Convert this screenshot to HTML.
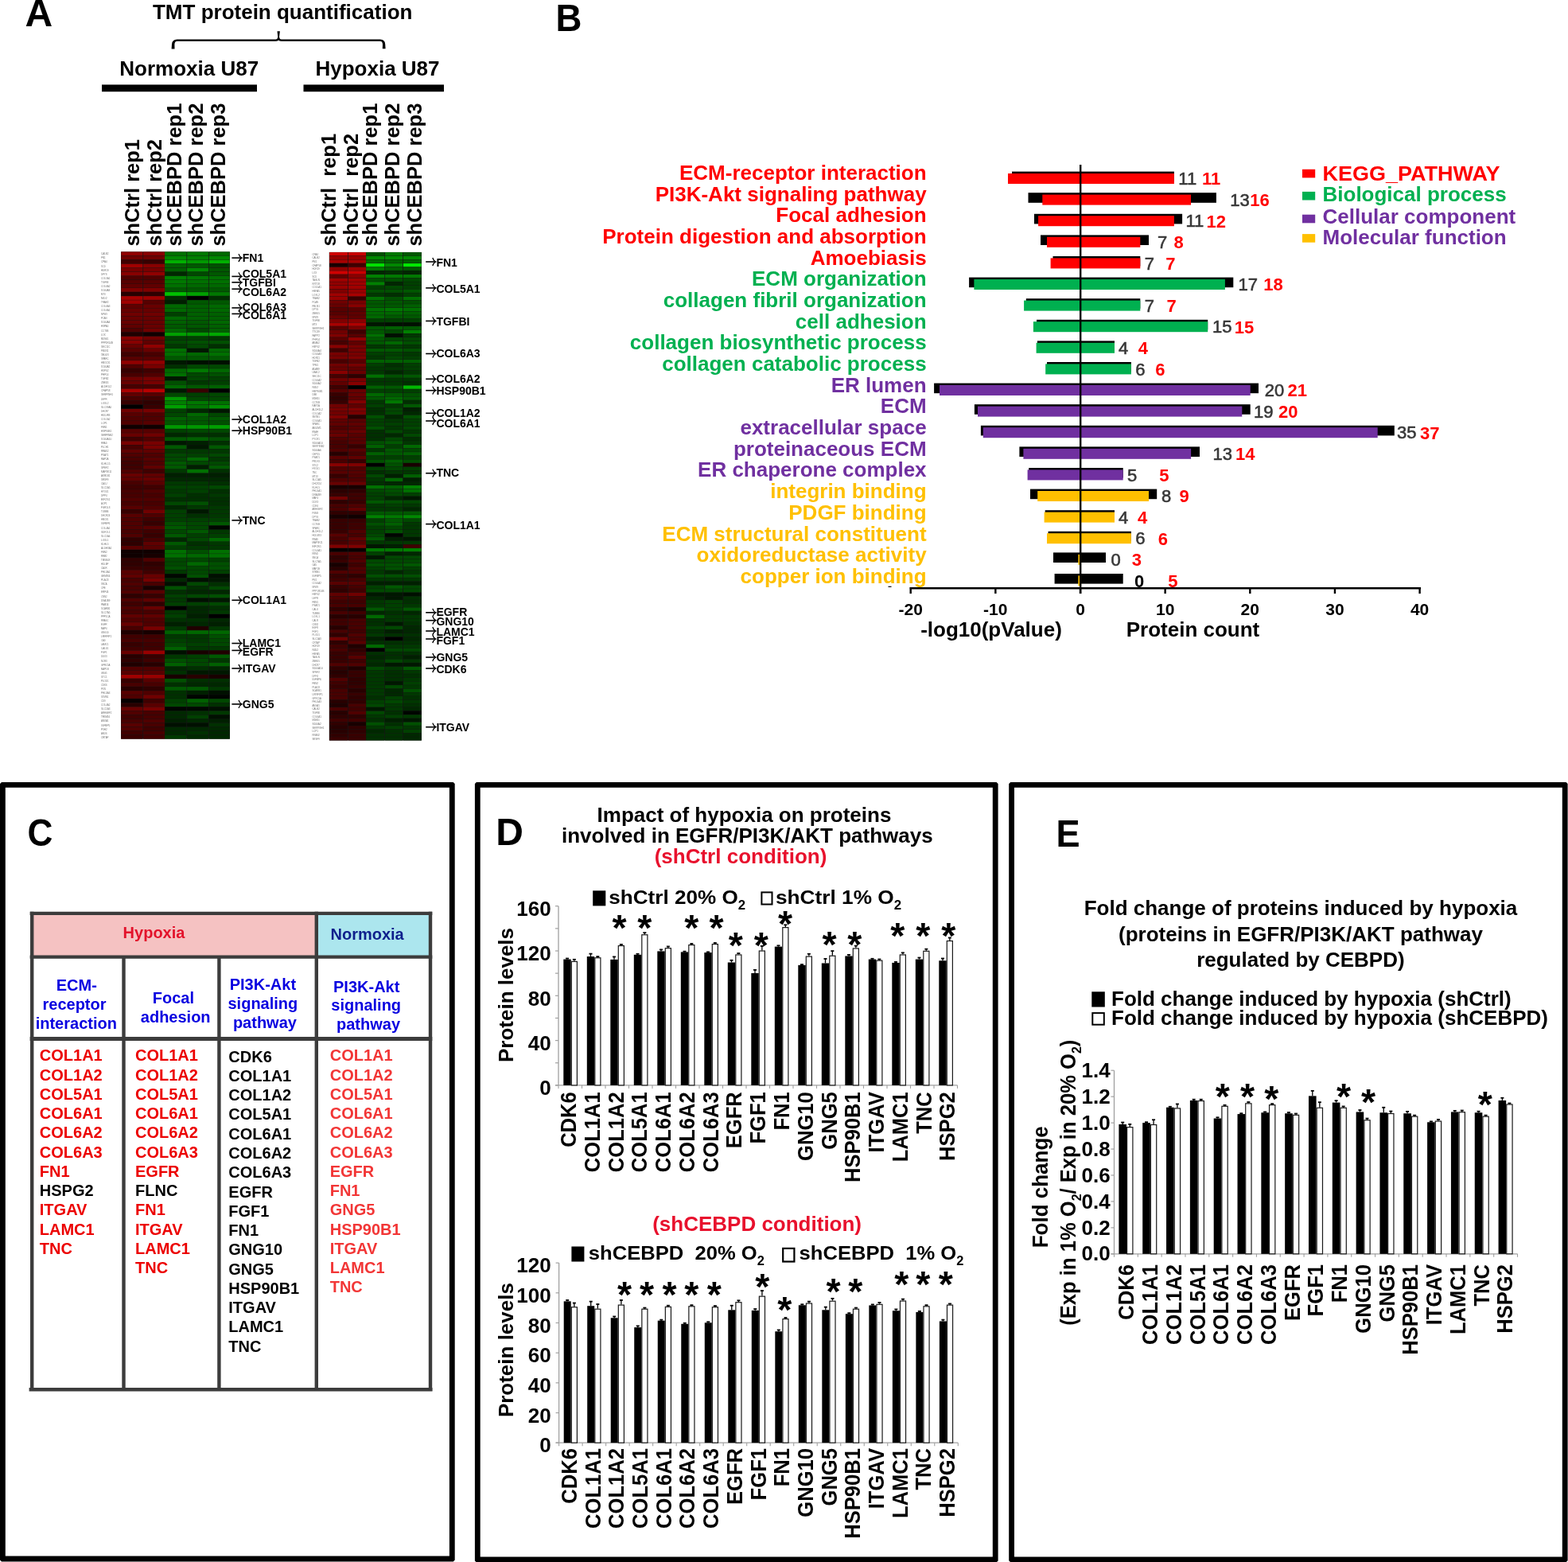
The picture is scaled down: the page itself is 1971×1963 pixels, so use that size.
<!DOCTYPE html>
<html><head><meta charset="utf-8"><title>Figure</title>
<style>
html,body{margin:0;padding:0;background:#fff;}
svg{display:block;}
svg text{font-family:"Liberation Sans",sans-serif;}
</style></head>
<body>
<svg width="1971" height="1963" viewBox="0 0 1971 1963">
<rect x="0" y="0" width="1971" height="1963" fill="#fff"/>
<text x="31.5" y="33.2" font-size="48" font-weight="bold" fill="#000" text-anchor="start">A</text>
<text x="355.2" y="23.6" font-size="26" font-weight="bold" fill="#000" text-anchor="middle">TMT protein quantification</text>
<path d="M222.5,49.4 L346.6,49.4 Q349.0,49.3 349.3,46.5 L348.5,39.3 L351.9,39.3 L351.0,46.5 Q351.3,49.3 353.7,49.4 L478.0,49.4 Q484.0,49.6 484.2,55.5 L484.6,61.3 L480.8,61.3 L481.0,56.0 Q481.0,51.9 477.5,51.8 L354.0,51.8 Q351.0,51.8 350.1,50.6 Q349.2,51.8 346.3,51.8 L223.0,51.8 Q219.4,51.9 219.4,56.0 L219.5,61.4 L215.6,61.4 L216.0,55.5 Q216.3,49.6 222.5,49.4 Z" fill="#000"/>
<text x="237.7" y="94.7" font-size="26" font-weight="bold" fill="#000" text-anchor="middle">Normoxia U87</text>
<text x="474.5" y="94.7" font-size="26" font-weight="bold" fill="#000" text-anchor="middle">Hypoxia U87</text>
<rect x="128.00" y="106.40" width="195.00" height="8.80" fill="#000"/>
<rect x="381.50" y="106.40" width="176.50" height="8.80" fill="#000"/>
<text transform="translate(175.1,309.6) rotate(-90)" font-size="25.5" font-weight="bold" fill="#000" text-anchor="start">shCtrl rep1</text>
<text transform="translate(203.1,309.6) rotate(-90)" font-size="25.5" font-weight="bold" fill="#000" text-anchor="start">shCtrl rep2</text>
<text transform="translate(227.6,309.6) rotate(-90)" font-size="25.5" font-weight="bold" fill="#000" text-anchor="start">shCEBPD rep1</text>
<text transform="translate(255.4,309.6) rotate(-90)" font-size="25.5" font-weight="bold" fill="#000" text-anchor="start">shCEBPD rep2</text>
<text transform="translate(283.0,309.6) rotate(-90)" font-size="25.5" font-weight="bold" fill="#000" text-anchor="start">shCEBPD rep3</text>
<text transform="translate(422.2,309.6) rotate(-90)" font-size="25.5" font-weight="bold" fill="#000" text-anchor="start">shCtrl  rep1</text>
<text transform="translate(450.0,309.6) rotate(-90)" font-size="25.5" font-weight="bold" fill="#000" text-anchor="start">shCtrl  rep2</text>
<text transform="translate(474.4,309.6) rotate(-90)" font-size="25.5" font-weight="bold" fill="#000" text-anchor="start">shCEBPD rep1</text>
<text transform="translate(502.2,309.6) rotate(-90)" font-size="25.5" font-weight="bold" fill="#000" text-anchor="start">shCEBPD rep2</text>
<text transform="translate(530.0,309.6) rotate(-90)" font-size="25.5" font-weight="bold" fill="#000" text-anchor="start">shCEBPD rep3</text>
<rect x="152.00" y="316.30" width="137.00" height="612.40" fill="#161616"/>
<rect x="152.35" y="316.48" width="27.10" height="4.70" fill="#900000"/>
<rect x="180.15" y="316.48" width="26.95" height="4.70" fill="#880000"/>
<rect x="207.10" y="316.48" width="27.35" height="4.70" fill="#007000"/>
<rect x="235.15" y="316.48" width="26.80" height="4.70" fill="#007800"/>
<rect x="262.65" y="316.48" width="26.00" height="4.70" fill="#006800"/>
<rect x="152.35" y="321.54" width="27.10" height="4.70" fill="#700000"/>
<rect x="180.15" y="321.54" width="26.95" height="4.70" fill="#700000"/>
<rect x="207.10" y="321.54" width="27.35" height="4.70" fill="#008800"/>
<rect x="235.15" y="321.54" width="26.80" height="4.70" fill="#008000"/>
<rect x="262.65" y="321.54" width="26.00" height="4.70" fill="#008800"/>
<rect x="152.35" y="326.60" width="27.10" height="4.70" fill="#400000"/>
<rect x="180.15" y="326.60" width="26.95" height="4.70" fill="#380000"/>
<rect x="207.10" y="326.60" width="27.35" height="4.70" fill="#00b000"/>
<rect x="235.15" y="326.60" width="26.80" height="4.70" fill="#009800"/>
<rect x="262.65" y="326.60" width="26.00" height="4.70" fill="#00b000"/>
<rect x="152.35" y="331.66" width="27.10" height="4.70" fill="#a00000"/>
<rect x="180.15" y="331.66" width="26.95" height="4.70" fill="#880000"/>
<rect x="207.10" y="331.66" width="27.35" height="4.70" fill="#006000"/>
<rect x="235.15" y="331.66" width="26.80" height="4.70" fill="#005800"/>
<rect x="262.65" y="331.66" width="26.00" height="4.70" fill="#005000"/>
<rect x="152.35" y="336.72" width="27.10" height="4.70" fill="#780000"/>
<rect x="180.15" y="336.72" width="26.95" height="4.70" fill="#780000"/>
<rect x="207.10" y="336.72" width="27.35" height="4.70" fill="#006000"/>
<rect x="235.15" y="336.72" width="26.80" height="4.70" fill="#008800"/>
<rect x="262.65" y="336.72" width="26.00" height="4.70" fill="#005800"/>
<rect x="152.35" y="341.79" width="27.10" height="4.70" fill="#880000"/>
<rect x="180.15" y="341.79" width="26.95" height="4.70" fill="#900000"/>
<rect x="207.10" y="341.79" width="27.35" height="4.70" fill="#002800"/>
<rect x="235.15" y="341.79" width="26.80" height="4.70" fill="#004800"/>
<rect x="262.65" y="341.79" width="26.00" height="4.70" fill="#005800"/>
<rect x="152.35" y="346.85" width="27.10" height="4.70" fill="#500000"/>
<rect x="180.15" y="346.85" width="26.95" height="4.70" fill="#500000"/>
<rect x="207.10" y="346.85" width="27.35" height="4.70" fill="#008000"/>
<rect x="235.15" y="346.85" width="26.80" height="4.70" fill="#007800"/>
<rect x="262.65" y="346.85" width="26.00" height="4.70" fill="#007000"/>
<rect x="152.35" y="351.91" width="27.10" height="4.70" fill="#580000"/>
<rect x="180.15" y="351.91" width="26.95" height="4.70" fill="#580000"/>
<rect x="207.10" y="351.91" width="27.35" height="4.70" fill="#007800"/>
<rect x="235.15" y="351.91" width="26.80" height="4.70" fill="#007000"/>
<rect x="262.65" y="351.91" width="26.00" height="4.70" fill="#007000"/>
<rect x="152.35" y="356.97" width="27.10" height="4.70" fill="#600000"/>
<rect x="180.15" y="356.97" width="26.95" height="4.70" fill="#600000"/>
<rect x="207.10" y="356.97" width="27.35" height="4.70" fill="#007000"/>
<rect x="235.15" y="356.97" width="26.80" height="4.70" fill="#006800"/>
<rect x="262.65" y="356.97" width="26.00" height="4.70" fill="#006800"/>
<rect x="152.35" y="362.03" width="27.10" height="4.70" fill="#800000"/>
<rect x="180.15" y="362.03" width="26.95" height="4.70" fill="#800000"/>
<rect x="207.10" y="362.03" width="27.35" height="4.70" fill="#005800"/>
<rect x="235.15" y="362.03" width="26.80" height="4.70" fill="#005800"/>
<rect x="262.65" y="362.03" width="26.00" height="4.70" fill="#005800"/>
<rect x="152.35" y="367.09" width="27.10" height="4.70" fill="#280000"/>
<rect x="180.15" y="367.09" width="26.95" height="4.70" fill="#300000"/>
<rect x="207.10" y="367.09" width="27.35" height="4.70" fill="#00c000"/>
<rect x="235.15" y="367.09" width="26.80" height="4.70" fill="#00a000"/>
<rect x="262.65" y="367.09" width="26.00" height="4.70" fill="#007800"/>
<rect x="152.35" y="372.15" width="27.10" height="4.70" fill="#a80000"/>
<rect x="180.15" y="372.15" width="26.95" height="4.70" fill="#a00000"/>
<rect x="207.10" y="372.15" width="27.35" height="4.70" fill="#003000"/>
<rect x="235.15" y="372.15" width="26.80" height="4.70" fill="#000000"/>
<rect x="262.65" y="372.15" width="26.00" height="4.70" fill="#003000"/>
<rect x="152.35" y="377.21" width="27.10" height="4.70" fill="#a00000"/>
<rect x="180.15" y="377.21" width="26.95" height="4.70" fill="#580000"/>
<rect x="207.10" y="377.21" width="27.35" height="4.70" fill="#002000"/>
<rect x="235.15" y="377.21" width="26.80" height="4.70" fill="#005800"/>
<rect x="262.65" y="377.21" width="26.00" height="4.70" fill="#005800"/>
<rect x="152.35" y="382.28" width="27.10" height="4.70" fill="#600000"/>
<rect x="180.15" y="382.28" width="26.95" height="4.70" fill="#680000"/>
<rect x="207.10" y="382.28" width="27.35" height="4.70" fill="#006800"/>
<rect x="235.15" y="382.28" width="26.80" height="4.70" fill="#006000"/>
<rect x="262.65" y="382.28" width="26.00" height="4.70" fill="#006800"/>
<rect x="152.35" y="387.34" width="27.10" height="4.70" fill="#680000"/>
<rect x="180.15" y="387.34" width="26.95" height="4.70" fill="#680000"/>
<rect x="207.10" y="387.34" width="27.35" height="4.70" fill="#006800"/>
<rect x="235.15" y="387.34" width="26.80" height="4.70" fill="#006000"/>
<rect x="262.65" y="387.34" width="26.00" height="4.70" fill="#006800"/>
<rect x="152.35" y="392.40" width="27.10" height="4.70" fill="#700000"/>
<rect x="180.15" y="392.40" width="26.95" height="4.70" fill="#700000"/>
<rect x="207.10" y="392.40" width="27.35" height="4.70" fill="#004000"/>
<rect x="235.15" y="392.40" width="26.80" height="4.70" fill="#006000"/>
<rect x="262.65" y="392.40" width="26.00" height="4.70" fill="#006000"/>
<rect x="152.35" y="397.46" width="27.10" height="4.70" fill="#680000"/>
<rect x="180.15" y="397.46" width="26.95" height="4.70" fill="#680000"/>
<rect x="207.10" y="397.46" width="27.35" height="4.70" fill="#006800"/>
<rect x="235.15" y="397.46" width="26.80" height="4.70" fill="#006000"/>
<rect x="262.65" y="397.46" width="26.00" height="4.70" fill="#006000"/>
<rect x="152.35" y="402.52" width="27.10" height="4.70" fill="#680000"/>
<rect x="180.15" y="402.52" width="26.95" height="4.70" fill="#680000"/>
<rect x="207.10" y="402.52" width="27.35" height="4.70" fill="#006000"/>
<rect x="235.15" y="402.52" width="26.80" height="4.70" fill="#005800"/>
<rect x="262.65" y="402.52" width="26.00" height="4.70" fill="#006800"/>
<rect x="152.35" y="407.58" width="27.10" height="4.70" fill="#600000"/>
<rect x="180.15" y="407.58" width="26.95" height="4.70" fill="#680000"/>
<rect x="207.10" y="407.58" width="27.35" height="4.70" fill="#005800"/>
<rect x="235.15" y="407.58" width="26.80" height="4.70" fill="#005800"/>
<rect x="262.65" y="407.58" width="26.00" height="4.70" fill="#006000"/>
<rect x="152.35" y="412.64" width="27.10" height="4.70" fill="#500000"/>
<rect x="180.15" y="412.64" width="26.95" height="4.70" fill="#700000"/>
<rect x="207.10" y="412.64" width="27.35" height="4.70" fill="#006800"/>
<rect x="235.15" y="412.64" width="26.80" height="4.70" fill="#004800"/>
<rect x="262.65" y="412.64" width="26.00" height="4.70" fill="#006000"/>
<rect x="152.35" y="417.70" width="27.10" height="4.70" fill="#200000"/>
<rect x="180.15" y="417.70" width="26.95" height="4.70" fill="#100000"/>
<rect x="207.10" y="417.70" width="27.35" height="4.70" fill="#00a000"/>
<rect x="235.15" y="417.70" width="26.80" height="4.70" fill="#009800"/>
<rect x="262.65" y="417.70" width="26.00" height="4.70" fill="#00a800"/>
<rect x="152.35" y="422.76" width="27.10" height="4.70" fill="#880000"/>
<rect x="180.15" y="422.76" width="26.95" height="4.70" fill="#700000"/>
<rect x="207.10" y="422.76" width="27.35" height="4.70" fill="#004000"/>
<rect x="235.15" y="422.76" width="26.80" height="4.70" fill="#004000"/>
<rect x="262.65" y="422.76" width="26.00" height="4.70" fill="#003800"/>
<rect x="152.35" y="427.83" width="27.10" height="4.70" fill="#880000"/>
<rect x="180.15" y="427.83" width="26.95" height="4.70" fill="#600000"/>
<rect x="207.10" y="427.83" width="27.35" height="4.70" fill="#004800"/>
<rect x="235.15" y="427.83" width="26.80" height="4.70" fill="#005000"/>
<rect x="262.65" y="427.83" width="26.00" height="4.70" fill="#005000"/>
<rect x="152.35" y="432.89" width="27.10" height="4.70" fill="#680000"/>
<rect x="180.15" y="432.89" width="26.95" height="4.70" fill="#900000"/>
<rect x="207.10" y="432.89" width="27.35" height="4.70" fill="#003800"/>
<rect x="235.15" y="432.89" width="26.80" height="4.70" fill="#004800"/>
<rect x="262.65" y="432.89" width="26.00" height="4.70" fill="#003000"/>
<rect x="152.35" y="437.95" width="27.10" height="4.70" fill="#580000"/>
<rect x="180.15" y="437.95" width="26.95" height="4.70" fill="#680000"/>
<rect x="207.10" y="437.95" width="27.35" height="4.70" fill="#007000"/>
<rect x="235.15" y="437.95" width="26.80" height="4.70" fill="#001800"/>
<rect x="262.65" y="437.95" width="26.00" height="4.70" fill="#006800"/>
<rect x="152.35" y="443.01" width="27.10" height="4.70" fill="#400000"/>
<rect x="180.15" y="443.01" width="26.95" height="4.70" fill="#480000"/>
<rect x="207.10" y="443.01" width="27.35" height="4.70" fill="#007000"/>
<rect x="235.15" y="443.01" width="26.80" height="4.70" fill="#006800"/>
<rect x="262.65" y="443.01" width="26.00" height="4.70" fill="#007000"/>
<rect x="152.35" y="448.07" width="27.10" height="4.70" fill="#580000"/>
<rect x="180.15" y="448.07" width="26.95" height="4.70" fill="#580000"/>
<rect x="207.10" y="448.07" width="27.35" height="4.70" fill="#005800"/>
<rect x="235.15" y="448.07" width="26.80" height="4.70" fill="#005800"/>
<rect x="262.65" y="448.07" width="26.00" height="4.70" fill="#005800"/>
<rect x="152.35" y="453.13" width="27.10" height="4.70" fill="#900000"/>
<rect x="180.15" y="453.13" width="26.95" height="4.70" fill="#900000"/>
<rect x="207.10" y="453.13" width="27.35" height="4.70" fill="#001800"/>
<rect x="235.15" y="453.13" width="26.80" height="4.70" fill="#001000"/>
<rect x="262.65" y="453.13" width="26.00" height="4.70" fill="#001000"/>
<rect x="152.35" y="458.19" width="27.10" height="4.70" fill="#500000"/>
<rect x="180.15" y="458.19" width="26.95" height="4.70" fill="#780000"/>
<rect x="207.10" y="458.19" width="27.35" height="4.70" fill="#003000"/>
<rect x="235.15" y="458.19" width="26.80" height="4.70" fill="#004800"/>
<rect x="262.65" y="458.19" width="26.00" height="4.70" fill="#004800"/>
<rect x="152.35" y="463.25" width="27.10" height="4.70" fill="#380000"/>
<rect x="180.15" y="463.25" width="26.95" height="4.70" fill="#400000"/>
<rect x="207.10" y="463.25" width="27.35" height="4.70" fill="#006800"/>
<rect x="235.15" y="463.25" width="26.80" height="4.70" fill="#007800"/>
<rect x="262.65" y="463.25" width="26.00" height="4.70" fill="#006800"/>
<rect x="152.35" y="468.31" width="27.10" height="4.70" fill="#480000"/>
<rect x="180.15" y="468.31" width="26.95" height="4.70" fill="#500000"/>
<rect x="207.10" y="468.31" width="27.35" height="4.70" fill="#007000"/>
<rect x="235.15" y="468.31" width="26.80" height="4.70" fill="#004800"/>
<rect x="262.65" y="468.31" width="26.00" height="4.70" fill="#005000"/>
<rect x="152.35" y="473.38" width="27.10" height="4.70" fill="#700000"/>
<rect x="180.15" y="473.38" width="26.95" height="4.70" fill="#780000"/>
<rect x="207.10" y="473.38" width="27.35" height="4.70" fill="#001800"/>
<rect x="235.15" y="473.38" width="26.80" height="4.70" fill="#004800"/>
<rect x="262.65" y="473.38" width="26.00" height="4.70" fill="#004000"/>
<rect x="152.35" y="478.44" width="27.10" height="4.70" fill="#680000"/>
<rect x="180.15" y="478.44" width="26.95" height="4.70" fill="#780000"/>
<rect x="207.10" y="478.44" width="27.35" height="4.70" fill="#005000"/>
<rect x="235.15" y="478.44" width="26.80" height="4.70" fill="#003800"/>
<rect x="262.65" y="478.44" width="26.00" height="4.70" fill="#004000"/>
<rect x="152.35" y="483.50" width="27.10" height="4.70" fill="#480000"/>
<rect x="180.15" y="483.50" width="26.95" height="4.70" fill="#480000"/>
<rect x="207.10" y="483.50" width="27.35" height="4.70" fill="#006800"/>
<rect x="235.15" y="483.50" width="26.80" height="4.70" fill="#005800"/>
<rect x="262.65" y="483.50" width="26.00" height="4.70" fill="#006000"/>
<rect x="152.35" y="488.56" width="27.10" height="4.70" fill="#a80000"/>
<rect x="180.15" y="488.56" width="26.95" height="4.70" fill="#b80000"/>
<rect x="207.10" y="488.56" width="27.35" height="4.70" fill="#001800"/>
<rect x="235.15" y="488.56" width="26.80" height="4.70" fill="#380000"/>
<rect x="262.65" y="488.56" width="26.00" height="4.70" fill="#000000"/>
<rect x="152.35" y="493.62" width="27.10" height="4.70" fill="#600000"/>
<rect x="180.15" y="493.62" width="26.95" height="4.70" fill="#580000"/>
<rect x="207.10" y="493.62" width="27.35" height="4.70" fill="#004800"/>
<rect x="235.15" y="493.62" width="26.80" height="4.70" fill="#004000"/>
<rect x="262.65" y="493.62" width="26.00" height="4.70" fill="#004800"/>
<rect x="152.35" y="498.68" width="27.10" height="4.70" fill="#480000"/>
<rect x="180.15" y="498.68" width="26.95" height="4.70" fill="#400000"/>
<rect x="207.10" y="498.68" width="27.35" height="4.70" fill="#009800"/>
<rect x="235.15" y="498.68" width="26.80" height="4.70" fill="#004800"/>
<rect x="262.65" y="498.68" width="26.00" height="4.70" fill="#004800"/>
<rect x="152.35" y="503.74" width="27.10" height="4.70" fill="#380000"/>
<rect x="180.15" y="503.74" width="26.95" height="4.70" fill="#300000"/>
<rect x="207.10" y="503.74" width="27.35" height="4.70" fill="#008000"/>
<rect x="235.15" y="503.74" width="26.80" height="4.70" fill="#007800"/>
<rect x="262.65" y="503.74" width="26.00" height="4.70" fill="#007000"/>
<rect x="152.35" y="508.80" width="27.10" height="4.70" fill="#000000"/>
<rect x="180.15" y="508.80" width="26.95" height="4.70" fill="#380000"/>
<rect x="207.10" y="508.80" width="27.35" height="4.70" fill="#00a000"/>
<rect x="235.15" y="508.80" width="26.80" height="4.70" fill="#007000"/>
<rect x="262.65" y="508.80" width="26.00" height="4.70" fill="#009000"/>
<rect x="152.35" y="513.87" width="27.10" height="4.70" fill="#700000"/>
<rect x="180.15" y="513.87" width="26.95" height="4.70" fill="#780000"/>
<rect x="207.10" y="513.87" width="27.35" height="4.70" fill="#004000"/>
<rect x="235.15" y="513.87" width="26.80" height="4.70" fill="#002800"/>
<rect x="262.65" y="513.87" width="26.00" height="4.70" fill="#001800"/>
<rect x="152.35" y="518.93" width="27.10" height="4.70" fill="#580000"/>
<rect x="180.15" y="518.93" width="26.95" height="4.70" fill="#500000"/>
<rect x="207.10" y="518.93" width="27.35" height="4.70" fill="#004800"/>
<rect x="235.15" y="518.93" width="26.80" height="4.70" fill="#006800"/>
<rect x="262.65" y="518.93" width="26.00" height="4.70" fill="#004800"/>
<rect x="152.35" y="523.99" width="27.10" height="4.70" fill="#500000"/>
<rect x="180.15" y="523.99" width="26.95" height="4.70" fill="#500000"/>
<rect x="207.10" y="523.99" width="27.35" height="4.70" fill="#006000"/>
<rect x="235.15" y="523.99" width="26.80" height="4.70" fill="#005800"/>
<rect x="262.65" y="523.99" width="26.00" height="4.70" fill="#005800"/>
<rect x="152.35" y="529.05" width="27.10" height="4.70" fill="#500000"/>
<rect x="180.15" y="529.05" width="26.95" height="4.70" fill="#580000"/>
<rect x="207.10" y="529.05" width="27.35" height="4.70" fill="#005800"/>
<rect x="235.15" y="529.05" width="26.80" height="4.70" fill="#005800"/>
<rect x="262.65" y="529.05" width="26.00" height="4.70" fill="#005000"/>
<rect x="152.35" y="534.11" width="27.10" height="4.70" fill="#100000"/>
<rect x="180.15" y="534.11" width="26.95" height="4.70" fill="#100000"/>
<rect x="207.10" y="534.11" width="27.35" height="4.70" fill="#009800"/>
<rect x="235.15" y="534.11" width="26.80" height="4.70" fill="#009800"/>
<rect x="262.65" y="534.11" width="26.00" height="4.70" fill="#00a000"/>
<rect x="152.35" y="539.17" width="27.10" height="4.70" fill="#580000"/>
<rect x="180.15" y="539.17" width="26.95" height="4.70" fill="#580000"/>
<rect x="207.10" y="539.17" width="27.35" height="4.70" fill="#004000"/>
<rect x="235.15" y="539.17" width="26.80" height="4.70" fill="#004800"/>
<rect x="262.65" y="539.17" width="26.00" height="4.70" fill="#004800"/>
<rect x="152.35" y="544.23" width="27.10" height="4.70" fill="#680000"/>
<rect x="180.15" y="544.23" width="26.95" height="4.70" fill="#700000"/>
<rect x="207.10" y="544.23" width="27.35" height="4.70" fill="#002800"/>
<rect x="235.15" y="544.23" width="26.80" height="4.70" fill="#003000"/>
<rect x="262.65" y="544.23" width="26.00" height="4.70" fill="#003000"/>
<rect x="152.35" y="549.29" width="27.10" height="4.70" fill="#400000"/>
<rect x="180.15" y="549.29" width="26.95" height="4.70" fill="#500000"/>
<rect x="207.10" y="549.29" width="27.35" height="4.70" fill="#005800"/>
<rect x="235.15" y="549.29" width="26.80" height="4.70" fill="#006000"/>
<rect x="262.65" y="549.29" width="26.00" height="4.70" fill="#005000"/>
<rect x="152.35" y="554.35" width="27.10" height="4.70" fill="#780000"/>
<rect x="180.15" y="554.35" width="26.95" height="4.70" fill="#780000"/>
<rect x="207.10" y="554.35" width="27.35" height="4.70" fill="#001800"/>
<rect x="235.15" y="554.35" width="26.80" height="4.70" fill="#002000"/>
<rect x="262.65" y="554.35" width="26.00" height="4.70" fill="#003000"/>
<rect x="152.35" y="559.42" width="27.10" height="4.70" fill="#480000"/>
<rect x="180.15" y="559.42" width="26.95" height="4.70" fill="#780000"/>
<rect x="207.10" y="559.42" width="27.35" height="4.70" fill="#005800"/>
<rect x="235.15" y="559.42" width="26.80" height="4.70" fill="#001800"/>
<rect x="262.65" y="559.42" width="26.00" height="4.70" fill="#005800"/>
<rect x="152.35" y="564.48" width="27.10" height="4.70" fill="#600000"/>
<rect x="180.15" y="564.48" width="26.95" height="4.70" fill="#600000"/>
<rect x="207.10" y="564.48" width="27.35" height="4.70" fill="#003800"/>
<rect x="235.15" y="564.48" width="26.80" height="4.70" fill="#003800"/>
<rect x="262.65" y="564.48" width="26.00" height="4.70" fill="#003800"/>
<rect x="152.35" y="569.54" width="27.10" height="4.70" fill="#500000"/>
<rect x="180.15" y="569.54" width="26.95" height="4.70" fill="#500000"/>
<rect x="207.10" y="569.54" width="27.35" height="4.70" fill="#004800"/>
<rect x="235.15" y="569.54" width="26.80" height="4.70" fill="#004000"/>
<rect x="262.65" y="569.54" width="26.00" height="4.70" fill="#004800"/>
<rect x="152.35" y="574.60" width="27.10" height="4.70" fill="#480000"/>
<rect x="180.15" y="574.60" width="26.95" height="4.70" fill="#580000"/>
<rect x="207.10" y="574.60" width="27.35" height="4.70" fill="#004800"/>
<rect x="235.15" y="574.60" width="26.80" height="4.70" fill="#006800"/>
<rect x="262.65" y="574.60" width="26.00" height="4.70" fill="#003800"/>
<rect x="152.35" y="579.66" width="27.10" height="4.70" fill="#400000"/>
<rect x="180.15" y="579.66" width="26.95" height="4.70" fill="#500000"/>
<rect x="207.10" y="579.66" width="27.35" height="4.70" fill="#005800"/>
<rect x="235.15" y="579.66" width="26.80" height="4.70" fill="#004800"/>
<rect x="262.65" y="579.66" width="26.00" height="4.70" fill="#004800"/>
<rect x="152.35" y="584.72" width="27.10" height="4.70" fill="#400000"/>
<rect x="180.15" y="584.72" width="26.95" height="4.70" fill="#600000"/>
<rect x="207.10" y="584.72" width="27.35" height="4.70" fill="#005800"/>
<rect x="235.15" y="584.72" width="26.80" height="4.70" fill="#002000"/>
<rect x="262.65" y="584.72" width="26.00" height="4.70" fill="#005800"/>
<rect x="152.35" y="589.78" width="27.10" height="4.70" fill="#500000"/>
<rect x="180.15" y="589.78" width="26.95" height="4.70" fill="#400000"/>
<rect x="207.10" y="589.78" width="27.35" height="4.70" fill="#003800"/>
<rect x="235.15" y="589.78" width="26.80" height="4.70" fill="#007000"/>
<rect x="262.65" y="589.78" width="26.00" height="4.70" fill="#003000"/>
<rect x="152.35" y="594.84" width="27.10" height="4.70" fill="#680000"/>
<rect x="180.15" y="594.84" width="26.95" height="4.70" fill="#600000"/>
<rect x="207.10" y="594.84" width="27.35" height="4.70" fill="#002000"/>
<rect x="235.15" y="594.84" width="26.80" height="4.70" fill="#002000"/>
<rect x="262.65" y="594.84" width="26.00" height="4.70" fill="#002000"/>
<rect x="152.35" y="599.90" width="27.10" height="4.70" fill="#600000"/>
<rect x="180.15" y="599.90" width="26.95" height="4.70" fill="#680000"/>
<rect x="207.10" y="599.90" width="27.35" height="4.70" fill="#002800"/>
<rect x="235.15" y="599.90" width="26.80" height="4.70" fill="#002800"/>
<rect x="262.65" y="599.90" width="26.00" height="4.70" fill="#002800"/>
<rect x="152.35" y="604.97" width="27.10" height="4.70" fill="#480000"/>
<rect x="180.15" y="604.97" width="26.95" height="4.70" fill="#580000"/>
<rect x="207.10" y="604.97" width="27.35" height="4.70" fill="#003800"/>
<rect x="235.15" y="604.97" width="26.80" height="4.70" fill="#003800"/>
<rect x="262.65" y="604.97" width="26.00" height="4.70" fill="#003000"/>
<rect x="152.35" y="610.03" width="27.10" height="4.70" fill="#400000"/>
<rect x="180.15" y="610.03" width="26.95" height="4.70" fill="#400000"/>
<rect x="207.10" y="610.03" width="27.35" height="4.70" fill="#004000"/>
<rect x="235.15" y="610.03" width="26.80" height="4.70" fill="#004000"/>
<rect x="262.65" y="610.03" width="26.00" height="4.70" fill="#004800"/>
<rect x="152.35" y="615.09" width="27.10" height="4.70" fill="#480000"/>
<rect x="180.15" y="615.09" width="26.95" height="4.70" fill="#500000"/>
<rect x="207.10" y="615.09" width="27.35" height="4.70" fill="#003800"/>
<rect x="235.15" y="615.09" width="26.80" height="4.70" fill="#004000"/>
<rect x="262.65" y="615.09" width="26.00" height="4.70" fill="#003000"/>
<rect x="152.35" y="620.15" width="27.10" height="4.70" fill="#480000"/>
<rect x="180.15" y="620.15" width="26.95" height="4.70" fill="#480000"/>
<rect x="207.10" y="620.15" width="27.35" height="4.70" fill="#004000"/>
<rect x="235.15" y="620.15" width="26.80" height="4.70" fill="#003000"/>
<rect x="262.65" y="620.15" width="26.00" height="4.70" fill="#003800"/>
<rect x="152.35" y="625.21" width="27.10" height="4.70" fill="#500000"/>
<rect x="180.15" y="625.21" width="26.95" height="4.70" fill="#500000"/>
<rect x="207.10" y="625.21" width="27.35" height="4.70" fill="#003000"/>
<rect x="235.15" y="625.21" width="26.80" height="4.70" fill="#003000"/>
<rect x="262.65" y="625.21" width="26.00" height="4.70" fill="#003000"/>
<rect x="152.35" y="630.27" width="27.10" height="4.70" fill="#480000"/>
<rect x="180.15" y="630.27" width="26.95" height="4.70" fill="#480000"/>
<rect x="207.10" y="630.27" width="27.35" height="4.70" fill="#004800"/>
<rect x="235.15" y="630.27" width="26.80" height="4.70" fill="#005000"/>
<rect x="262.65" y="630.27" width="26.00" height="4.70" fill="#003000"/>
<rect x="152.35" y="635.33" width="27.10" height="4.70" fill="#580000"/>
<rect x="180.15" y="635.33" width="26.95" height="4.70" fill="#500000"/>
<rect x="207.10" y="635.33" width="27.35" height="4.70" fill="#002800"/>
<rect x="235.15" y="635.33" width="26.80" height="4.70" fill="#003800"/>
<rect x="262.65" y="635.33" width="26.00" height="4.70" fill="#003800"/>
<rect x="152.35" y="640.39" width="27.10" height="4.70" fill="#380000"/>
<rect x="180.15" y="640.39" width="26.95" height="4.70" fill="#700000"/>
<rect x="207.10" y="640.39" width="27.35" height="4.70" fill="#004000"/>
<rect x="235.15" y="640.39" width="26.80" height="4.70" fill="#001800"/>
<rect x="262.65" y="640.39" width="26.00" height="4.70" fill="#003800"/>
<rect x="152.35" y="645.46" width="27.10" height="4.70" fill="#580000"/>
<rect x="180.15" y="645.46" width="26.95" height="4.70" fill="#500000"/>
<rect x="207.10" y="645.46" width="27.35" height="4.70" fill="#004000"/>
<rect x="235.15" y="645.46" width="26.80" height="4.70" fill="#003000"/>
<rect x="262.65" y="645.46" width="26.00" height="4.70" fill="#003800"/>
<rect x="152.35" y="650.52" width="27.10" height="4.70" fill="#500000"/>
<rect x="180.15" y="650.52" width="26.95" height="4.70" fill="#400000"/>
<rect x="207.10" y="650.52" width="27.35" height="4.70" fill="#004000"/>
<rect x="235.15" y="650.52" width="26.80" height="4.70" fill="#004000"/>
<rect x="262.65" y="650.52" width="26.00" height="4.70" fill="#004000"/>
<rect x="152.35" y="655.58" width="27.10" height="4.70" fill="#500000"/>
<rect x="180.15" y="655.58" width="26.95" height="4.70" fill="#380000"/>
<rect x="207.10" y="655.58" width="27.35" height="4.70" fill="#005000"/>
<rect x="235.15" y="655.58" width="26.80" height="4.70" fill="#004800"/>
<rect x="262.65" y="655.58" width="26.00" height="4.70" fill="#005800"/>
<rect x="152.35" y="660.64" width="27.10" height="4.70" fill="#500000"/>
<rect x="180.15" y="660.64" width="26.95" height="4.70" fill="#580000"/>
<rect x="207.10" y="660.64" width="27.35" height="4.70" fill="#005800"/>
<rect x="235.15" y="660.64" width="26.80" height="4.70" fill="#004800"/>
<rect x="262.65" y="660.64" width="26.00" height="4.70" fill="#000800"/>
<rect x="152.35" y="665.70" width="27.10" height="4.70" fill="#480000"/>
<rect x="180.15" y="665.70" width="26.95" height="4.70" fill="#400000"/>
<rect x="207.10" y="665.70" width="27.35" height="4.70" fill="#004800"/>
<rect x="235.15" y="665.70" width="26.80" height="4.70" fill="#005800"/>
<rect x="262.65" y="665.70" width="26.00" height="4.70" fill="#003800"/>
<rect x="152.35" y="670.76" width="27.10" height="4.70" fill="#500000"/>
<rect x="180.15" y="670.76" width="26.95" height="4.70" fill="#380000"/>
<rect x="207.10" y="670.76" width="27.35" height="4.70" fill="#005800"/>
<rect x="235.15" y="670.76" width="26.80" height="4.70" fill="#004000"/>
<rect x="262.65" y="670.76" width="26.00" height="4.70" fill="#004000"/>
<rect x="152.35" y="675.82" width="27.10" height="4.70" fill="#300000"/>
<rect x="180.15" y="675.82" width="26.95" height="4.70" fill="#480000"/>
<rect x="207.10" y="675.82" width="27.35" height="4.70" fill="#002800"/>
<rect x="235.15" y="675.82" width="26.80" height="4.70" fill="#004800"/>
<rect x="262.65" y="675.82" width="26.00" height="4.70" fill="#006800"/>
<rect x="152.35" y="680.88" width="27.10" height="4.70" fill="#300000"/>
<rect x="180.15" y="680.88" width="26.95" height="4.70" fill="#600000"/>
<rect x="207.10" y="680.88" width="27.35" height="4.70" fill="#005800"/>
<rect x="235.15" y="680.88" width="26.80" height="4.70" fill="#003000"/>
<rect x="262.65" y="680.88" width="26.00" height="4.70" fill="#003800"/>
<rect x="152.35" y="685.94" width="27.10" height="4.70" fill="#580000"/>
<rect x="180.15" y="685.94" width="26.95" height="4.70" fill="#580000"/>
<rect x="207.10" y="685.94" width="27.35" height="4.70" fill="#004000"/>
<rect x="235.15" y="685.94" width="26.80" height="4.70" fill="#003800"/>
<rect x="262.65" y="685.94" width="26.00" height="4.70" fill="#003800"/>
<rect x="152.35" y="691.01" width="27.10" height="4.70" fill="#100000"/>
<rect x="180.15" y="691.01" width="26.95" height="4.70" fill="#100000"/>
<rect x="207.10" y="691.01" width="27.35" height="4.70" fill="#007000"/>
<rect x="235.15" y="691.01" width="26.80" height="4.70" fill="#005000"/>
<rect x="262.65" y="691.01" width="26.00" height="4.70" fill="#007000"/>
<rect x="152.35" y="696.07" width="27.10" height="4.70" fill="#100000"/>
<rect x="180.15" y="696.07" width="26.95" height="4.70" fill="#180000"/>
<rect x="207.10" y="696.07" width="27.35" height="4.70" fill="#007000"/>
<rect x="235.15" y="696.07" width="26.80" height="4.70" fill="#006800"/>
<rect x="262.65" y="696.07" width="26.00" height="4.70" fill="#007000"/>
<rect x="152.35" y="701.13" width="27.10" height="4.70" fill="#300000"/>
<rect x="180.15" y="701.13" width="26.95" height="4.70" fill="#500000"/>
<rect x="207.10" y="701.13" width="27.35" height="4.70" fill="#004800"/>
<rect x="235.15" y="701.13" width="26.80" height="4.70" fill="#004800"/>
<rect x="262.65" y="701.13" width="26.00" height="4.70" fill="#004000"/>
<rect x="152.35" y="706.19" width="27.10" height="4.70" fill="#300000"/>
<rect x="180.15" y="706.19" width="26.95" height="4.70" fill="#300000"/>
<rect x="207.10" y="706.19" width="27.35" height="4.70" fill="#004800"/>
<rect x="235.15" y="706.19" width="26.80" height="4.70" fill="#006800"/>
<rect x="262.65" y="706.19" width="26.00" height="4.70" fill="#005000"/>
<rect x="152.35" y="711.25" width="27.10" height="4.70" fill="#380000"/>
<rect x="180.15" y="711.25" width="26.95" height="4.70" fill="#380000"/>
<rect x="207.10" y="711.25" width="27.35" height="4.70" fill="#005000"/>
<rect x="235.15" y="711.25" width="26.80" height="4.70" fill="#004800"/>
<rect x="262.65" y="711.25" width="26.00" height="4.70" fill="#005000"/>
<rect x="152.35" y="716.31" width="27.10" height="4.70" fill="#580000"/>
<rect x="180.15" y="716.31" width="26.95" height="4.70" fill="#400000"/>
<rect x="207.10" y="716.31" width="27.35" height="4.70" fill="#003800"/>
<rect x="235.15" y="716.31" width="26.80" height="4.70" fill="#004800"/>
<rect x="262.65" y="716.31" width="26.00" height="4.70" fill="#004000"/>
<rect x="152.35" y="721.37" width="27.10" height="4.70" fill="#600000"/>
<rect x="180.15" y="721.37" width="26.95" height="4.70" fill="#680000"/>
<rect x="207.10" y="721.37" width="27.35" height="4.70" fill="#000800"/>
<rect x="235.15" y="721.37" width="26.80" height="4.70" fill="#005000"/>
<rect x="262.65" y="721.37" width="26.00" height="4.70" fill="#001000"/>
<rect x="152.35" y="726.43" width="27.10" height="4.70" fill="#480000"/>
<rect x="180.15" y="726.43" width="26.95" height="4.70" fill="#780000"/>
<rect x="207.10" y="726.43" width="27.35" height="4.70" fill="#002800"/>
<rect x="235.15" y="726.43" width="26.80" height="4.70" fill="#001000"/>
<rect x="262.65" y="726.43" width="26.00" height="4.70" fill="#001800"/>
<rect x="152.35" y="731.49" width="27.10" height="4.70" fill="#500000"/>
<rect x="180.15" y="731.49" width="26.95" height="4.70" fill="#480000"/>
<rect x="207.10" y="731.49" width="27.35" height="4.70" fill="#001000"/>
<rect x="235.15" y="731.49" width="26.80" height="4.70" fill="#004800"/>
<rect x="262.65" y="731.49" width="26.00" height="4.70" fill="#003000"/>
<rect x="152.35" y="736.56" width="27.10" height="4.70" fill="#480000"/>
<rect x="180.15" y="736.56" width="26.95" height="4.70" fill="#180000"/>
<rect x="207.10" y="736.56" width="27.35" height="4.70" fill="#005000"/>
<rect x="235.15" y="736.56" width="26.80" height="4.70" fill="#003000"/>
<rect x="262.65" y="736.56" width="26.00" height="4.70" fill="#004800"/>
<rect x="152.35" y="741.62" width="27.10" height="4.70" fill="#500000"/>
<rect x="180.15" y="741.62" width="26.95" height="4.70" fill="#580000"/>
<rect x="207.10" y="741.62" width="27.35" height="4.70" fill="#003000"/>
<rect x="235.15" y="741.62" width="26.80" height="4.70" fill="#002800"/>
<rect x="262.65" y="741.62" width="26.00" height="4.70" fill="#002800"/>
<rect x="152.35" y="746.68" width="27.10" height="4.70" fill="#300000"/>
<rect x="180.15" y="746.68" width="26.95" height="4.70" fill="#380000"/>
<rect x="207.10" y="746.68" width="27.35" height="4.70" fill="#004000"/>
<rect x="235.15" y="746.68" width="26.80" height="4.70" fill="#004800"/>
<rect x="262.65" y="746.68" width="26.00" height="4.70" fill="#005000"/>
<rect x="152.35" y="751.74" width="27.10" height="4.70" fill="#500000"/>
<rect x="180.15" y="751.74" width="26.95" height="4.70" fill="#600000"/>
<rect x="207.10" y="751.74" width="27.35" height="4.70" fill="#003800"/>
<rect x="235.15" y="751.74" width="26.80" height="4.70" fill="#001000"/>
<rect x="262.65" y="751.74" width="26.00" height="4.70" fill="#001800"/>
<rect x="152.35" y="756.80" width="27.10" height="4.70" fill="#400000"/>
<rect x="180.15" y="756.80" width="26.95" height="4.70" fill="#300000"/>
<rect x="207.10" y="756.80" width="27.35" height="4.70" fill="#004000"/>
<rect x="235.15" y="756.80" width="26.80" height="4.70" fill="#004000"/>
<rect x="262.65" y="756.80" width="26.00" height="4.70" fill="#004800"/>
<rect x="152.35" y="761.86" width="27.10" height="4.70" fill="#500000"/>
<rect x="180.15" y="761.86" width="26.95" height="4.70" fill="#680000"/>
<rect x="207.10" y="761.86" width="27.35" height="4.70" fill="#000000"/>
<rect x="235.15" y="761.86" width="26.80" height="4.70" fill="#002800"/>
<rect x="262.65" y="761.86" width="26.00" height="4.70" fill="#003000"/>
<rect x="152.35" y="766.92" width="27.10" height="4.70" fill="#480000"/>
<rect x="180.15" y="766.92" width="26.95" height="4.70" fill="#480000"/>
<rect x="207.10" y="766.92" width="27.35" height="4.70" fill="#003800"/>
<rect x="235.15" y="766.92" width="26.80" height="4.70" fill="#002800"/>
<rect x="262.65" y="766.92" width="26.00" height="4.70" fill="#003800"/>
<rect x="152.35" y="771.98" width="27.10" height="4.70" fill="#600000"/>
<rect x="180.15" y="771.98" width="26.95" height="4.70" fill="#600000"/>
<rect x="207.10" y="771.98" width="27.35" height="4.70" fill="#004000"/>
<rect x="235.15" y="771.98" width="26.80" height="4.70" fill="#002000"/>
<rect x="262.65" y="771.98" width="26.00" height="4.70" fill="#000000"/>
<rect x="152.35" y="777.05" width="27.10" height="4.70" fill="#500000"/>
<rect x="180.15" y="777.05" width="26.95" height="4.70" fill="#500000"/>
<rect x="207.10" y="777.05" width="27.35" height="4.70" fill="#003000"/>
<rect x="235.15" y="777.05" width="26.80" height="4.70" fill="#003000"/>
<rect x="262.65" y="777.05" width="26.00" height="4.70" fill="#002800"/>
<rect x="152.35" y="782.11" width="27.10" height="4.70" fill="#680000"/>
<rect x="180.15" y="782.11" width="26.95" height="4.70" fill="#500000"/>
<rect x="207.10" y="782.11" width="27.35" height="4.70" fill="#002000"/>
<rect x="235.15" y="782.11" width="26.80" height="4.70" fill="#002800"/>
<rect x="262.65" y="782.11" width="26.00" height="4.70" fill="#002000"/>
<rect x="152.35" y="787.17" width="27.10" height="4.70" fill="#480000"/>
<rect x="180.15" y="787.17" width="26.95" height="4.70" fill="#780000"/>
<rect x="207.10" y="787.17" width="27.35" height="4.70" fill="#003800"/>
<rect x="235.15" y="787.17" width="26.80" height="4.70" fill="#200000"/>
<rect x="262.65" y="787.17" width="26.00" height="4.70" fill="#003800"/>
<rect x="152.35" y="792.23" width="27.10" height="4.70" fill="#200000"/>
<rect x="180.15" y="792.23" width="26.95" height="4.70" fill="#180000"/>
<rect x="207.10" y="792.23" width="27.35" height="4.70" fill="#006000"/>
<rect x="235.15" y="792.23" width="26.80" height="4.70" fill="#006800"/>
<rect x="262.65" y="792.23" width="26.00" height="4.70" fill="#006800"/>
<rect x="152.35" y="797.29" width="27.10" height="4.70" fill="#400000"/>
<rect x="180.15" y="797.29" width="26.95" height="4.70" fill="#400000"/>
<rect x="207.10" y="797.29" width="27.35" height="4.70" fill="#003800"/>
<rect x="235.15" y="797.29" width="26.80" height="4.70" fill="#003800"/>
<rect x="262.65" y="797.29" width="26.00" height="4.70" fill="#005000"/>
<rect x="152.35" y="802.35" width="27.10" height="4.70" fill="#480000"/>
<rect x="180.15" y="802.35" width="26.95" height="4.70" fill="#480000"/>
<rect x="207.10" y="802.35" width="27.35" height="4.70" fill="#004000"/>
<rect x="235.15" y="802.35" width="26.80" height="4.70" fill="#003800"/>
<rect x="262.65" y="802.35" width="26.00" height="4.70" fill="#004800"/>
<rect x="152.35" y="807.41" width="27.10" height="4.70" fill="#380000"/>
<rect x="180.15" y="807.41" width="26.95" height="4.70" fill="#400000"/>
<rect x="207.10" y="807.41" width="27.35" height="4.70" fill="#004800"/>
<rect x="235.15" y="807.41" width="26.80" height="4.70" fill="#004000"/>
<rect x="262.65" y="807.41" width="26.00" height="4.70" fill="#004800"/>
<rect x="152.35" y="812.47" width="27.10" height="4.70" fill="#400000"/>
<rect x="180.15" y="812.47" width="26.95" height="4.70" fill="#400000"/>
<rect x="207.10" y="812.47" width="27.35" height="4.70" fill="#006000"/>
<rect x="235.15" y="812.47" width="26.80" height="4.70" fill="#003800"/>
<rect x="262.65" y="812.47" width="26.00" height="4.70" fill="#003800"/>
<rect x="152.35" y="817.53" width="27.10" height="4.70" fill="#680000"/>
<rect x="180.15" y="817.53" width="26.95" height="4.70" fill="#980000"/>
<rect x="207.10" y="817.53" width="27.35" height="4.70" fill="#001000"/>
<rect x="235.15" y="817.53" width="26.80" height="4.70" fill="#180000"/>
<rect x="262.65" y="817.53" width="26.00" height="4.70" fill="#200000"/>
<rect x="152.35" y="822.60" width="27.10" height="4.70" fill="#280000"/>
<rect x="180.15" y="822.60" width="26.95" height="4.70" fill="#380000"/>
<rect x="207.10" y="822.60" width="27.35" height="4.70" fill="#003800"/>
<rect x="235.15" y="822.60" width="26.80" height="4.70" fill="#004000"/>
<rect x="262.65" y="822.60" width="26.00" height="4.70" fill="#005800"/>
<rect x="152.35" y="827.66" width="27.10" height="4.70" fill="#300000"/>
<rect x="180.15" y="827.66" width="26.95" height="4.70" fill="#400000"/>
<rect x="207.10" y="827.66" width="27.35" height="4.70" fill="#005000"/>
<rect x="235.15" y="827.66" width="26.80" height="4.70" fill="#004800"/>
<rect x="262.65" y="827.66" width="26.00" height="4.70" fill="#003800"/>
<rect x="152.35" y="832.72" width="27.10" height="4.70" fill="#200000"/>
<rect x="180.15" y="832.72" width="26.95" height="4.70" fill="#280000"/>
<rect x="207.10" y="832.72" width="27.35" height="4.70" fill="#006000"/>
<rect x="235.15" y="832.72" width="26.80" height="4.70" fill="#004800"/>
<rect x="262.65" y="832.72" width="26.00" height="4.70" fill="#006000"/>
<rect x="152.35" y="837.78" width="27.10" height="4.70" fill="#500000"/>
<rect x="180.15" y="837.78" width="26.95" height="4.70" fill="#500000"/>
<rect x="207.10" y="837.78" width="27.35" height="4.70" fill="#002800"/>
<rect x="235.15" y="837.78" width="26.80" height="4.70" fill="#003000"/>
<rect x="262.65" y="837.78" width="26.00" height="4.70" fill="#002800"/>
<rect x="152.35" y="842.84" width="27.10" height="4.70" fill="#580000"/>
<rect x="180.15" y="842.84" width="26.95" height="4.70" fill="#580000"/>
<rect x="207.10" y="842.84" width="27.35" height="4.70" fill="#003000"/>
<rect x="235.15" y="842.84" width="26.80" height="4.70" fill="#001800"/>
<rect x="262.65" y="842.84" width="26.00" height="4.70" fill="#001800"/>
<rect x="152.35" y="847.90" width="27.10" height="4.70" fill="#a00000"/>
<rect x="180.15" y="847.90" width="26.95" height="4.70" fill="#980000"/>
<rect x="207.10" y="847.90" width="27.35" height="4.70" fill="#180000"/>
<rect x="235.15" y="847.90" width="26.80" height="4.70" fill="#280000"/>
<rect x="262.65" y="847.90" width="26.00" height="4.70" fill="#180000"/>
<rect x="152.35" y="852.96" width="27.10" height="4.70" fill="#380000"/>
<rect x="180.15" y="852.96" width="26.95" height="4.70" fill="#580000"/>
<rect x="207.10" y="852.96" width="27.35" height="4.70" fill="#005000"/>
<rect x="235.15" y="852.96" width="26.80" height="4.70" fill="#003000"/>
<rect x="262.65" y="852.96" width="26.00" height="4.70" fill="#003000"/>
<rect x="152.35" y="858.02" width="27.10" height="4.70" fill="#480000"/>
<rect x="180.15" y="858.02" width="26.95" height="4.70" fill="#480000"/>
<rect x="207.10" y="858.02" width="27.35" height="4.70" fill="#003000"/>
<rect x="235.15" y="858.02" width="26.80" height="4.70" fill="#002800"/>
<rect x="262.65" y="858.02" width="26.00" height="4.70" fill="#002800"/>
<rect x="152.35" y="863.08" width="27.10" height="4.70" fill="#280000"/>
<rect x="180.15" y="863.08" width="26.95" height="4.70" fill="#300000"/>
<rect x="207.10" y="863.08" width="27.35" height="4.70" fill="#005800"/>
<rect x="235.15" y="863.08" width="26.80" height="4.70" fill="#005800"/>
<rect x="262.65" y="863.08" width="26.00" height="4.70" fill="#003800"/>
<rect x="152.35" y="868.15" width="27.10" height="4.70" fill="#580000"/>
<rect x="180.15" y="868.15" width="26.95" height="4.70" fill="#500000"/>
<rect x="207.10" y="868.15" width="27.35" height="4.70" fill="#003000"/>
<rect x="235.15" y="868.15" width="26.80" height="4.70" fill="#002000"/>
<rect x="262.65" y="868.15" width="26.00" height="4.70" fill="#001000"/>
<rect x="152.35" y="873.21" width="27.10" height="4.70" fill="#500000"/>
<rect x="180.15" y="873.21" width="26.95" height="4.70" fill="#700000"/>
<rect x="207.10" y="873.21" width="27.35" height="4.70" fill="#003000"/>
<rect x="235.15" y="873.21" width="26.80" height="4.70" fill="#000500"/>
<rect x="262.65" y="873.21" width="26.00" height="4.70" fill="#000500"/>
<rect x="152.35" y="878.27" width="27.10" height="4.70" fill="#080000"/>
<rect x="180.15" y="878.27" width="26.95" height="4.70" fill="#400000"/>
<rect x="207.10" y="878.27" width="27.35" height="4.70" fill="#004000"/>
<rect x="235.15" y="878.27" width="26.80" height="4.70" fill="#006000"/>
<rect x="262.65" y="878.27" width="26.00" height="4.70" fill="#004800"/>
<rect x="152.35" y="883.33" width="27.10" height="4.70" fill="#280000"/>
<rect x="180.15" y="883.33" width="26.95" height="4.70" fill="#580000"/>
<rect x="207.10" y="883.33" width="27.35" height="4.70" fill="#004800"/>
<rect x="235.15" y="883.33" width="26.80" height="4.70" fill="#004800"/>
<rect x="262.65" y="883.33" width="26.00" height="4.70" fill="#003000"/>
<rect x="152.35" y="888.39" width="27.10" height="4.70" fill="#680000"/>
<rect x="180.15" y="888.39" width="26.95" height="4.70" fill="#780000"/>
<rect x="207.10" y="888.39" width="27.35" height="4.70" fill="#000500"/>
<rect x="235.15" y="888.39" width="26.80" height="4.70" fill="#000800"/>
<rect x="262.65" y="888.39" width="26.00" height="4.70" fill="#001000"/>
<rect x="152.35" y="893.45" width="27.10" height="4.70" fill="#500000"/>
<rect x="180.15" y="893.45" width="26.95" height="4.70" fill="#480000"/>
<rect x="207.10" y="893.45" width="27.35" height="4.70" fill="#002800"/>
<rect x="235.15" y="893.45" width="26.80" height="4.70" fill="#003000"/>
<rect x="262.65" y="893.45" width="26.00" height="4.70" fill="#003800"/>
<rect x="152.35" y="898.51" width="27.10" height="4.70" fill="#400000"/>
<rect x="180.15" y="898.51" width="26.95" height="4.70" fill="#480000"/>
<rect x="207.10" y="898.51" width="27.35" height="4.70" fill="#002800"/>
<rect x="235.15" y="898.51" width="26.80" height="4.70" fill="#004000"/>
<rect x="262.65" y="898.51" width="26.00" height="4.70" fill="#001000"/>
<rect x="152.35" y="903.57" width="27.10" height="4.70" fill="#480000"/>
<rect x="180.15" y="903.57" width="26.95" height="4.70" fill="#500000"/>
<rect x="207.10" y="903.57" width="27.35" height="4.70" fill="#002000"/>
<rect x="235.15" y="903.57" width="26.80" height="4.70" fill="#002800"/>
<rect x="262.65" y="903.57" width="26.00" height="4.70" fill="#002000"/>
<rect x="152.35" y="908.64" width="27.10" height="4.70" fill="#580000"/>
<rect x="180.15" y="908.64" width="26.95" height="4.70" fill="#480000"/>
<rect x="207.10" y="908.64" width="27.35" height="4.70" fill="#001000"/>
<rect x="235.15" y="908.64" width="26.80" height="4.70" fill="#001000"/>
<rect x="262.65" y="908.64" width="26.00" height="4.70" fill="#003000"/>
<rect x="152.35" y="913.70" width="27.10" height="4.70" fill="#500000"/>
<rect x="180.15" y="913.70" width="26.95" height="4.70" fill="#400000"/>
<rect x="207.10" y="913.70" width="27.35" height="4.70" fill="#002800"/>
<rect x="235.15" y="913.70" width="26.80" height="4.70" fill="#002800"/>
<rect x="262.65" y="913.70" width="26.00" height="4.70" fill="#002800"/>
<rect x="152.35" y="918.76" width="27.10" height="4.70" fill="#400000"/>
<rect x="180.15" y="918.76" width="26.95" height="4.70" fill="#480000"/>
<rect x="207.10" y="918.76" width="27.35" height="4.70" fill="#002800"/>
<rect x="235.15" y="918.76" width="26.80" height="4.70" fill="#003000"/>
<rect x="262.65" y="918.76" width="26.00" height="4.70" fill="#002800"/>
<rect x="152.35" y="923.82" width="27.10" height="4.70" fill="#380000"/>
<rect x="180.15" y="923.82" width="26.95" height="4.70" fill="#400000"/>
<rect x="207.10" y="923.82" width="27.35" height="4.70" fill="#003800"/>
<rect x="235.15" y="923.82" width="26.80" height="4.70" fill="#002800"/>
<rect x="262.65" y="923.82" width="26.00" height="4.70" fill="#002800"/>
<text x="127.0" y="320.35" font-size="3.04" font-weight="normal" fill="#707070" textLength="9.5" lengthAdjust="spacingAndGlyphs">CALB2</text>
<text x="127.0" y="325.41" font-size="3.04" font-weight="normal" fill="#707070" textLength="5.7" lengthAdjust="spacingAndGlyphs">FN1</text>
<text x="127.0" y="330.47" font-size="3.04" font-weight="normal" fill="#707070" textLength="7.6" lengthAdjust="spacingAndGlyphs">CPA4</text>
<text x="127.0" y="335.53" font-size="3.04" font-weight="normal" fill="#707070" textLength="5.7" lengthAdjust="spacingAndGlyphs">SCD</text>
<text x="127.0" y="340.59" font-size="3.04" font-weight="normal" fill="#707070" textLength="9.5" lengthAdjust="spacingAndGlyphs">HDR19</text>
<text x="127.0" y="345.65" font-size="3.04" font-weight="normal" fill="#707070" textLength="7.6" lengthAdjust="spacingAndGlyphs">DPYS</text>
<text x="127.0" y="350.72" font-size="3.04" font-weight="normal" fill="#707070" textLength="11.4" lengthAdjust="spacingAndGlyphs">COL5A1</text>
<text x="127.0" y="355.78" font-size="3.04" font-weight="normal" fill="#707070" textLength="9.5" lengthAdjust="spacingAndGlyphs">TGFBI</text>
<text x="127.0" y="360.84" font-size="3.04" font-weight="normal" fill="#707070" textLength="11.4" lengthAdjust="spacingAndGlyphs">COL6A2</text>
<text x="127.0" y="365.90" font-size="3.04" font-weight="normal" fill="#707070" textLength="11.4" lengthAdjust="spacingAndGlyphs">S100A3</text>
<text x="127.0" y="370.96" font-size="3.04" font-weight="normal" fill="#707070" textLength="5.7" lengthAdjust="spacingAndGlyphs">MT3</text>
<text x="127.0" y="376.02" font-size="3.04" font-weight="normal" fill="#707070" textLength="7.6" lengthAdjust="spacingAndGlyphs">NID2</text>
<text x="127.0" y="381.08" font-size="3.04" font-weight="normal" fill="#707070" textLength="9.5" lengthAdjust="spacingAndGlyphs">TRAM2</text>
<text x="127.0" y="386.14" font-size="3.04" font-weight="normal" fill="#707070" textLength="11.4" lengthAdjust="spacingAndGlyphs">COL6A3</text>
<text x="127.0" y="391.21" font-size="3.04" font-weight="normal" fill="#707070" textLength="11.4" lengthAdjust="spacingAndGlyphs">COL6A1</text>
<text x="127.0" y="396.27" font-size="3.04" font-weight="normal" fill="#707070" textLength="7.6" lengthAdjust="spacingAndGlyphs">NPW3</text>
<text x="127.0" y="401.33" font-size="3.04" font-weight="normal" fill="#707070" textLength="7.6" lengthAdjust="spacingAndGlyphs">PCAN</text>
<text x="127.0" y="406.39" font-size="3.04" font-weight="normal" fill="#707070" textLength="11.4" lengthAdjust="spacingAndGlyphs">S100A4</text>
<text x="127.0" y="411.45" font-size="3.04" font-weight="normal" fill="#707070" textLength="9.5" lengthAdjust="spacingAndGlyphs">HSPA5</text>
<text x="127.0" y="416.51" font-size="3.04" font-weight="normal" fill="#707070" textLength="9.5" lengthAdjust="spacingAndGlyphs">CCT6B</text>
<text x="127.0" y="421.57" font-size="3.04" font-weight="normal" fill="#707070" textLength="5.7" lengthAdjust="spacingAndGlyphs">LOX</text>
<text x="127.0" y="426.63" font-size="3.04" font-weight="normal" fill="#707070" textLength="9.5" lengthAdjust="spacingAndGlyphs">MDM01</text>
<text x="127.0" y="431.69" font-size="3.04" font-weight="normal" fill="#707070" textLength="15.0" lengthAdjust="spacingAndGlyphs">PPP1R14B</text>
<text x="127.0" y="436.76" font-size="3.04" font-weight="normal" fill="#707070" textLength="11.4" lengthAdjust="spacingAndGlyphs">SEC11C</text>
<text x="127.0" y="441.82" font-size="3.04" font-weight="normal" fill="#707070" textLength="9.5" lengthAdjust="spacingAndGlyphs">FBLN1</text>
<text x="127.0" y="446.88" font-size="3.04" font-weight="normal" fill="#707070" textLength="9.5" lengthAdjust="spacingAndGlyphs">TAGLN</text>
<text x="127.0" y="451.94" font-size="3.04" font-weight="normal" fill="#707070" textLength="9.5" lengthAdjust="spacingAndGlyphs">SPARC</text>
<text x="127.0" y="457.00" font-size="3.04" font-weight="normal" fill="#707070" textLength="11.4" lengthAdjust="spacingAndGlyphs">HMOCS1</text>
<text x="127.0" y="462.06" font-size="3.04" font-weight="normal" fill="#707070" textLength="11.4" lengthAdjust="spacingAndGlyphs">S100A2</text>
<text x="127.0" y="467.12" font-size="3.04" font-weight="normal" fill="#707070" textLength="9.5" lengthAdjust="spacingAndGlyphs">HSPG2</text>
<text x="127.0" y="472.18" font-size="3.04" font-weight="normal" fill="#707070" textLength="9.5" lengthAdjust="spacingAndGlyphs">PHF14</text>
<text x="127.0" y="477.24" font-size="3.04" font-weight="normal" fill="#707070" textLength="9.5" lengthAdjust="spacingAndGlyphs">TGFB2</text>
<text x="127.0" y="482.31" font-size="3.04" font-weight="normal" fill="#707070" textLength="9.5" lengthAdjust="spacingAndGlyphs">ZBED5</text>
<text x="127.0" y="487.37" font-size="3.04" font-weight="normal" fill="#707070" textLength="13.3" lengthAdjust="spacingAndGlyphs">ALDH1L2</text>
<text x="127.0" y="492.43" font-size="3.04" font-weight="normal" fill="#707070" textLength="11.4" lengthAdjust="spacingAndGlyphs">CFAP58</text>
<text x="127.0" y="497.49" font-size="3.04" font-weight="normal" fill="#707070" textLength="15.0" lengthAdjust="spacingAndGlyphs">SERPINH1</text>
<text x="127.0" y="502.55" font-size="3.04" font-weight="normal" fill="#707070" textLength="7.6" lengthAdjust="spacingAndGlyphs">LEPR</text>
<text x="127.0" y="507.61" font-size="3.04" font-weight="normal" fill="#707070" textLength="9.5" lengthAdjust="spacingAndGlyphs">LOXL2</text>
<text x="127.0" y="512.67" font-size="3.04" font-weight="normal" fill="#707070" textLength="13.3" lengthAdjust="spacingAndGlyphs">SLC39A0</text>
<text x="127.0" y="517.73" font-size="3.04" font-weight="normal" fill="#707070" textLength="9.5" lengthAdjust="spacingAndGlyphs">DHCR7</text>
<text x="127.0" y="522.80" font-size="3.04" font-weight="normal" fill="#707070" textLength="11.4" lengthAdjust="spacingAndGlyphs">HDDJR3</text>
<text x="127.0" y="527.86" font-size="3.04" font-weight="normal" fill="#707070" textLength="11.4" lengthAdjust="spacingAndGlyphs">COL1A2</text>
<text x="127.0" y="532.92" font-size="3.04" font-weight="normal" fill="#707070" textLength="7.6" lengthAdjust="spacingAndGlyphs">LCP1</text>
<text x="127.0" y="537.98" font-size="3.04" font-weight="normal" fill="#707070" textLength="7.6" lengthAdjust="spacingAndGlyphs">FBN1</text>
<text x="127.0" y="543.04" font-size="3.04" font-weight="normal" fill="#707070" textLength="13.3" lengthAdjust="spacingAndGlyphs">HSP90B1</text>
<text x="127.0" y="548.10" font-size="3.04" font-weight="normal" fill="#707070" textLength="15.0" lengthAdjust="spacingAndGlyphs">SERPINB2</text>
<text x="127.0" y="553.16" font-size="3.04" font-weight="normal" fill="#707070" textLength="13.3" lengthAdjust="spacingAndGlyphs">S100A10</text>
<text x="127.0" y="558.22" font-size="3.04" font-weight="normal" fill="#707070" textLength="7.6" lengthAdjust="spacingAndGlyphs">RRAD</text>
<text x="127.0" y="563.28" font-size="3.04" font-weight="normal" fill="#707070" textLength="9.5" lengthAdjust="spacingAndGlyphs">PLCH1</text>
<text x="127.0" y="568.35" font-size="3.04" font-weight="normal" fill="#707070" textLength="9.5" lengthAdjust="spacingAndGlyphs">RRAS2</text>
<text x="127.0" y="573.41" font-size="3.04" font-weight="normal" fill="#707070" textLength="9.5" lengthAdjust="spacingAndGlyphs">PSAT1</text>
<text x="127.0" y="578.47" font-size="3.04" font-weight="normal" fill="#707070" textLength="9.5" lengthAdjust="spacingAndGlyphs">RAP2A</text>
<text x="127.0" y="583.53" font-size="3.04" font-weight="normal" fill="#707070" textLength="11.4" lengthAdjust="spacingAndGlyphs">KLHL15</text>
<text x="127.0" y="588.59" font-size="3.04" font-weight="normal" fill="#707070" textLength="9.5" lengthAdjust="spacingAndGlyphs">SPEF2</text>
<text x="127.0" y="593.65" font-size="3.04" font-weight="normal" fill="#707070" textLength="13.3" lengthAdjust="spacingAndGlyphs">MAP3K11</text>
<text x="127.0" y="598.71" font-size="3.04" font-weight="normal" fill="#707070" textLength="11.4" lengthAdjust="spacingAndGlyphs">AKR1B1</text>
<text x="127.0" y="603.77" font-size="3.04" font-weight="normal" fill="#707070" textLength="9.5" lengthAdjust="spacingAndGlyphs">SRSF9</text>
<text x="127.0" y="608.83" font-size="3.04" font-weight="normal" fill="#707070" textLength="7.6" lengthAdjust="spacingAndGlyphs">CALU</text>
<text x="127.0" y="613.90" font-size="3.04" font-weight="normal" fill="#707070" textLength="11.4" lengthAdjust="spacingAndGlyphs">SLC1A5</text>
<text x="127.0" y="618.96" font-size="3.04" font-weight="normal" fill="#707070" textLength="9.5" lengthAdjust="spacingAndGlyphs">HYOU1</text>
<text x="127.0" y="624.02" font-size="3.04" font-weight="normal" fill="#707070" textLength="7.6" lengthAdjust="spacingAndGlyphs">DPP4</text>
<text x="127.0" y="629.08" font-size="3.04" font-weight="normal" fill="#707070" textLength="11.4" lengthAdjust="spacingAndGlyphs">EIF2S1</text>
<text x="127.0" y="634.14" font-size="3.04" font-weight="normal" fill="#707070" textLength="7.6" lengthAdjust="spacingAndGlyphs">ACP1</text>
<text x="127.0" y="639.20" font-size="3.04" font-weight="normal" fill="#707070" textLength="11.4" lengthAdjust="spacingAndGlyphs">FGR1L8</text>
<text x="127.0" y="644.26" font-size="3.04" font-weight="normal" fill="#707070" textLength="9.5" lengthAdjust="spacingAndGlyphs">TUBB6</text>
<text x="127.0" y="649.32" font-size="3.04" font-weight="normal" fill="#707070" textLength="11.4" lengthAdjust="spacingAndGlyphs">DHCR24</text>
<text x="127.0" y="654.39" font-size="3.04" font-weight="normal" fill="#707070" textLength="9.5" lengthAdjust="spacingAndGlyphs">HMOX1</text>
<text x="127.0" y="659.45" font-size="3.04" font-weight="normal" fill="#707070" textLength="11.4" lengthAdjust="spacingAndGlyphs">IGFBP6</text>
<text x="127.0" y="664.51" font-size="3.04" font-weight="normal" fill="#707070" textLength="11.4" lengthAdjust="spacingAndGlyphs">COL4A1</text>
<text x="127.0" y="669.57" font-size="3.04" font-weight="normal" fill="#707070" textLength="11.4" lengthAdjust="spacingAndGlyphs">SDF2L1</text>
<text x="127.0" y="674.63" font-size="3.04" font-weight="normal" fill="#707070" textLength="11.4" lengthAdjust="spacingAndGlyphs">SLC1A4</text>
<text x="127.0" y="679.69" font-size="3.04" font-weight="normal" fill="#707070" textLength="9.5" lengthAdjust="spacingAndGlyphs">LOXL1</text>
<text x="127.0" y="684.75" font-size="3.04" font-weight="normal" fill="#707070" textLength="9.5" lengthAdjust="spacingAndGlyphs">KLHL5</text>
<text x="127.0" y="689.81" font-size="3.04" font-weight="normal" fill="#707070" textLength="13.3" lengthAdjust="spacingAndGlyphs">ALDH3A1</text>
<text x="127.0" y="694.87" font-size="3.04" font-weight="normal" fill="#707070" textLength="7.6" lengthAdjust="spacingAndGlyphs">FBN2</text>
<text x="127.0" y="699.94" font-size="3.04" font-weight="normal" fill="#707070" textLength="7.6" lengthAdjust="spacingAndGlyphs">RRM2</text>
<text x="127.0" y="705.00" font-size="3.04" font-weight="normal" fill="#707070" textLength="11.4" lengthAdjust="spacingAndGlyphs">TMSB4X</text>
<text x="127.0" y="710.06" font-size="3.04" font-weight="normal" fill="#707070" textLength="9.5" lengthAdjust="spacingAndGlyphs">HDLBP</text>
<text x="127.0" y="715.12" font-size="3.04" font-weight="normal" fill="#707070" textLength="7.6" lengthAdjust="spacingAndGlyphs">CALR</text>
<text x="127.0" y="720.18" font-size="3.04" font-weight="normal" fill="#707070" textLength="11.4" lengthAdjust="spacingAndGlyphs">PHLDA1</text>
<text x="127.0" y="725.24" font-size="3.04" font-weight="normal" fill="#707070" textLength="11.4" lengthAdjust="spacingAndGlyphs">GEMIN4</text>
<text x="127.0" y="730.30" font-size="3.04" font-weight="normal" fill="#707070" textLength="9.5" lengthAdjust="spacingAndGlyphs">PLAC8</text>
<text x="127.0" y="735.36" font-size="3.04" font-weight="normal" fill="#707070" textLength="7.6" lengthAdjust="spacingAndGlyphs">SNCA</text>
<text x="127.0" y="740.42" font-size="3.04" font-weight="normal" fill="#707070" textLength="5.7" lengthAdjust="spacingAndGlyphs">CPE</text>
<text x="127.0" y="745.49" font-size="3.04" font-weight="normal" fill="#707070" textLength="9.5" lengthAdjust="spacingAndGlyphs">ERP44</text>
<text x="127.0" y="750.55" font-size="3.04" font-weight="normal" fill="#707070" textLength="7.6" lengthAdjust="spacingAndGlyphs">CNN2</text>
<text x="127.0" y="755.61" font-size="3.04" font-weight="normal" fill="#707070" textLength="11.4" lengthAdjust="spacingAndGlyphs">DNAJB9</text>
<text x="127.0" y="760.67" font-size="3.04" font-weight="normal" fill="#707070" textLength="9.5" lengthAdjust="spacingAndGlyphs">PAM16</text>
<text x="127.0" y="765.73" font-size="3.04" font-weight="normal" fill="#707070" textLength="11.4" lengthAdjust="spacingAndGlyphs">SCARB1</text>
<text x="127.0" y="770.79" font-size="3.04" font-weight="normal" fill="#707070" textLength="11.4" lengthAdjust="spacingAndGlyphs">SLC7A5</text>
<text x="127.0" y="775.85" font-size="3.04" font-weight="normal" fill="#707070" textLength="11.4" lengthAdjust="spacingAndGlyphs">PPP1CA</text>
<text x="127.0" y="780.91" font-size="3.04" font-weight="normal" fill="#707070" textLength="9.5" lengthAdjust="spacingAndGlyphs">RRAGC</text>
<text x="127.0" y="785.98" font-size="3.04" font-weight="normal" fill="#707070" textLength="7.6" lengthAdjust="spacingAndGlyphs">EGFR</text>
<text x="127.0" y="791.04" font-size="3.04" font-weight="normal" fill="#707070" textLength="7.6" lengthAdjust="spacingAndGlyphs">MAP4</text>
<text x="127.0" y="796.10" font-size="3.04" font-weight="normal" fill="#707070" textLength="9.5" lengthAdjust="spacingAndGlyphs">GNG10</text>
<text x="127.0" y="801.16" font-size="3.04" font-weight="normal" fill="#707070" textLength="13.3" lengthAdjust="spacingAndGlyphs">LRRFIP1</text>
<text x="127.0" y="806.22" font-size="3.04" font-weight="normal" fill="#707070" textLength="5.7" lengthAdjust="spacingAndGlyphs">CAD</text>
<text x="127.0" y="811.28" font-size="3.04" font-weight="normal" fill="#707070" textLength="9.5" lengthAdjust="spacingAndGlyphs">LAMC1</text>
<text x="127.0" y="816.34" font-size="3.04" font-weight="normal" fill="#707070" textLength="9.5" lengthAdjust="spacingAndGlyphs">CALD1</text>
<text x="127.0" y="821.40" font-size="3.04" font-weight="normal" fill="#707070" textLength="7.6" lengthAdjust="spacingAndGlyphs">FGF1</text>
<text x="127.0" y="826.46" font-size="3.04" font-weight="normal" fill="#707070" textLength="7.6" lengthAdjust="spacingAndGlyphs">DDX3</text>
<text x="127.0" y="831.53" font-size="3.04" font-weight="normal" fill="#707070" textLength="7.6" lengthAdjust="spacingAndGlyphs">NCR3</text>
<text x="127.0" y="836.59" font-size="3.04" font-weight="normal" fill="#707070" textLength="11.4" lengthAdjust="spacingAndGlyphs">GPRC5A</text>
<text x="127.0" y="841.65" font-size="3.04" font-weight="normal" fill="#707070" textLength="9.5" lengthAdjust="spacingAndGlyphs">MAP1B</text>
<text x="127.0" y="846.71" font-size="3.04" font-weight="normal" fill="#707070" textLength="7.6" lengthAdjust="spacingAndGlyphs">GNG5</text>
<text x="127.0" y="851.77" font-size="3.04" font-weight="normal" fill="#707070" textLength="7.6" lengthAdjust="spacingAndGlyphs">STC1</text>
<text x="127.0" y="856.83" font-size="3.04" font-weight="normal" fill="#707070" textLength="9.5" lengthAdjust="spacingAndGlyphs">PLOD1</text>
<text x="127.0" y="861.89" font-size="3.04" font-weight="normal" fill="#707070" textLength="7.6" lengthAdjust="spacingAndGlyphs">CDK6</text>
<text x="127.0" y="866.95" font-size="3.04" font-weight="normal" fill="#707070" textLength="5.7" lengthAdjust="spacingAndGlyphs">PXN</text>
<text x="127.0" y="872.02" font-size="3.04" font-weight="normal" fill="#707070" textLength="11.4" lengthAdjust="spacingAndGlyphs">PHLDA3</text>
<text x="127.0" y="877.08" font-size="3.04" font-weight="normal" fill="#707070" textLength="9.5" lengthAdjust="spacingAndGlyphs">STMN1</text>
<text x="127.0" y="882.14" font-size="3.04" font-weight="normal" fill="#707070" textLength="5.7" lengthAdjust="spacingAndGlyphs">CD9</text>
<text x="127.0" y="887.20" font-size="3.04" font-weight="normal" fill="#707070" textLength="11.4" lengthAdjust="spacingAndGlyphs">COL4A2</text>
<text x="127.0" y="892.26" font-size="3.04" font-weight="normal" fill="#707070" textLength="11.4" lengthAdjust="spacingAndGlyphs">SLC1A3</text>
<text x="127.0" y="897.32" font-size="3.04" font-weight="normal" fill="#707070" textLength="13.3" lengthAdjust="spacingAndGlyphs">ARHGEF2</text>
<text x="127.0" y="902.38" font-size="3.04" font-weight="normal" fill="#707070" textLength="11.4" lengthAdjust="spacingAndGlyphs">TRIM16</text>
<text x="127.0" y="907.44" font-size="3.04" font-weight="normal" fill="#707070" textLength="9.5" lengthAdjust="spacingAndGlyphs">ANXA1</text>
<text x="127.0" y="912.50" font-size="3.04" font-weight="normal" fill="#707070" textLength="11.4" lengthAdjust="spacingAndGlyphs">IGFBP5</text>
<text x="127.0" y="917.57" font-size="3.04" font-weight="normal" fill="#707070" textLength="7.6" lengthAdjust="spacingAndGlyphs">P3H2</text>
<text x="127.0" y="922.63" font-size="3.04" font-weight="normal" fill="#707070" textLength="7.6" lengthAdjust="spacingAndGlyphs">ANO6</text>
<text x="127.0" y="927.69" font-size="3.04" font-weight="normal" fill="#707070" textLength="9.5" lengthAdjust="spacingAndGlyphs">CRTAP</text>
<rect x="413.80" y="316.90" width="116.20" height="613.70" fill="#161616"/>
<rect x="414.15" y="317.08" width="22.80" height="4.29" fill="#d00000"/>
<rect x="437.65" y="317.08" width="22.55" height="4.29" fill="#c80000"/>
<rect x="460.20" y="317.08" width="23.15" height="4.29" fill="#005000"/>
<rect x="484.05" y="317.08" width="22.20" height="4.29" fill="#007800"/>
<rect x="506.95" y="317.08" width="22.70" height="4.29" fill="#005800"/>
<rect x="414.15" y="321.73" width="22.80" height="4.29" fill="#980000"/>
<rect x="437.65" y="321.73" width="22.55" height="4.29" fill="#980000"/>
<rect x="460.20" y="321.73" width="23.15" height="4.29" fill="#008800"/>
<rect x="484.05" y="321.73" width="22.20" height="4.29" fill="#008800"/>
<rect x="506.95" y="321.73" width="22.70" height="4.29" fill="#008800"/>
<rect x="414.15" y="326.38" width="22.80" height="4.29" fill="#a80000"/>
<rect x="437.65" y="326.38" width="22.55" height="4.29" fill="#a80000"/>
<rect x="460.20" y="326.38" width="23.15" height="4.29" fill="#006800"/>
<rect x="484.05" y="326.38" width="22.20" height="4.29" fill="#006000"/>
<rect x="506.95" y="326.38" width="22.70" height="4.29" fill="#006000"/>
<rect x="414.15" y="331.03" width="22.80" height="4.29" fill="#180000"/>
<rect x="437.65" y="331.03" width="22.55" height="4.29" fill="#400000"/>
<rect x="460.20" y="331.03" width="23.15" height="4.29" fill="#00e000"/>
<rect x="484.05" y="331.03" width="22.20" height="4.29" fill="#008800"/>
<rect x="506.95" y="331.03" width="22.70" height="4.29" fill="#00e800"/>
<rect x="414.15" y="335.68" width="22.80" height="4.29" fill="#900000"/>
<rect x="437.65" y="335.68" width="22.55" height="4.29" fill="#a00000"/>
<rect x="460.20" y="335.68" width="23.15" height="4.29" fill="#007800"/>
<rect x="484.05" y="335.68" width="22.20" height="4.29" fill="#006000"/>
<rect x="506.95" y="335.68" width="22.70" height="4.29" fill="#005800"/>
<rect x="414.15" y="340.33" width="22.80" height="4.29" fill="#d00000"/>
<rect x="437.65" y="340.33" width="22.55" height="4.29" fill="#c80000"/>
<rect x="460.20" y="340.33" width="23.15" height="4.29" fill="#002800"/>
<rect x="484.05" y="340.33" width="22.20" height="4.29" fill="#003000"/>
<rect x="506.95" y="340.33" width="22.70" height="4.29" fill="#002800"/>
<rect x="414.15" y="344.98" width="22.80" height="4.29" fill="#600000"/>
<rect x="437.65" y="344.98" width="22.55" height="4.29" fill="#880000"/>
<rect x="460.20" y="344.98" width="23.15" height="4.29" fill="#008000"/>
<rect x="484.05" y="344.98" width="22.20" height="4.29" fill="#007800"/>
<rect x="506.95" y="344.98" width="22.70" height="4.29" fill="#007800"/>
<rect x="414.15" y="349.62" width="22.80" height="4.29" fill="#a00000"/>
<rect x="437.65" y="349.62" width="22.55" height="4.29" fill="#a00000"/>
<rect x="460.20" y="349.62" width="23.15" height="4.29" fill="#005000"/>
<rect x="484.05" y="349.62" width="22.20" height="4.29" fill="#005000"/>
<rect x="506.95" y="349.62" width="22.70" height="4.29" fill="#004800"/>
<rect x="414.15" y="354.27" width="22.80" height="4.29" fill="#900000"/>
<rect x="437.65" y="354.27" width="22.55" height="4.29" fill="#a00000"/>
<rect x="460.20" y="354.27" width="23.15" height="4.29" fill="#008000"/>
<rect x="484.05" y="354.27" width="22.20" height="4.29" fill="#002800"/>
<rect x="506.95" y="354.27" width="22.70" height="4.29" fill="#004000"/>
<rect x="414.15" y="358.92" width="22.80" height="4.29" fill="#980000"/>
<rect x="437.65" y="358.92" width="22.55" height="4.29" fill="#a00000"/>
<rect x="460.20" y="358.92" width="23.15" height="4.29" fill="#004000"/>
<rect x="484.05" y="358.92" width="22.20" height="4.29" fill="#004800"/>
<rect x="506.95" y="358.92" width="22.70" height="4.29" fill="#004000"/>
<rect x="414.15" y="363.57" width="22.80" height="4.29" fill="#800000"/>
<rect x="437.65" y="363.57" width="22.55" height="4.29" fill="#980000"/>
<rect x="460.20" y="363.57" width="23.15" height="4.29" fill="#005000"/>
<rect x="484.05" y="363.57" width="22.20" height="4.29" fill="#005000"/>
<rect x="506.95" y="363.57" width="22.70" height="4.29" fill="#005800"/>
<rect x="414.15" y="368.22" width="22.80" height="4.29" fill="#a00000"/>
<rect x="437.65" y="368.22" width="22.55" height="4.29" fill="#a80000"/>
<rect x="460.20" y="368.22" width="23.15" height="4.29" fill="#003800"/>
<rect x="484.05" y="368.22" width="22.20" height="4.29" fill="#003000"/>
<rect x="506.95" y="368.22" width="22.70" height="4.29" fill="#004000"/>
<rect x="414.15" y="372.87" width="22.80" height="4.29" fill="#980000"/>
<rect x="437.65" y="372.87" width="22.55" height="4.29" fill="#380000"/>
<rect x="460.20" y="372.87" width="23.15" height="4.29" fill="#007000"/>
<rect x="484.05" y="372.87" width="22.20" height="4.29" fill="#005000"/>
<rect x="506.95" y="372.87" width="22.70" height="4.29" fill="#007000"/>
<rect x="414.15" y="377.52" width="22.80" height="4.29" fill="#700000"/>
<rect x="437.65" y="377.52" width="22.55" height="4.29" fill="#780000"/>
<rect x="460.20" y="377.52" width="23.15" height="4.29" fill="#005800"/>
<rect x="484.05" y="377.52" width="22.20" height="4.29" fill="#005800"/>
<rect x="506.95" y="377.52" width="22.70" height="4.29" fill="#005000"/>
<rect x="414.15" y="382.17" width="22.80" height="4.29" fill="#680000"/>
<rect x="437.65" y="382.17" width="22.55" height="4.29" fill="#880000"/>
<rect x="460.20" y="382.17" width="23.15" height="4.29" fill="#005800"/>
<rect x="484.05" y="382.17" width="22.20" height="4.29" fill="#005800"/>
<rect x="506.95" y="382.17" width="22.70" height="4.29" fill="#006000"/>
<rect x="414.15" y="386.82" width="22.80" height="4.29" fill="#580000"/>
<rect x="437.65" y="386.82" width="22.55" height="4.29" fill="#580000"/>
<rect x="460.20" y="386.82" width="23.15" height="4.29" fill="#007000"/>
<rect x="484.05" y="386.82" width="22.20" height="4.29" fill="#007800"/>
<rect x="506.95" y="386.82" width="22.70" height="4.29" fill="#007000"/>
<rect x="414.15" y="391.47" width="22.80" height="4.29" fill="#580000"/>
<rect x="437.65" y="391.47" width="22.55" height="4.29" fill="#600000"/>
<rect x="460.20" y="391.47" width="23.15" height="4.29" fill="#006800"/>
<rect x="484.05" y="391.47" width="22.20" height="4.29" fill="#006800"/>
<rect x="506.95" y="391.47" width="22.70" height="4.29" fill="#006000"/>
<rect x="414.15" y="396.12" width="22.80" height="4.29" fill="#680000"/>
<rect x="437.65" y="396.12" width="22.55" height="4.29" fill="#600000"/>
<rect x="460.20" y="396.12" width="23.15" height="4.29" fill="#006800"/>
<rect x="484.05" y="396.12" width="22.20" height="4.29" fill="#005800"/>
<rect x="506.95" y="396.12" width="22.70" height="4.29" fill="#005800"/>
<rect x="414.15" y="400.77" width="22.80" height="4.29" fill="#800000"/>
<rect x="437.65" y="400.77" width="22.55" height="4.29" fill="#880000"/>
<rect x="460.20" y="400.77" width="23.15" height="4.29" fill="#004000"/>
<rect x="484.05" y="400.77" width="22.20" height="4.29" fill="#004000"/>
<rect x="506.95" y="400.77" width="22.70" height="4.29" fill="#004000"/>
<rect x="414.15" y="405.42" width="22.80" height="4.29" fill="#a80000"/>
<rect x="437.65" y="405.42" width="22.55" height="4.29" fill="#b00000"/>
<rect x="460.20" y="405.42" width="23.15" height="4.29" fill="#001800"/>
<rect x="484.05" y="405.42" width="22.20" height="4.29" fill="#001000"/>
<rect x="506.95" y="405.42" width="22.70" height="4.29" fill="#001000"/>
<rect x="414.15" y="410.06" width="22.80" height="4.29" fill="#580000"/>
<rect x="437.65" y="410.06" width="22.55" height="4.29" fill="#780000"/>
<rect x="460.20" y="410.06" width="23.15" height="4.29" fill="#005800"/>
<rect x="484.05" y="410.06" width="22.20" height="4.29" fill="#006000"/>
<rect x="506.95" y="410.06" width="22.70" height="4.29" fill="#005800"/>
<rect x="414.15" y="414.71" width="22.80" height="4.29" fill="#700000"/>
<rect x="437.65" y="414.71" width="22.55" height="4.29" fill="#400000"/>
<rect x="460.20" y="414.71" width="23.15" height="4.29" fill="#005800"/>
<rect x="484.05" y="414.71" width="22.20" height="4.29" fill="#004800"/>
<rect x="506.95" y="414.71" width="22.70" height="4.29" fill="#008000"/>
<rect x="414.15" y="419.36" width="22.80" height="4.29" fill="#800000"/>
<rect x="437.65" y="419.36" width="22.55" height="4.29" fill="#580000"/>
<rect x="460.20" y="419.36" width="23.15" height="4.29" fill="#007000"/>
<rect x="484.05" y="419.36" width="22.20" height="4.29" fill="#001000"/>
<rect x="506.95" y="419.36" width="22.70" height="4.29" fill="#003800"/>
<rect x="414.15" y="424.01" width="22.80" height="4.29" fill="#580000"/>
<rect x="437.65" y="424.01" width="22.55" height="4.29" fill="#900000"/>
<rect x="460.20" y="424.01" width="23.15" height="4.29" fill="#005800"/>
<rect x="484.05" y="424.01" width="22.20" height="4.29" fill="#004800"/>
<rect x="506.95" y="424.01" width="22.70" height="4.29" fill="#004800"/>
<rect x="414.15" y="428.66" width="22.80" height="4.29" fill="#480000"/>
<rect x="437.65" y="428.66" width="22.55" height="4.29" fill="#600000"/>
<rect x="460.20" y="428.66" width="23.15" height="4.29" fill="#005800"/>
<rect x="484.05" y="428.66" width="22.20" height="4.29" fill="#006800"/>
<rect x="506.95" y="428.66" width="22.70" height="4.29" fill="#005000"/>
<rect x="414.15" y="433.31" width="22.80" height="4.29" fill="#880000"/>
<rect x="437.65" y="433.31" width="22.55" height="4.29" fill="#780000"/>
<rect x="460.20" y="433.31" width="23.15" height="4.29" fill="#003800"/>
<rect x="484.05" y="433.31" width="22.20" height="4.29" fill="#004000"/>
<rect x="506.95" y="433.31" width="22.70" height="4.29" fill="#003800"/>
<rect x="414.15" y="437.96" width="22.80" height="4.29" fill="#400000"/>
<rect x="437.65" y="437.96" width="22.55" height="4.29" fill="#780000"/>
<rect x="460.20" y="437.96" width="23.15" height="4.29" fill="#005800"/>
<rect x="484.05" y="437.96" width="22.20" height="4.29" fill="#005800"/>
<rect x="506.95" y="437.96" width="22.70" height="4.29" fill="#005000"/>
<rect x="414.15" y="442.61" width="22.80" height="4.29" fill="#780000"/>
<rect x="437.65" y="442.61" width="22.55" height="4.29" fill="#780000"/>
<rect x="460.20" y="442.61" width="23.15" height="4.29" fill="#004000"/>
<rect x="484.05" y="442.61" width="22.20" height="4.29" fill="#004000"/>
<rect x="506.95" y="442.61" width="22.70" height="4.29" fill="#003800"/>
<rect x="414.15" y="447.26" width="22.80" height="4.29" fill="#780000"/>
<rect x="437.65" y="447.26" width="22.55" height="4.29" fill="#800000"/>
<rect x="460.20" y="447.26" width="23.15" height="4.29" fill="#003800"/>
<rect x="484.05" y="447.26" width="22.20" height="4.29" fill="#004800"/>
<rect x="506.95" y="447.26" width="22.70" height="4.29" fill="#004000"/>
<rect x="414.15" y="451.91" width="22.80" height="4.29" fill="#480000"/>
<rect x="437.65" y="451.91" width="22.55" height="4.29" fill="#580000"/>
<rect x="460.20" y="451.91" width="23.15" height="4.29" fill="#006000"/>
<rect x="484.05" y="451.91" width="22.20" height="4.29" fill="#006000"/>
<rect x="506.95" y="451.91" width="22.70" height="4.29" fill="#006000"/>
<rect x="414.15" y="456.56" width="22.80" height="4.29" fill="#700000"/>
<rect x="437.65" y="456.56" width="22.55" height="4.29" fill="#780000"/>
<rect x="460.20" y="456.56" width="23.15" height="4.29" fill="#004000"/>
<rect x="484.05" y="456.56" width="22.20" height="4.29" fill="#003000"/>
<rect x="506.95" y="456.56" width="22.70" height="4.29" fill="#004000"/>
<rect x="414.15" y="461.21" width="22.80" height="4.29" fill="#680000"/>
<rect x="437.65" y="461.21" width="22.55" height="4.29" fill="#600000"/>
<rect x="460.20" y="461.21" width="23.15" height="4.29" fill="#003800"/>
<rect x="484.05" y="461.21" width="22.20" height="4.29" fill="#003800"/>
<rect x="506.95" y="461.21" width="22.70" height="4.29" fill="#004000"/>
<rect x="414.15" y="465.86" width="22.80" height="4.29" fill="#880000"/>
<rect x="437.65" y="465.86" width="22.55" height="4.29" fill="#680000"/>
<rect x="460.20" y="465.86" width="23.15" height="4.29" fill="#003800"/>
<rect x="484.05" y="465.86" width="22.20" height="4.29" fill="#002800"/>
<rect x="506.95" y="465.86" width="22.70" height="4.29" fill="#003800"/>
<rect x="414.15" y="470.50" width="22.80" height="4.29" fill="#480000"/>
<rect x="437.65" y="470.50" width="22.55" height="4.29" fill="#300000"/>
<rect x="460.20" y="470.50" width="23.15" height="4.29" fill="#007000"/>
<rect x="484.05" y="470.50" width="22.20" height="4.29" fill="#005000"/>
<rect x="506.95" y="470.50" width="22.70" height="4.29" fill="#005800"/>
<rect x="414.15" y="475.15" width="22.80" height="4.29" fill="#700000"/>
<rect x="437.65" y="475.15" width="22.55" height="4.29" fill="#780000"/>
<rect x="460.20" y="475.15" width="23.15" height="4.29" fill="#003800"/>
<rect x="484.05" y="475.15" width="22.20" height="4.29" fill="#003800"/>
<rect x="506.95" y="475.15" width="22.70" height="4.29" fill="#003800"/>
<rect x="414.15" y="479.80" width="22.80" height="4.29" fill="#600000"/>
<rect x="437.65" y="479.80" width="22.55" height="4.29" fill="#880000"/>
<rect x="460.20" y="479.80" width="23.15" height="4.29" fill="#003800"/>
<rect x="484.05" y="479.80" width="22.20" height="4.29" fill="#003800"/>
<rect x="506.95" y="479.80" width="22.70" height="4.29" fill="#003000"/>
<rect x="414.15" y="484.45" width="22.80" height="4.29" fill="#400000"/>
<rect x="437.65" y="484.45" width="22.55" height="4.29" fill="#000000"/>
<rect x="460.20" y="484.45" width="23.15" height="4.29" fill="#006000"/>
<rect x="484.05" y="484.45" width="22.20" height="4.29" fill="#005800"/>
<rect x="506.95" y="484.45" width="22.70" height="4.29" fill="#00b800"/>
<rect x="414.15" y="489.10" width="22.80" height="4.29" fill="#580000"/>
<rect x="437.65" y="489.10" width="22.55" height="4.29" fill="#680000"/>
<rect x="460.20" y="489.10" width="23.15" height="4.29" fill="#004000"/>
<rect x="484.05" y="489.10" width="22.20" height="4.29" fill="#004000"/>
<rect x="506.95" y="489.10" width="22.70" height="4.29" fill="#004000"/>
<rect x="414.15" y="493.75" width="22.80" height="4.29" fill="#380000"/>
<rect x="437.65" y="493.75" width="22.55" height="4.29" fill="#680000"/>
<rect x="460.20" y="493.75" width="23.15" height="4.29" fill="#006800"/>
<rect x="484.05" y="493.75" width="22.20" height="4.29" fill="#005800"/>
<rect x="506.95" y="493.75" width="22.70" height="4.29" fill="#005000"/>
<rect x="414.15" y="498.40" width="22.80" height="4.29" fill="#300000"/>
<rect x="437.65" y="498.40" width="22.55" height="4.29" fill="#600000"/>
<rect x="460.20" y="498.40" width="23.15" height="4.29" fill="#005800"/>
<rect x="484.05" y="498.40" width="22.20" height="4.29" fill="#006800"/>
<rect x="506.95" y="498.40" width="22.70" height="4.29" fill="#005800"/>
<rect x="414.15" y="503.05" width="22.80" height="4.29" fill="#380000"/>
<rect x="437.65" y="503.05" width="22.55" height="4.29" fill="#800000"/>
<rect x="460.20" y="503.05" width="23.15" height="4.29" fill="#003800"/>
<rect x="484.05" y="503.05" width="22.20" height="4.29" fill="#007800"/>
<rect x="506.95" y="503.05" width="22.70" height="4.29" fill="#003000"/>
<rect x="414.15" y="507.70" width="22.80" height="4.29" fill="#700000"/>
<rect x="437.65" y="507.70" width="22.55" height="4.29" fill="#600000"/>
<rect x="460.20" y="507.70" width="23.15" height="4.29" fill="#004000"/>
<rect x="484.05" y="507.70" width="22.20" height="4.29" fill="#003800"/>
<rect x="506.95" y="507.70" width="22.70" height="4.29" fill="#005800"/>
<rect x="414.15" y="512.35" width="22.80" height="4.29" fill="#780000"/>
<rect x="437.65" y="512.35" width="22.55" height="4.29" fill="#800000"/>
<rect x="460.20" y="512.35" width="23.15" height="4.29" fill="#003000"/>
<rect x="484.05" y="512.35" width="22.20" height="4.29" fill="#004800"/>
<rect x="506.95" y="512.35" width="22.70" height="4.29" fill="#002000"/>
<rect x="414.15" y="517.00" width="22.80" height="4.29" fill="#700000"/>
<rect x="437.65" y="517.00" width="22.55" height="4.29" fill="#780000"/>
<rect x="460.20" y="517.00" width="23.15" height="4.29" fill="#003000"/>
<rect x="484.05" y="517.00" width="22.20" height="4.29" fill="#004800"/>
<rect x="506.95" y="517.00" width="22.70" height="4.29" fill="#002800"/>
<rect x="414.15" y="521.65" width="22.80" height="4.29" fill="#800000"/>
<rect x="437.65" y="521.65" width="22.55" height="4.29" fill="#280000"/>
<rect x="460.20" y="521.65" width="23.15" height="4.29" fill="#005000"/>
<rect x="484.05" y="521.65" width="22.20" height="4.29" fill="#002800"/>
<rect x="506.95" y="521.65" width="22.70" height="4.29" fill="#005000"/>
<rect x="414.15" y="526.30" width="22.80" height="4.29" fill="#600000"/>
<rect x="437.65" y="526.30" width="22.55" height="4.29" fill="#580000"/>
<rect x="460.20" y="526.30" width="23.15" height="4.29" fill="#004000"/>
<rect x="484.05" y="526.30" width="22.20" height="4.29" fill="#003800"/>
<rect x="506.95" y="526.30" width="22.70" height="4.29" fill="#004000"/>
<rect x="414.15" y="530.95" width="22.80" height="4.29" fill="#600000"/>
<rect x="437.65" y="530.95" width="22.55" height="4.29" fill="#600000"/>
<rect x="460.20" y="530.95" width="23.15" height="4.29" fill="#004000"/>
<rect x="484.05" y="530.95" width="22.20" height="4.29" fill="#004000"/>
<rect x="506.95" y="530.95" width="22.70" height="4.29" fill="#004000"/>
<rect x="414.15" y="535.59" width="22.80" height="4.29" fill="#500000"/>
<rect x="437.65" y="535.59" width="22.55" height="4.29" fill="#580000"/>
<rect x="460.20" y="535.59" width="23.15" height="4.29" fill="#005000"/>
<rect x="484.05" y="535.59" width="22.20" height="4.29" fill="#003800"/>
<rect x="506.95" y="535.59" width="22.70" height="4.29" fill="#004800"/>
<rect x="414.15" y="540.24" width="22.80" height="4.29" fill="#600000"/>
<rect x="437.65" y="540.24" width="22.55" height="4.29" fill="#680000"/>
<rect x="460.20" y="540.24" width="23.15" height="4.29" fill="#003000"/>
<rect x="484.05" y="540.24" width="22.20" height="4.29" fill="#004800"/>
<rect x="506.95" y="540.24" width="22.70" height="4.29" fill="#003800"/>
<rect x="414.15" y="544.89" width="22.80" height="4.29" fill="#680000"/>
<rect x="437.65" y="544.89" width="22.55" height="4.29" fill="#580000"/>
<rect x="460.20" y="544.89" width="23.15" height="4.29" fill="#003000"/>
<rect x="484.05" y="544.89" width="22.20" height="4.29" fill="#002800"/>
<rect x="506.95" y="544.89" width="22.70" height="4.29" fill="#004800"/>
<rect x="414.15" y="549.54" width="22.80" height="4.29" fill="#500000"/>
<rect x="437.65" y="549.54" width="22.55" height="4.29" fill="#580000"/>
<rect x="460.20" y="549.54" width="23.15" height="4.29" fill="#003000"/>
<rect x="484.05" y="549.54" width="22.20" height="4.29" fill="#004800"/>
<rect x="506.95" y="549.54" width="22.70" height="4.29" fill="#003000"/>
<rect x="414.15" y="554.19" width="22.80" height="4.29" fill="#480000"/>
<rect x="437.65" y="554.19" width="22.55" height="4.29" fill="#580000"/>
<rect x="460.20" y="554.19" width="23.15" height="4.29" fill="#005000"/>
<rect x="484.05" y="554.19" width="22.20" height="4.29" fill="#005800"/>
<rect x="506.95" y="554.19" width="22.70" height="4.29" fill="#003800"/>
<rect x="414.15" y="558.84" width="22.80" height="4.29" fill="#480000"/>
<rect x="437.65" y="558.84" width="22.55" height="4.29" fill="#380000"/>
<rect x="460.20" y="558.84" width="23.15" height="4.29" fill="#006000"/>
<rect x="484.05" y="558.84" width="22.20" height="4.29" fill="#004000"/>
<rect x="506.95" y="558.84" width="22.70" height="4.29" fill="#006800"/>
<rect x="414.15" y="563.49" width="22.80" height="4.29" fill="#500000"/>
<rect x="437.65" y="563.49" width="22.55" height="4.29" fill="#580000"/>
<rect x="460.20" y="563.49" width="23.15" height="4.29" fill="#003800"/>
<rect x="484.05" y="563.49" width="22.20" height="4.29" fill="#005800"/>
<rect x="506.95" y="563.49" width="22.70" height="4.29" fill="#004800"/>
<rect x="414.15" y="568.14" width="22.80" height="4.29" fill="#280000"/>
<rect x="437.65" y="568.14" width="22.55" height="4.29" fill="#480000"/>
<rect x="460.20" y="568.14" width="23.15" height="4.29" fill="#006000"/>
<rect x="484.05" y="568.14" width="22.20" height="4.29" fill="#005800"/>
<rect x="506.95" y="568.14" width="22.70" height="4.29" fill="#006000"/>
<rect x="414.15" y="572.79" width="22.80" height="4.29" fill="#580000"/>
<rect x="437.65" y="572.79" width="22.55" height="4.29" fill="#600000"/>
<rect x="460.20" y="572.79" width="23.15" height="4.29" fill="#004000"/>
<rect x="484.05" y="572.79" width="22.20" height="4.29" fill="#004000"/>
<rect x="506.95" y="572.79" width="22.70" height="4.29" fill="#004000"/>
<rect x="414.15" y="577.44" width="22.80" height="4.29" fill="#480000"/>
<rect x="437.65" y="577.44" width="22.55" height="4.29" fill="#380000"/>
<rect x="460.20" y="577.44" width="23.15" height="4.29" fill="#005000"/>
<rect x="484.05" y="577.44" width="22.20" height="4.29" fill="#006000"/>
<rect x="506.95" y="577.44" width="22.70" height="4.29" fill="#005000"/>
<rect x="414.15" y="582.09" width="22.80" height="4.29" fill="#880000"/>
<rect x="437.65" y="582.09" width="22.55" height="4.29" fill="#800000"/>
<rect x="460.20" y="582.09" width="23.15" height="4.29" fill="#000000"/>
<rect x="484.05" y="582.09" width="22.20" height="4.29" fill="#005000"/>
<rect x="506.95" y="582.09" width="22.70" height="4.29" fill="#180000"/>
<rect x="414.15" y="586.74" width="22.80" height="4.29" fill="#500000"/>
<rect x="437.65" y="586.74" width="22.55" height="4.29" fill="#500000"/>
<rect x="460.20" y="586.74" width="23.15" height="4.29" fill="#004000"/>
<rect x="484.05" y="586.74" width="22.20" height="4.29" fill="#004800"/>
<rect x="506.95" y="586.74" width="22.70" height="4.29" fill="#004000"/>
<rect x="414.15" y="591.39" width="22.80" height="4.29" fill="#580000"/>
<rect x="437.65" y="591.39" width="22.55" height="4.29" fill="#580000"/>
<rect x="460.20" y="591.39" width="23.15" height="4.29" fill="#003000"/>
<rect x="484.05" y="591.39" width="22.20" height="4.29" fill="#003800"/>
<rect x="506.95" y="591.39" width="22.70" height="4.29" fill="#003800"/>
<rect x="414.15" y="596.03" width="22.80" height="4.29" fill="#380000"/>
<rect x="437.65" y="596.03" width="22.55" height="4.29" fill="#500000"/>
<rect x="460.20" y="596.03" width="23.15" height="4.29" fill="#004800"/>
<rect x="484.05" y="596.03" width="22.20" height="4.29" fill="#002000"/>
<rect x="506.95" y="596.03" width="22.70" height="4.29" fill="#006000"/>
<rect x="414.15" y="600.68" width="22.80" height="4.29" fill="#500000"/>
<rect x="437.65" y="600.68" width="22.55" height="4.29" fill="#500000"/>
<rect x="460.20" y="600.68" width="23.15" height="4.29" fill="#003800"/>
<rect x="484.05" y="600.68" width="22.20" height="4.29" fill="#006800"/>
<rect x="506.95" y="600.68" width="22.70" height="4.29" fill="#002000"/>
<rect x="414.15" y="605.33" width="22.80" height="4.29" fill="#680000"/>
<rect x="437.65" y="605.33" width="22.55" height="4.29" fill="#680000"/>
<rect x="460.20" y="605.33" width="23.15" height="4.29" fill="#003000"/>
<rect x="484.05" y="605.33" width="22.20" height="4.29" fill="#002800"/>
<rect x="506.95" y="605.33" width="22.70" height="4.29" fill="#002800"/>
<rect x="414.15" y="609.98" width="22.80" height="4.29" fill="#180000"/>
<rect x="437.65" y="609.98" width="22.55" height="4.29" fill="#180000"/>
<rect x="460.20" y="609.98" width="23.15" height="4.29" fill="#007000"/>
<rect x="484.05" y="609.98" width="22.20" height="4.29" fill="#006000"/>
<rect x="506.95" y="609.98" width="22.70" height="4.29" fill="#008000"/>
<rect x="414.15" y="614.63" width="22.80" height="4.29" fill="#2c0000"/>
<rect x="437.65" y="614.63" width="22.55" height="4.29" fill="#300000"/>
<rect x="460.20" y="614.63" width="23.15" height="4.29" fill="#004800"/>
<rect x="484.05" y="614.63" width="22.20" height="4.29" fill="#005000"/>
<rect x="506.95" y="614.63" width="22.70" height="4.29" fill="#007000"/>
<rect x="414.15" y="619.28" width="22.80" height="4.29" fill="#380000"/>
<rect x="437.65" y="619.28" width="22.55" height="4.29" fill="#400000"/>
<rect x="460.20" y="619.28" width="23.15" height="4.29" fill="#004000"/>
<rect x="484.05" y="619.28" width="22.20" height="4.29" fill="#004800"/>
<rect x="506.95" y="619.28" width="22.70" height="4.29" fill="#004000"/>
<rect x="414.15" y="623.93" width="22.80" height="4.29" fill="#700000"/>
<rect x="437.65" y="623.93" width="22.55" height="4.29" fill="#400000"/>
<rect x="460.20" y="623.93" width="23.15" height="4.29" fill="#004000"/>
<rect x="484.05" y="623.93" width="22.20" height="4.29" fill="#002800"/>
<rect x="506.95" y="623.93" width="22.70" height="4.29" fill="#001800"/>
<rect x="414.15" y="628.58" width="22.80" height="4.29" fill="#300000"/>
<rect x="437.65" y="628.58" width="22.55" height="4.29" fill="#380000"/>
<rect x="460.20" y="628.58" width="23.15" height="4.29" fill="#005800"/>
<rect x="484.05" y="628.58" width="22.20" height="4.29" fill="#005000"/>
<rect x="506.95" y="628.58" width="22.70" height="4.29" fill="#004800"/>
<rect x="414.15" y="633.23" width="22.80" height="4.29" fill="#480000"/>
<rect x="437.65" y="633.23" width="22.55" height="4.29" fill="#500000"/>
<rect x="460.20" y="633.23" width="23.15" height="4.29" fill="#003800"/>
<rect x="484.05" y="633.23" width="22.20" height="4.29" fill="#004000"/>
<rect x="506.95" y="633.23" width="22.70" height="4.29" fill="#003800"/>
<rect x="414.15" y="637.88" width="22.80" height="4.29" fill="#480000"/>
<rect x="437.65" y="637.88" width="22.55" height="4.29" fill="#600000"/>
<rect x="460.20" y="637.88" width="23.15" height="4.29" fill="#003800"/>
<rect x="484.05" y="637.88" width="22.20" height="4.29" fill="#003800"/>
<rect x="506.95" y="637.88" width="22.70" height="4.29" fill="#002800"/>
<rect x="414.15" y="642.53" width="22.80" height="4.29" fill="#300000"/>
<rect x="437.65" y="642.53" width="22.55" height="4.29" fill="#300000"/>
<rect x="460.20" y="642.53" width="23.15" height="4.29" fill="#005800"/>
<rect x="484.05" y="642.53" width="22.20" height="4.29" fill="#005800"/>
<rect x="506.95" y="642.53" width="22.70" height="4.29" fill="#005800"/>
<rect x="414.15" y="647.18" width="22.80" height="4.29" fill="#180000"/>
<rect x="437.65" y="647.18" width="22.55" height="4.29" fill="#100000"/>
<rect x="460.20" y="647.18" width="23.15" height="4.29" fill="#008000"/>
<rect x="484.05" y="647.18" width="22.20" height="4.29" fill="#007800"/>
<rect x="506.95" y="647.18" width="22.70" height="4.29" fill="#008800"/>
<rect x="414.15" y="651.83" width="22.80" height="4.29" fill="#380000"/>
<rect x="437.65" y="651.83" width="22.55" height="4.29" fill="#380000"/>
<rect x="460.20" y="651.83" width="23.15" height="4.29" fill="#004000"/>
<rect x="484.05" y="651.83" width="22.20" height="4.29" fill="#005800"/>
<rect x="506.95" y="651.83" width="22.70" height="4.29" fill="#004800"/>
<rect x="414.15" y="656.47" width="22.80" height="4.29" fill="#380000"/>
<rect x="437.65" y="656.47" width="22.55" height="4.29" fill="#400000"/>
<rect x="460.20" y="656.47" width="23.15" height="4.29" fill="#005000"/>
<rect x="484.05" y="656.47" width="22.20" height="4.29" fill="#006000"/>
<rect x="506.95" y="656.47" width="22.70" height="4.29" fill="#003800"/>
<rect x="414.15" y="661.12" width="22.80" height="4.29" fill="#380000"/>
<rect x="437.65" y="661.12" width="22.55" height="4.29" fill="#400000"/>
<rect x="460.20" y="661.12" width="23.15" height="4.29" fill="#004000"/>
<rect x="484.05" y="661.12" width="22.20" height="4.29" fill="#004800"/>
<rect x="506.95" y="661.12" width="22.70" height="4.29" fill="#003800"/>
<rect x="414.15" y="665.77" width="22.80" height="4.29" fill="#380000"/>
<rect x="437.65" y="665.77" width="22.55" height="4.29" fill="#500000"/>
<rect x="460.20" y="665.77" width="23.15" height="4.29" fill="#004000"/>
<rect x="484.05" y="665.77" width="22.20" height="4.29" fill="#005000"/>
<rect x="506.95" y="665.77" width="22.70" height="4.29" fill="#003800"/>
<rect x="414.15" y="670.42" width="22.80" height="4.29" fill="#580000"/>
<rect x="437.65" y="670.42" width="22.55" height="4.29" fill="#480000"/>
<rect x="460.20" y="670.42" width="23.15" height="4.29" fill="#004800"/>
<rect x="484.05" y="670.42" width="22.20" height="4.29" fill="#000500"/>
<rect x="506.95" y="670.42" width="22.70" height="4.29" fill="#003800"/>
<rect x="414.15" y="675.07" width="22.80" height="4.29" fill="#480000"/>
<rect x="437.65" y="675.07" width="22.55" height="4.29" fill="#600000"/>
<rect x="460.20" y="675.07" width="23.15" height="4.29" fill="#005800"/>
<rect x="484.05" y="675.07" width="22.20" height="4.29" fill="#002000"/>
<rect x="506.95" y="675.07" width="22.70" height="4.29" fill="#001800"/>
<rect x="414.15" y="679.72" width="22.80" height="4.29" fill="#480000"/>
<rect x="437.65" y="679.72" width="22.55" height="4.29" fill="#580000"/>
<rect x="460.20" y="679.72" width="23.15" height="4.29" fill="#003800"/>
<rect x="484.05" y="679.72" width="22.20" height="4.29" fill="#003800"/>
<rect x="506.95" y="679.72" width="22.70" height="4.29" fill="#003800"/>
<rect x="414.15" y="684.37" width="22.80" height="4.29" fill="#800000"/>
<rect x="437.65" y="684.37" width="22.55" height="4.29" fill="#800000"/>
<rect x="460.20" y="684.37" width="23.15" height="4.29" fill="#001800"/>
<rect x="484.05" y="684.37" width="22.20" height="4.29" fill="#002000"/>
<rect x="506.95" y="684.37" width="22.70" height="4.29" fill="#400000"/>
<rect x="414.15" y="689.02" width="22.80" height="4.29" fill="#050000"/>
<rect x="437.65" y="689.02" width="22.55" height="4.29" fill="#080000"/>
<rect x="460.20" y="689.02" width="23.15" height="4.29" fill="#007800"/>
<rect x="484.05" y="689.02" width="22.20" height="4.29" fill="#007800"/>
<rect x="506.95" y="689.02" width="22.70" height="4.29" fill="#008000"/>
<rect x="414.15" y="693.67" width="22.80" height="4.29" fill="#480000"/>
<rect x="437.65" y="693.67" width="22.55" height="4.29" fill="#500000"/>
<rect x="460.20" y="693.67" width="23.15" height="4.29" fill="#004000"/>
<rect x="484.05" y="693.67" width="22.20" height="4.29" fill="#002000"/>
<rect x="506.95" y="693.67" width="22.70" height="4.29" fill="#002800"/>
<rect x="414.15" y="698.32" width="22.80" height="4.29" fill="#300000"/>
<rect x="437.65" y="698.32" width="22.55" height="4.29" fill="#480000"/>
<rect x="460.20" y="698.32" width="23.15" height="4.29" fill="#001800"/>
<rect x="484.05" y="698.32" width="22.20" height="4.29" fill="#004800"/>
<rect x="506.95" y="698.32" width="22.70" height="4.29" fill="#004800"/>
<rect x="414.15" y="702.97" width="22.80" height="4.29" fill="#380000"/>
<rect x="437.65" y="702.97" width="22.55" height="4.29" fill="#500000"/>
<rect x="460.20" y="702.97" width="23.15" height="4.29" fill="#004800"/>
<rect x="484.05" y="702.97" width="22.20" height="4.29" fill="#004800"/>
<rect x="506.95" y="702.97" width="22.70" height="4.29" fill="#004800"/>
<rect x="414.15" y="707.62" width="22.80" height="4.29" fill="#180000"/>
<rect x="437.65" y="707.62" width="22.55" height="4.29" fill="#400000"/>
<rect x="460.20" y="707.62" width="23.15" height="4.29" fill="#005000"/>
<rect x="484.05" y="707.62" width="22.20" height="4.29" fill="#005000"/>
<rect x="506.95" y="707.62" width="22.70" height="4.29" fill="#005800"/>
<rect x="414.15" y="712.27" width="22.80" height="4.29" fill="#280000"/>
<rect x="437.65" y="712.27" width="22.55" height="4.29" fill="#500000"/>
<rect x="460.20" y="712.27" width="23.15" height="4.29" fill="#004000"/>
<rect x="484.05" y="712.27" width="22.20" height="4.29" fill="#005000"/>
<rect x="506.95" y="712.27" width="22.70" height="4.29" fill="#004000"/>
<rect x="414.15" y="716.91" width="22.80" height="4.29" fill="#500000"/>
<rect x="437.65" y="716.91" width="22.55" height="4.29" fill="#500000"/>
<rect x="460.20" y="716.91" width="23.15" height="4.29" fill="#003800"/>
<rect x="484.05" y="716.91" width="22.20" height="4.29" fill="#002800"/>
<rect x="506.95" y="716.91" width="22.70" height="4.29" fill="#003800"/>
<rect x="414.15" y="721.56" width="22.80" height="4.29" fill="#380000"/>
<rect x="437.65" y="721.56" width="22.55" height="4.29" fill="#300000"/>
<rect x="460.20" y="721.56" width="23.15" height="4.29" fill="#005000"/>
<rect x="484.05" y="721.56" width="22.20" height="4.29" fill="#005000"/>
<rect x="506.95" y="721.56" width="22.70" height="4.29" fill="#005000"/>
<rect x="414.15" y="726.21" width="22.80" height="4.29" fill="#400000"/>
<rect x="437.65" y="726.21" width="22.55" height="4.29" fill="#480000"/>
<rect x="460.20" y="726.21" width="23.15" height="4.29" fill="#003800"/>
<rect x="484.05" y="726.21" width="22.20" height="4.29" fill="#003800"/>
<rect x="506.95" y="726.21" width="22.70" height="4.29" fill="#003800"/>
<rect x="414.15" y="730.86" width="22.80" height="4.29" fill="#580000"/>
<rect x="437.65" y="730.86" width="22.55" height="4.29" fill="#580000"/>
<rect x="460.20" y="730.86" width="23.15" height="4.29" fill="#002000"/>
<rect x="484.05" y="730.86" width="22.20" height="4.29" fill="#002000"/>
<rect x="506.95" y="730.86" width="22.70" height="4.29" fill="#002000"/>
<rect x="414.15" y="735.51" width="22.80" height="4.29" fill="#380000"/>
<rect x="437.65" y="735.51" width="22.55" height="4.29" fill="#480000"/>
<rect x="460.20" y="735.51" width="23.15" height="4.29" fill="#004000"/>
<rect x="484.05" y="735.51" width="22.20" height="4.29" fill="#005800"/>
<rect x="506.95" y="735.51" width="22.70" height="4.29" fill="#004800"/>
<rect x="414.15" y="740.16" width="22.80" height="4.29" fill="#300000"/>
<rect x="437.65" y="740.16" width="22.55" height="4.29" fill="#400000"/>
<rect x="460.20" y="740.16" width="23.15" height="4.29" fill="#004800"/>
<rect x="484.05" y="740.16" width="22.20" height="4.29" fill="#004800"/>
<rect x="506.95" y="740.16" width="22.70" height="4.29" fill="#004800"/>
<rect x="414.15" y="744.81" width="22.80" height="4.29" fill="#600000"/>
<rect x="437.65" y="744.81" width="22.55" height="4.29" fill="#700000"/>
<rect x="460.20" y="744.81" width="23.15" height="4.29" fill="#001800"/>
<rect x="484.05" y="744.81" width="22.20" height="4.29" fill="#001800"/>
<rect x="506.95" y="744.81" width="22.70" height="4.29" fill="#001000"/>
<rect x="414.15" y="749.46" width="22.80" height="4.29" fill="#500000"/>
<rect x="437.65" y="749.46" width="22.55" height="4.29" fill="#480000"/>
<rect x="460.20" y="749.46" width="23.15" height="4.29" fill="#002800"/>
<rect x="484.05" y="749.46" width="22.20" height="4.29" fill="#001800"/>
<rect x="506.95" y="749.46" width="22.70" height="4.29" fill="#003000"/>
<rect x="414.15" y="754.11" width="22.80" height="4.29" fill="#400000"/>
<rect x="437.65" y="754.11" width="22.55" height="4.29" fill="#400000"/>
<rect x="460.20" y="754.11" width="23.15" height="4.29" fill="#003800"/>
<rect x="484.05" y="754.11" width="22.20" height="4.29" fill="#004000"/>
<rect x="506.95" y="754.11" width="22.70" height="4.29" fill="#003000"/>
<rect x="414.15" y="758.76" width="22.80" height="4.29" fill="#480000"/>
<rect x="437.65" y="758.76" width="22.55" height="4.29" fill="#480000"/>
<rect x="460.20" y="758.76" width="23.15" height="4.29" fill="#003800"/>
<rect x="484.05" y="758.76" width="22.20" height="4.29" fill="#004000"/>
<rect x="506.95" y="758.76" width="22.70" height="4.29" fill="#003800"/>
<rect x="414.15" y="763.41" width="22.80" height="4.29" fill="#300000"/>
<rect x="437.65" y="763.41" width="22.55" height="4.29" fill="#200000"/>
<rect x="460.20" y="763.41" width="23.15" height="4.29" fill="#005800"/>
<rect x="484.05" y="763.41" width="22.20" height="4.29" fill="#004000"/>
<rect x="506.95" y="763.41" width="22.70" height="4.29" fill="#005800"/>
<rect x="414.15" y="768.06" width="22.80" height="4.29" fill="#480000"/>
<rect x="437.65" y="768.06" width="22.55" height="4.29" fill="#400000"/>
<rect x="460.20" y="768.06" width="23.15" height="4.29" fill="#002800"/>
<rect x="484.05" y="768.06" width="22.20" height="4.29" fill="#003000"/>
<rect x="506.95" y="768.06" width="22.70" height="4.29" fill="#002800"/>
<rect x="414.15" y="772.71" width="22.80" height="4.29" fill="#280000"/>
<rect x="437.65" y="772.71" width="22.55" height="4.29" fill="#280000"/>
<rect x="460.20" y="772.71" width="23.15" height="4.29" fill="#006800"/>
<rect x="484.05" y="772.71" width="22.20" height="4.29" fill="#003800"/>
<rect x="506.95" y="772.71" width="22.70" height="4.29" fill="#003800"/>
<rect x="414.15" y="777.35" width="22.80" height="4.29" fill="#400000"/>
<rect x="437.65" y="777.35" width="22.55" height="4.29" fill="#480000"/>
<rect x="460.20" y="777.35" width="23.15" height="4.29" fill="#003000"/>
<rect x="484.05" y="777.35" width="22.20" height="4.29" fill="#003800"/>
<rect x="506.95" y="777.35" width="22.70" height="4.29" fill="#003800"/>
<rect x="414.15" y="782.00" width="22.80" height="4.29" fill="#400000"/>
<rect x="437.65" y="782.00" width="22.55" height="4.29" fill="#480000"/>
<rect x="460.20" y="782.00" width="23.15" height="4.29" fill="#003000"/>
<rect x="484.05" y="782.00" width="22.20" height="4.29" fill="#001800"/>
<rect x="506.95" y="782.00" width="22.70" height="4.29" fill="#003000"/>
<rect x="414.15" y="786.65" width="22.80" height="4.29" fill="#280000"/>
<rect x="437.65" y="786.65" width="22.55" height="4.29" fill="#480000"/>
<rect x="460.20" y="786.65" width="23.15" height="4.29" fill="#004000"/>
<rect x="484.05" y="786.65" width="22.20" height="4.29" fill="#004800"/>
<rect x="506.95" y="786.65" width="22.70" height="4.29" fill="#002800"/>
<rect x="414.15" y="791.30" width="22.80" height="4.29" fill="#480000"/>
<rect x="437.65" y="791.30" width="22.55" height="4.29" fill="#400000"/>
<rect x="460.20" y="791.30" width="23.15" height="4.29" fill="#003000"/>
<rect x="484.05" y="791.30" width="22.20" height="4.29" fill="#002000"/>
<rect x="506.95" y="791.30" width="22.70" height="4.29" fill="#002800"/>
<rect x="414.15" y="795.95" width="22.80" height="4.29" fill="#300000"/>
<rect x="437.65" y="795.95" width="22.55" height="4.29" fill="#500000"/>
<rect x="460.20" y="795.95" width="23.15" height="4.29" fill="#003800"/>
<rect x="484.05" y="795.95" width="22.20" height="4.29" fill="#003000"/>
<rect x="506.95" y="795.95" width="22.70" height="4.29" fill="#003000"/>
<rect x="414.15" y="800.60" width="22.80" height="4.29" fill="#700000"/>
<rect x="437.65" y="800.60" width="22.55" height="4.29" fill="#480000"/>
<rect x="460.20" y="800.60" width="23.15" height="4.29" fill="#002000"/>
<rect x="484.05" y="800.60" width="22.20" height="4.29" fill="#000000"/>
<rect x="506.95" y="800.60" width="22.70" height="4.29" fill="#002800"/>
<rect x="414.15" y="805.25" width="22.80" height="4.29" fill="#300000"/>
<rect x="437.65" y="805.25" width="22.55" height="4.29" fill="#580000"/>
<rect x="460.20" y="805.25" width="23.15" height="4.29" fill="#003000"/>
<rect x="484.05" y="805.25" width="22.20" height="4.29" fill="#003000"/>
<rect x="506.95" y="805.25" width="22.70" height="4.29" fill="#003000"/>
<rect x="414.15" y="809.90" width="22.80" height="4.29" fill="#400000"/>
<rect x="437.65" y="809.90" width="22.55" height="4.29" fill="#200000"/>
<rect x="460.20" y="809.90" width="23.15" height="4.29" fill="#006800"/>
<rect x="484.05" y="809.90" width="22.20" height="4.29" fill="#003800"/>
<rect x="506.95" y="809.90" width="22.70" height="4.29" fill="#003800"/>
<rect x="414.15" y="814.55" width="22.80" height="4.29" fill="#480000"/>
<rect x="437.65" y="814.55" width="22.55" height="4.29" fill="#300000"/>
<rect x="460.20" y="814.55" width="23.15" height="4.29" fill="#000000"/>
<rect x="484.05" y="814.55" width="22.20" height="4.29" fill="#004800"/>
<rect x="506.95" y="814.55" width="22.70" height="4.29" fill="#004800"/>
<rect x="414.15" y="819.20" width="22.80" height="4.29" fill="#380000"/>
<rect x="437.65" y="819.20" width="22.55" height="4.29" fill="#400000"/>
<rect x="460.20" y="819.20" width="23.15" height="4.29" fill="#003000"/>
<rect x="484.05" y="819.20" width="22.20" height="4.29" fill="#003000"/>
<rect x="506.95" y="819.20" width="22.70" height="4.29" fill="#003000"/>
<rect x="414.15" y="823.85" width="22.80" height="4.29" fill="#380000"/>
<rect x="437.65" y="823.85" width="22.55" height="4.29" fill="#580000"/>
<rect x="460.20" y="823.85" width="23.15" height="4.29" fill="#002800"/>
<rect x="484.05" y="823.85" width="22.20" height="4.29" fill="#003000"/>
<rect x="506.95" y="823.85" width="22.70" height="4.29" fill="#002000"/>
<rect x="414.15" y="828.50" width="22.80" height="4.29" fill="#380000"/>
<rect x="437.65" y="828.50" width="22.55" height="4.29" fill="#400000"/>
<rect x="460.20" y="828.50" width="23.15" height="4.29" fill="#003000"/>
<rect x="484.05" y="828.50" width="22.20" height="4.29" fill="#004800"/>
<rect x="506.95" y="828.50" width="22.70" height="4.29" fill="#003800"/>
<rect x="414.15" y="833.15" width="22.80" height="4.29" fill="#500000"/>
<rect x="437.65" y="833.15" width="22.55" height="4.29" fill="#500000"/>
<rect x="460.20" y="833.15" width="23.15" height="4.29" fill="#002800"/>
<rect x="484.05" y="833.15" width="22.20" height="4.29" fill="#001800"/>
<rect x="506.95" y="833.15" width="22.70" height="4.29" fill="#001800"/>
<rect x="414.15" y="837.80" width="22.80" height="4.29" fill="#300000"/>
<rect x="437.65" y="837.80" width="22.55" height="4.29" fill="#200000"/>
<rect x="460.20" y="837.80" width="23.15" height="4.29" fill="#004800"/>
<rect x="484.05" y="837.80" width="22.20" height="4.29" fill="#003800"/>
<rect x="506.95" y="837.80" width="22.70" height="4.29" fill="#005800"/>
<rect x="414.15" y="842.44" width="22.80" height="4.29" fill="#280000"/>
<rect x="437.65" y="842.44" width="22.55" height="4.29" fill="#380000"/>
<rect x="460.20" y="842.44" width="23.15" height="4.29" fill="#003800"/>
<rect x="484.05" y="842.44" width="22.20" height="4.29" fill="#003000"/>
<rect x="506.95" y="842.44" width="22.70" height="4.29" fill="#003800"/>
<rect x="414.15" y="847.09" width="22.80" height="4.29" fill="#300000"/>
<rect x="437.65" y="847.09" width="22.55" height="4.29" fill="#380000"/>
<rect x="460.20" y="847.09" width="23.15" height="4.29" fill="#003800"/>
<rect x="484.05" y="847.09" width="22.20" height="4.29" fill="#003000"/>
<rect x="506.95" y="847.09" width="22.70" height="4.29" fill="#003000"/>
<rect x="414.15" y="851.74" width="22.80" height="4.29" fill="#500000"/>
<rect x="437.65" y="851.74" width="22.55" height="4.29" fill="#300000"/>
<rect x="460.20" y="851.74" width="23.15" height="4.29" fill="#003800"/>
<rect x="484.05" y="851.74" width="22.20" height="4.29" fill="#003000"/>
<rect x="506.95" y="851.74" width="22.70" height="4.29" fill="#003800"/>
<rect x="414.15" y="856.39" width="22.80" height="4.29" fill="#400000"/>
<rect x="437.65" y="856.39" width="22.55" height="4.29" fill="#300000"/>
<rect x="460.20" y="856.39" width="23.15" height="4.29" fill="#003800"/>
<rect x="484.05" y="856.39" width="22.20" height="4.29" fill="#001800"/>
<rect x="506.95" y="856.39" width="22.70" height="4.29" fill="#004000"/>
<rect x="414.15" y="861.04" width="22.80" height="4.29" fill="#380000"/>
<rect x="437.65" y="861.04" width="22.55" height="4.29" fill="#380000"/>
<rect x="460.20" y="861.04" width="23.15" height="4.29" fill="#003800"/>
<rect x="484.05" y="861.04" width="22.20" height="4.29" fill="#004800"/>
<rect x="506.95" y="861.04" width="22.70" height="4.29" fill="#003800"/>
<rect x="414.15" y="865.69" width="22.80" height="4.29" fill="#480000"/>
<rect x="437.65" y="865.69" width="22.55" height="4.29" fill="#280000"/>
<rect x="460.20" y="865.69" width="23.15" height="4.29" fill="#003800"/>
<rect x="484.05" y="865.69" width="22.20" height="4.29" fill="#002800"/>
<rect x="506.95" y="865.69" width="22.70" height="4.29" fill="#005000"/>
<rect x="414.15" y="870.34" width="22.80" height="4.29" fill="#480000"/>
<rect x="437.65" y="870.34" width="22.55" height="4.29" fill="#380000"/>
<rect x="460.20" y="870.34" width="23.15" height="4.29" fill="#003800"/>
<rect x="484.05" y="870.34" width="22.20" height="4.29" fill="#002800"/>
<rect x="506.95" y="870.34" width="22.70" height="4.29" fill="#003800"/>
<rect x="414.15" y="874.99" width="22.80" height="4.29" fill="#480000"/>
<rect x="437.65" y="874.99" width="22.55" height="4.29" fill="#300000"/>
<rect x="460.20" y="874.99" width="23.15" height="4.29" fill="#003000"/>
<rect x="484.05" y="874.99" width="22.20" height="4.29" fill="#004000"/>
<rect x="506.95" y="874.99" width="22.70" height="4.29" fill="#003000"/>
<rect x="414.15" y="879.64" width="22.80" height="4.29" fill="#280000"/>
<rect x="437.65" y="879.64" width="22.55" height="4.29" fill="#300000"/>
<rect x="460.20" y="879.64" width="23.15" height="4.29" fill="#004000"/>
<rect x="484.05" y="879.64" width="22.20" height="4.29" fill="#004800"/>
<rect x="506.95" y="879.64" width="22.70" height="4.29" fill="#003800"/>
<rect x="414.15" y="884.29" width="22.80" height="4.29" fill="#200000"/>
<rect x="437.65" y="884.29" width="22.55" height="4.29" fill="#480000"/>
<rect x="460.20" y="884.29" width="23.15" height="4.29" fill="#004800"/>
<rect x="484.05" y="884.29" width="22.20" height="4.29" fill="#003800"/>
<rect x="506.95" y="884.29" width="22.70" height="4.29" fill="#003000"/>
<rect x="414.15" y="888.94" width="22.80" height="4.29" fill="#480000"/>
<rect x="437.65" y="888.94" width="22.55" height="4.29" fill="#400000"/>
<rect x="460.20" y="888.94" width="23.15" height="4.29" fill="#001800"/>
<rect x="484.05" y="888.94" width="22.20" height="4.29" fill="#003800"/>
<rect x="506.95" y="888.94" width="22.70" height="4.29" fill="#002800"/>
<rect x="414.15" y="893.59" width="22.80" height="4.29" fill="#280000"/>
<rect x="437.65" y="893.59" width="22.55" height="4.29" fill="#500000"/>
<rect x="460.20" y="893.59" width="23.15" height="4.29" fill="#004800"/>
<rect x="484.05" y="893.59" width="22.20" height="4.29" fill="#003000"/>
<rect x="506.95" y="893.59" width="22.70" height="4.29" fill="#000500"/>
<rect x="414.15" y="898.24" width="22.80" height="4.29" fill="#300000"/>
<rect x="437.65" y="898.24" width="22.55" height="4.29" fill="#300000"/>
<rect x="460.20" y="898.24" width="23.15" height="4.29" fill="#003800"/>
<rect x="484.05" y="898.24" width="22.20" height="4.29" fill="#004000"/>
<rect x="506.95" y="898.24" width="22.70" height="4.29" fill="#003800"/>
<rect x="414.15" y="902.88" width="22.80" height="4.29" fill="#400000"/>
<rect x="437.65" y="902.88" width="22.55" height="4.29" fill="#400000"/>
<rect x="460.20" y="902.88" width="23.15" height="4.29" fill="#003000"/>
<rect x="484.05" y="902.88" width="22.20" height="4.29" fill="#002000"/>
<rect x="506.95" y="902.88" width="22.70" height="4.29" fill="#001800"/>
<rect x="414.15" y="907.53" width="22.80" height="4.29" fill="#300000"/>
<rect x="437.65" y="907.53" width="22.55" height="4.29" fill="#180000"/>
<rect x="460.20" y="907.53" width="23.15" height="4.29" fill="#005000"/>
<rect x="484.05" y="907.53" width="22.20" height="4.29" fill="#003000"/>
<rect x="506.95" y="907.53" width="22.70" height="4.29" fill="#005000"/>
<rect x="414.15" y="912.18" width="22.80" height="4.29" fill="#280000"/>
<rect x="437.65" y="912.18" width="22.55" height="4.29" fill="#300000"/>
<rect x="460.20" y="912.18" width="23.15" height="4.29" fill="#003800"/>
<rect x="484.05" y="912.18" width="22.20" height="4.29" fill="#004000"/>
<rect x="506.95" y="912.18" width="22.70" height="4.29" fill="#003800"/>
<rect x="414.15" y="916.83" width="22.80" height="4.29" fill="#280000"/>
<rect x="437.65" y="916.83" width="22.55" height="4.29" fill="#300000"/>
<rect x="460.20" y="916.83" width="23.15" height="4.29" fill="#002800"/>
<rect x="484.05" y="916.83" width="22.20" height="4.29" fill="#003000"/>
<rect x="506.95" y="916.83" width="22.70" height="4.29" fill="#004000"/>
<rect x="414.15" y="921.48" width="22.80" height="4.29" fill="#300000"/>
<rect x="437.65" y="921.48" width="22.55" height="4.29" fill="#380000"/>
<rect x="460.20" y="921.48" width="23.15" height="4.29" fill="#003000"/>
<rect x="484.05" y="921.48" width="22.20" height="4.29" fill="#003000"/>
<rect x="506.95" y="921.48" width="22.70" height="4.29" fill="#002800"/>
<rect x="414.15" y="926.13" width="22.80" height="4.29" fill="#380000"/>
<rect x="437.65" y="926.13" width="22.55" height="4.29" fill="#380000"/>
<rect x="460.20" y="926.13" width="23.15" height="4.29" fill="#003000"/>
<rect x="484.05" y="926.13" width="22.20" height="4.29" fill="#003000"/>
<rect x="506.95" y="926.13" width="22.70" height="4.29" fill="#002800"/>
<text x="392.4" y="320.62" font-size="2.79" font-weight="normal" fill="#707070" textLength="7.6" lengthAdjust="spacingAndGlyphs">CPA4</text>
<text x="392.4" y="325.27" font-size="2.79" font-weight="normal" fill="#707070" textLength="9.5" lengthAdjust="spacingAndGlyphs">CALB2</text>
<text x="392.4" y="329.92" font-size="2.79" font-weight="normal" fill="#707070" textLength="5.7" lengthAdjust="spacingAndGlyphs">FN1</text>
<text x="392.4" y="334.57" font-size="2.79" font-weight="normal" fill="#707070" textLength="11.4" lengthAdjust="spacingAndGlyphs">CFAP58</text>
<text x="392.4" y="339.22" font-size="2.79" font-weight="normal" fill="#707070" textLength="9.5" lengthAdjust="spacingAndGlyphs">HDR19</text>
<text x="392.4" y="343.87" font-size="2.79" font-weight="normal" fill="#707070" textLength="5.7" lengthAdjust="spacingAndGlyphs">LOX</text>
<text x="392.4" y="348.51" font-size="2.79" font-weight="normal" fill="#707070" textLength="5.7" lengthAdjust="spacingAndGlyphs">SCD</text>
<text x="392.4" y="353.16" font-size="2.79" font-weight="normal" fill="#707070" textLength="9.5" lengthAdjust="spacingAndGlyphs">TAGLN</text>
<text x="392.4" y="357.81" font-size="2.79" font-weight="normal" fill="#707070" textLength="9.5" lengthAdjust="spacingAndGlyphs">KRT18</text>
<text x="392.4" y="362.46" font-size="2.79" font-weight="normal" fill="#707070" textLength="11.4" lengthAdjust="spacingAndGlyphs">COL5A1</text>
<text x="392.4" y="367.11" font-size="2.79" font-weight="normal" fill="#707070" textLength="9.5" lengthAdjust="spacingAndGlyphs">HSPA5</text>
<text x="392.4" y="371.76" font-size="2.79" font-weight="normal" fill="#707070" textLength="9.5" lengthAdjust="spacingAndGlyphs">LOXL2</text>
<text x="392.4" y="376.41" font-size="2.79" font-weight="normal" fill="#707070" textLength="9.5" lengthAdjust="spacingAndGlyphs">TRAM2</text>
<text x="392.4" y="381.06" font-size="2.79" font-weight="normal" fill="#707070" textLength="7.6" lengthAdjust="spacingAndGlyphs">PCAN</text>
<text x="392.4" y="385.71" font-size="2.79" font-weight="normal" fill="#707070" textLength="9.5" lengthAdjust="spacingAndGlyphs">FBLN1</text>
<text x="392.4" y="390.36" font-size="2.79" font-weight="normal" fill="#707070" textLength="7.6" lengthAdjust="spacingAndGlyphs">DPYS</text>
<text x="392.4" y="395.01" font-size="2.79" font-weight="normal" fill="#707070" textLength="9.5" lengthAdjust="spacingAndGlyphs">ZBED5</text>
<text x="392.4" y="399.66" font-size="2.79" font-weight="normal" fill="#707070" textLength="7.6" lengthAdjust="spacingAndGlyphs">NPW3</text>
<text x="392.4" y="404.31" font-size="2.79" font-weight="normal" fill="#707070" textLength="9.5" lengthAdjust="spacingAndGlyphs">TGFBI</text>
<text x="392.4" y="408.95" font-size="2.79" font-weight="normal" fill="#707070" textLength="5.7" lengthAdjust="spacingAndGlyphs">MT3</text>
<text x="392.4" y="413.60" font-size="2.79" font-weight="normal" fill="#707070" textLength="15.0" lengthAdjust="spacingAndGlyphs">SERPINH1</text>
<text x="392.4" y="418.25" font-size="2.79" font-weight="normal" fill="#707070" textLength="9.5" lengthAdjust="spacingAndGlyphs">TTC39</text>
<text x="392.4" y="422.90" font-size="2.79" font-weight="normal" fill="#707070" textLength="9.5" lengthAdjust="spacingAndGlyphs">FAPP2</text>
<text x="392.4" y="427.55" font-size="2.79" font-weight="normal" fill="#707070" textLength="9.5" lengthAdjust="spacingAndGlyphs">PHF14</text>
<text x="392.4" y="432.20" font-size="2.79" font-weight="normal" fill="#707070" textLength="9.5" lengthAdjust="spacingAndGlyphs">ARAS2</text>
<text x="392.4" y="436.85" font-size="2.79" font-weight="normal" fill="#707070" textLength="9.5" lengthAdjust="spacingAndGlyphs">HSPG2</text>
<text x="392.4" y="441.50" font-size="2.79" font-weight="normal" fill="#707070" textLength="11.4" lengthAdjust="spacingAndGlyphs">S100A4</text>
<text x="392.4" y="446.15" font-size="2.79" font-weight="normal" fill="#707070" textLength="11.4" lengthAdjust="spacingAndGlyphs">COL6A3</text>
<text x="392.4" y="450.80" font-size="2.79" font-weight="normal" fill="#707070" textLength="9.5" lengthAdjust="spacingAndGlyphs">HDR11</text>
<text x="392.4" y="455.45" font-size="2.79" font-weight="normal" fill="#707070" textLength="9.5" lengthAdjust="spacingAndGlyphs">TGFB2</text>
<text x="392.4" y="460.10" font-size="2.79" font-weight="normal" fill="#707070" textLength="7.6" lengthAdjust="spacingAndGlyphs">TPM1</text>
<text x="392.4" y="464.75" font-size="2.79" font-weight="normal" fill="#707070" textLength="9.5" lengthAdjust="spacingAndGlyphs">ADAM9</text>
<text x="392.4" y="469.40" font-size="2.79" font-weight="normal" fill="#707070" textLength="9.5" lengthAdjust="spacingAndGlyphs">UBAC2</text>
<text x="392.4" y="474.04" font-size="2.79" font-weight="normal" fill="#707070" textLength="11.4" lengthAdjust="spacingAndGlyphs">SEC11C</text>
<text x="392.4" y="478.69" font-size="2.79" font-weight="normal" fill="#707070" textLength="11.4" lengthAdjust="spacingAndGlyphs">COL6A2</text>
<text x="392.4" y="483.34" font-size="2.79" font-weight="normal" fill="#707070" textLength="11.4" lengthAdjust="spacingAndGlyphs">S100A2</text>
<text x="392.4" y="487.99" font-size="2.79" font-weight="normal" fill="#707070" textLength="7.6" lengthAdjust="spacingAndGlyphs">NID2</text>
<text x="392.4" y="492.64" font-size="2.79" font-weight="normal" fill="#707070" textLength="13.3" lengthAdjust="spacingAndGlyphs">HSP90B1</text>
<text x="392.4" y="497.29" font-size="2.79" font-weight="normal" fill="#707070" textLength="5.7" lengthAdjust="spacingAndGlyphs">DBI</text>
<text x="392.4" y="501.94" font-size="2.79" font-weight="normal" fill="#707070" textLength="9.5" lengthAdjust="spacingAndGlyphs">MDM01</text>
<text x="392.4" y="506.59" font-size="2.79" font-weight="normal" fill="#707070" textLength="9.5" lengthAdjust="spacingAndGlyphs">CCT6B</text>
<text x="392.4" y="511.24" font-size="2.79" font-weight="normal" fill="#707070" textLength="9.5" lengthAdjust="spacingAndGlyphs">RAP2A</text>
<text x="392.4" y="515.89" font-size="2.79" font-weight="normal" fill="#707070" textLength="13.3" lengthAdjust="spacingAndGlyphs">ALDH1L2</text>
<text x="392.4" y="520.54" font-size="2.79" font-weight="normal" fill="#707070" textLength="11.4" lengthAdjust="spacingAndGlyphs">COL1A2</text>
<text x="392.4" y="525.19" font-size="2.79" font-weight="normal" fill="#707070" textLength="9.5" lengthAdjust="spacingAndGlyphs">SNTB1</text>
<text x="392.4" y="529.84" font-size="2.79" font-weight="normal" fill="#707070" textLength="11.4" lengthAdjust="spacingAndGlyphs">COL6A1</text>
<text x="392.4" y="534.48" font-size="2.79" font-weight="normal" fill="#707070" textLength="9.5" lengthAdjust="spacingAndGlyphs">SPARC</text>
<text x="392.4" y="539.13" font-size="2.79" font-weight="normal" fill="#707070" textLength="11.4" lengthAdjust="spacingAndGlyphs">ABLIM1</text>
<text x="392.4" y="543.78" font-size="2.79" font-weight="normal" fill="#707070" textLength="7.6" lengthAdjust="spacingAndGlyphs">ENAH</text>
<text x="392.4" y="548.43" font-size="2.79" font-weight="normal" fill="#707070" textLength="7.6" lengthAdjust="spacingAndGlyphs">LCP1</text>
<text x="392.4" y="553.08" font-size="2.79" font-weight="normal" fill="#707070" textLength="9.5" lengthAdjust="spacingAndGlyphs">PYCR1</text>
<text x="392.4" y="557.73" font-size="2.79" font-weight="normal" fill="#707070" textLength="13.3" lengthAdjust="spacingAndGlyphs">S100A10</text>
<text x="392.4" y="562.38" font-size="2.79" font-weight="normal" fill="#707070" textLength="15.0" lengthAdjust="spacingAndGlyphs">SERPINB2</text>
<text x="392.4" y="567.03" font-size="2.79" font-weight="normal" fill="#707070" textLength="11.4" lengthAdjust="spacingAndGlyphs">S100A6</text>
<text x="392.4" y="571.68" font-size="2.79" font-weight="normal" fill="#707070" textLength="9.5" lengthAdjust="spacingAndGlyphs">CEP55</text>
<text x="392.4" y="576.33" font-size="2.79" font-weight="normal" fill="#707070" textLength="9.5" lengthAdjust="spacingAndGlyphs">PSAT1</text>
<text x="392.4" y="580.98" font-size="2.79" font-weight="normal" fill="#707070" textLength="9.5" lengthAdjust="spacingAndGlyphs">PRDX3</text>
<text x="392.4" y="585.63" font-size="2.79" font-weight="normal" fill="#707070" textLength="7.6" lengthAdjust="spacingAndGlyphs">STC2</text>
<text x="392.4" y="590.28" font-size="2.79" font-weight="normal" fill="#707070" textLength="9.5" lengthAdjust="spacingAndGlyphs">HYOU1</text>
<text x="392.4" y="594.92" font-size="2.79" font-weight="normal" fill="#707070" textLength="5.7" lengthAdjust="spacingAndGlyphs">TNC</text>
<text x="392.4" y="599.57" font-size="2.79" font-weight="normal" fill="#707070" textLength="7.6" lengthAdjust="spacingAndGlyphs">MT1X</text>
<text x="392.4" y="604.22" font-size="2.79" font-weight="normal" fill="#707070" textLength="11.4" lengthAdjust="spacingAndGlyphs">SLC1A5</text>
<text x="392.4" y="608.87" font-size="2.79" font-weight="normal" fill="#707070" textLength="11.4" lengthAdjust="spacingAndGlyphs">DHCR24</text>
<text x="392.4" y="613.52" font-size="2.79" font-weight="normal" fill="#707070" textLength="9.5" lengthAdjust="spacingAndGlyphs">KLHL5</text>
<text x="392.4" y="618.17" font-size="2.79" font-weight="normal" fill="#707070" textLength="11.4" lengthAdjust="spacingAndGlyphs">PHLDA1</text>
<text x="392.4" y="622.82" font-size="2.79" font-weight="normal" fill="#707070" textLength="11.4" lengthAdjust="spacingAndGlyphs">DNAJB9</text>
<text x="392.4" y="627.47" font-size="2.79" font-weight="normal" fill="#707070" textLength="7.6" lengthAdjust="spacingAndGlyphs">MAP4</text>
<text x="392.4" y="632.12" font-size="2.79" font-weight="normal" fill="#707070" textLength="7.6" lengthAdjust="spacingAndGlyphs">DDX3</text>
<text x="392.4" y="636.77" font-size="2.79" font-weight="normal" fill="#707070" textLength="7.6" lengthAdjust="spacingAndGlyphs">CDK6</text>
<text x="392.4" y="641.42" font-size="2.79" font-weight="normal" fill="#707070" textLength="13.3" lengthAdjust="spacingAndGlyphs">ARHGEF2</text>
<text x="392.4" y="646.07" font-size="2.79" font-weight="normal" fill="#707070" textLength="7.6" lengthAdjust="spacingAndGlyphs">PGM3</text>
<text x="392.4" y="650.72" font-size="2.79" font-weight="normal" fill="#707070" textLength="7.6" lengthAdjust="spacingAndGlyphs">DPYS</text>
<text x="392.4" y="655.36" font-size="2.79" font-weight="normal" fill="#707070" textLength="9.5" lengthAdjust="spacingAndGlyphs">TRAM2</text>
<text x="392.4" y="660.01" font-size="2.79" font-weight="normal" fill="#707070" textLength="9.5" lengthAdjust="spacingAndGlyphs">CCT6B</text>
<text x="392.4" y="664.66" font-size="2.79" font-weight="normal" fill="#707070" textLength="9.5" lengthAdjust="spacingAndGlyphs">SPARC</text>
<text x="392.4" y="669.31" font-size="2.79" font-weight="normal" fill="#707070" textLength="13.3" lengthAdjust="spacingAndGlyphs">ALDH1L2</text>
<text x="392.4" y="673.96" font-size="2.79" font-weight="normal" fill="#707070" textLength="11.4" lengthAdjust="spacingAndGlyphs">HDDJR3</text>
<text x="392.4" y="678.61" font-size="2.79" font-weight="normal" fill="#707070" textLength="7.6" lengthAdjust="spacingAndGlyphs">RRAD</text>
<text x="392.4" y="683.26" font-size="2.79" font-weight="normal" fill="#707070" textLength="13.3" lengthAdjust="spacingAndGlyphs">MAP3K11</text>
<text x="392.4" y="687.91" font-size="2.79" font-weight="normal" fill="#707070" textLength="11.4" lengthAdjust="spacingAndGlyphs">EIF2S1</text>
<text x="392.4" y="692.56" font-size="2.79" font-weight="normal" fill="#707070" textLength="11.4" lengthAdjust="spacingAndGlyphs">COL4A1</text>
<text x="392.4" y="697.21" font-size="2.79" font-weight="normal" fill="#707070" textLength="7.6" lengthAdjust="spacingAndGlyphs">RRM2</text>
<text x="392.4" y="701.86" font-size="2.79" font-weight="normal" fill="#707070" textLength="7.6" lengthAdjust="spacingAndGlyphs">SNCA</text>
<text x="392.4" y="706.51" font-size="2.79" font-weight="normal" fill="#707070" textLength="11.4" lengthAdjust="spacingAndGlyphs">SLC7A5</text>
<text x="392.4" y="711.16" font-size="2.79" font-weight="normal" fill="#707070" textLength="5.7" lengthAdjust="spacingAndGlyphs">CAD</text>
<text x="392.4" y="715.80" font-size="2.79" font-weight="normal" fill="#707070" textLength="9.5" lengthAdjust="spacingAndGlyphs">MAP1B</text>
<text x="392.4" y="720.45" font-size="2.79" font-weight="normal" fill="#707070" textLength="9.5" lengthAdjust="spacingAndGlyphs">STMN1</text>
<text x="392.4" y="725.10" font-size="2.79" font-weight="normal" fill="#707070" textLength="11.4" lengthAdjust="spacingAndGlyphs">IGFBP5</text>
<text x="392.4" y="729.75" font-size="2.79" font-weight="normal" fill="#707070" textLength="5.7" lengthAdjust="spacingAndGlyphs">FN1</text>
<text x="392.4" y="734.40" font-size="2.79" font-weight="normal" fill="#707070" textLength="11.4" lengthAdjust="spacingAndGlyphs">COL6A2</text>
<text x="392.4" y="739.05" font-size="2.79" font-weight="normal" fill="#707070" textLength="7.6" lengthAdjust="spacingAndGlyphs">NPW3</text>
<text x="392.4" y="743.70" font-size="2.79" font-weight="normal" fill="#707070" textLength="15.0" lengthAdjust="spacingAndGlyphs">PPP1R14B</text>
<text x="392.4" y="748.35" font-size="2.79" font-weight="normal" fill="#707070" textLength="9.5" lengthAdjust="spacingAndGlyphs">HSPG2</text>
<text x="392.4" y="753.00" font-size="2.79" font-weight="normal" fill="#707070" textLength="7.6" lengthAdjust="spacingAndGlyphs">LEPR</text>
<text x="392.4" y="757.65" font-size="2.79" font-weight="normal" fill="#707070" textLength="7.6" lengthAdjust="spacingAndGlyphs">FBN1</text>
<text x="392.4" y="762.30" font-size="2.79" font-weight="normal" fill="#707070" textLength="9.5" lengthAdjust="spacingAndGlyphs">PSAT1</text>
<text x="392.4" y="766.95" font-size="2.79" font-weight="normal" fill="#707070" textLength="7.6" lengthAdjust="spacingAndGlyphs">CALU</text>
<text x="392.4" y="771.60" font-size="2.79" font-weight="normal" fill="#707070" textLength="9.5" lengthAdjust="spacingAndGlyphs">TUBB6</text>
<text x="392.4" y="776.25" font-size="2.79" font-weight="normal" fill="#707070" textLength="9.5" lengthAdjust="spacingAndGlyphs">LOXL1</text>
<text x="392.4" y="780.89" font-size="2.79" font-weight="normal" fill="#707070" textLength="7.6" lengthAdjust="spacingAndGlyphs">CALR</text>
<text x="392.4" y="785.54" font-size="2.79" font-weight="normal" fill="#707070" textLength="7.6" lengthAdjust="spacingAndGlyphs">CNN2</text>
<text x="392.4" y="790.19" font-size="2.79" font-weight="normal" fill="#707070" textLength="7.6" lengthAdjust="spacingAndGlyphs">EGFR</text>
<text x="392.4" y="794.84" font-size="2.79" font-weight="normal" fill="#707070" textLength="7.6" lengthAdjust="spacingAndGlyphs">FGF1</text>
<text x="392.4" y="799.49" font-size="2.79" font-weight="normal" fill="#707070" textLength="9.5" lengthAdjust="spacingAndGlyphs">PLOD1</text>
<text x="392.4" y="804.14" font-size="2.79" font-weight="normal" fill="#707070" textLength="11.4" lengthAdjust="spacingAndGlyphs">SLC1A3</text>
<text x="392.4" y="808.79" font-size="2.79" font-weight="normal" fill="#707070" textLength="9.5" lengthAdjust="spacingAndGlyphs">CRTAP</text>
<text x="392.4" y="813.44" font-size="2.79" font-weight="normal" fill="#707070" textLength="9.5" lengthAdjust="spacingAndGlyphs">HDR19</text>
<text x="392.4" y="818.09" font-size="2.79" font-weight="normal" fill="#707070" textLength="7.6" lengthAdjust="spacingAndGlyphs">NID2</text>
<text x="392.4" y="822.74" font-size="2.79" font-weight="normal" fill="#707070" textLength="9.5" lengthAdjust="spacingAndGlyphs">HSPA5</text>
<text x="392.4" y="827.39" font-size="2.79" font-weight="normal" fill="#707070" textLength="9.5" lengthAdjust="spacingAndGlyphs">TAGLN</text>
<text x="392.4" y="832.04" font-size="2.79" font-weight="normal" fill="#707070" textLength="9.5" lengthAdjust="spacingAndGlyphs">ZBED5</text>
<text x="392.4" y="836.69" font-size="2.79" font-weight="normal" fill="#707070" textLength="9.5" lengthAdjust="spacingAndGlyphs">DHCR7</text>
<text x="392.4" y="841.33" font-size="2.79" font-weight="normal" fill="#707070" textLength="13.3" lengthAdjust="spacingAndGlyphs">S100A10</text>
<text x="392.4" y="845.98" font-size="2.79" font-weight="normal" fill="#707070" textLength="9.5" lengthAdjust="spacingAndGlyphs">SPEF2</text>
<text x="392.4" y="850.63" font-size="2.79" font-weight="normal" fill="#707070" textLength="7.6" lengthAdjust="spacingAndGlyphs">DPP4</text>
<text x="392.4" y="855.28" font-size="2.79" font-weight="normal" fill="#707070" textLength="11.4" lengthAdjust="spacingAndGlyphs">IGFBP6</text>
<text x="392.4" y="859.93" font-size="2.79" font-weight="normal" fill="#707070" textLength="7.6" lengthAdjust="spacingAndGlyphs">FBN2</text>
<text x="392.4" y="864.58" font-size="2.79" font-weight="normal" fill="#707070" textLength="9.5" lengthAdjust="spacingAndGlyphs">PLAC8</text>
<text x="392.4" y="869.23" font-size="2.79" font-weight="normal" fill="#707070" textLength="11.4" lengthAdjust="spacingAndGlyphs">SCARB1</text>
<text x="392.4" y="873.88" font-size="2.79" font-weight="normal" fill="#707070" textLength="13.3" lengthAdjust="spacingAndGlyphs">LRRFIP1</text>
<text x="392.4" y="878.53" font-size="2.79" font-weight="normal" fill="#707070" textLength="11.4" lengthAdjust="spacingAndGlyphs">GPRC5A</text>
<text x="392.4" y="883.18" font-size="2.79" font-weight="normal" fill="#707070" textLength="11.4" lengthAdjust="spacingAndGlyphs">PHLDA3</text>
<text x="392.4" y="887.83" font-size="2.79" font-weight="normal" fill="#707070" textLength="9.5" lengthAdjust="spacingAndGlyphs">ANXA1</text>
<text x="392.4" y="892.48" font-size="2.79" font-weight="normal" fill="#707070" textLength="9.5" lengthAdjust="spacingAndGlyphs">CALB2</text>
<text x="392.4" y="897.13" font-size="2.79" font-weight="normal" fill="#707070" textLength="9.5" lengthAdjust="spacingAndGlyphs">TGFBI</text>
<text x="392.4" y="901.77" font-size="2.79" font-weight="normal" fill="#707070" textLength="11.4" lengthAdjust="spacingAndGlyphs">COL6A1</text>
<text x="392.4" y="906.42" font-size="2.79" font-weight="normal" fill="#707070" textLength="9.5" lengthAdjust="spacingAndGlyphs">MDM01</text>
<text x="392.4" y="911.07" font-size="2.79" font-weight="normal" fill="#707070" textLength="11.4" lengthAdjust="spacingAndGlyphs">S100A2</text>
<text x="392.4" y="915.72" font-size="2.79" font-weight="normal" fill="#707070" textLength="15.0" lengthAdjust="spacingAndGlyphs">SERPINH1</text>
<text x="392.4" y="920.37" font-size="2.79" font-weight="normal" fill="#707070" textLength="7.6" lengthAdjust="spacingAndGlyphs">LCP1</text>
<text x="392.4" y="925.02" font-size="2.79" font-weight="normal" fill="#707070" textLength="9.5" lengthAdjust="spacingAndGlyphs">RRAS2</text>
<text x="392.4" y="929.67" font-size="2.79" font-weight="normal" fill="#707070" textLength="9.5" lengthAdjust="spacingAndGlyphs">SRSF9</text>
<path d="M291.4,324.1 H303.0" stroke="#000" stroke-width="1.6" fill="none"/>
<path d="M300.0,319.1 Q301.0,322.7 304.0,324.1 Q301.0,325.5 300.0,329.1" stroke="#000" stroke-width="1.3" fill="none"/>
<text x="304.8" y="329.2" font-size="14" font-weight="bold" fill="#000" text-anchor="start">FN1</text>
<path d="M291.4,347.4 H303.0" stroke="#000" stroke-width="1.6" fill="none"/>
<path d="M300.0,342.4 Q301.0,346.0 304.0,347.4 Q301.0,348.8 300.0,352.4" stroke="#000" stroke-width="1.3" fill="none"/>
<text x="304.8" y="349.2" font-size="14" font-weight="bold" fill="#000" text-anchor="start">COL5A1</text>
<path d="M291.4,354.8 H303.0" stroke="#000" stroke-width="1.6" fill="none"/>
<path d="M300.0,349.8 Q301.0,353.4 304.0,354.8 Q301.0,356.2 300.0,359.8" stroke="#000" stroke-width="1.3" fill="none"/>
<text x="304.8" y="360.3" font-size="14" font-weight="bold" fill="#000" text-anchor="start">TGFBI</text>
<path d="M291.4,363.2 H303.0" stroke="#000" stroke-width="1.6" fill="none"/>
<path d="M300.0,358.2 Q301.0,361.8 304.0,363.2 Q301.0,364.6 300.0,368.2" stroke="#000" stroke-width="1.3" fill="none"/>
<text x="304.8" y="372.0" font-size="14" font-weight="bold" fill="#000" text-anchor="start">COL6A2</text>
<path d="M291.4,386.9 H303.0" stroke="#000" stroke-width="1.6" fill="none"/>
<path d="M300.0,381.9 Q301.0,385.5 304.0,386.9 Q301.0,388.3 300.0,391.9" stroke="#000" stroke-width="1.3" fill="none"/>
<text x="304.8" y="390.5" font-size="14" font-weight="bold" fill="#000" text-anchor="start">COL6A3</text>
<path d="M291.4,394.4 H303.0" stroke="#000" stroke-width="1.6" fill="none"/>
<path d="M300.0,389.4 Q301.0,393.0 304.0,394.4 Q301.0,395.8 300.0,399.4" stroke="#000" stroke-width="1.3" fill="none"/>
<text x="304.8" y="400.9" font-size="14" font-weight="bold" fill="#000" text-anchor="start">COL6A1</text>
<path d="M291.4,527.1 H303.0" stroke="#000" stroke-width="1.6" fill="none"/>
<path d="M300.0,522.1 Q301.0,525.7 304.0,527.1 Q301.0,528.5 300.0,532.1" stroke="#000" stroke-width="1.3" fill="none"/>
<text x="304.8" y="532.0" font-size="14" font-weight="bold" fill="#000" text-anchor="start">COL1A2</text>
<path d="M291.4,541.2 H303.0" stroke="#000" stroke-width="1.6" fill="none"/>
<path d="M300.0,536.2 Q301.0,539.8 304.0,541.2 Q301.0,542.6 300.0,546.2" stroke="#000" stroke-width="1.3" fill="none"/>
<text x="304.8" y="546.4" font-size="14" font-weight="bold" fill="#000" text-anchor="start">HSP90B1</text>
<path d="M291.4,653.9 H303.0" stroke="#000" stroke-width="1.6" fill="none"/>
<path d="M300.0,648.9 Q301.0,652.5 304.0,653.9 Q301.0,655.3 300.0,658.9" stroke="#000" stroke-width="1.3" fill="none"/>
<text x="304.8" y="658.9" font-size="14" font-weight="bold" fill="#000" text-anchor="start">TNC</text>
<path d="M291.4,754.3 H303.0" stroke="#000" stroke-width="1.6" fill="none"/>
<path d="M300.0,749.3 Q301.0,752.9 304.0,754.3 Q301.0,755.7 300.0,759.3" stroke="#000" stroke-width="1.3" fill="none"/>
<text x="304.8" y="759.4" font-size="14" font-weight="bold" fill="#000" text-anchor="start">COL1A1</text>
<path d="M291.4,808.5 H303.0" stroke="#000" stroke-width="1.6" fill="none"/>
<path d="M300.0,803.5 Q301.0,807.1 304.0,808.5 Q301.0,809.9 300.0,813.5" stroke="#000" stroke-width="1.3" fill="none"/>
<text x="304.8" y="812.6" font-size="14" font-weight="bold" fill="#000" text-anchor="start">LAMC1</text>
<path d="M291.4,817.4 H303.0" stroke="#000" stroke-width="1.6" fill="none"/>
<path d="M300.0,812.4 Q301.0,816.0 304.0,817.4 Q301.0,818.8 300.0,822.4" stroke="#000" stroke-width="1.3" fill="none"/>
<text x="304.8" y="824.1" font-size="14" font-weight="bold" fill="#000" text-anchor="start">EGFR</text>
<path d="M291.4,840.0 H303.0" stroke="#000" stroke-width="1.6" fill="none"/>
<path d="M300.0,835.0 Q301.0,838.6 304.0,840.0 Q301.0,841.4 300.0,845.0" stroke="#000" stroke-width="1.3" fill="none"/>
<text x="304.8" y="844.8" font-size="14" font-weight="bold" fill="#000" text-anchor="start">ITGAV</text>
<path d="M291.4,884.9 H303.0" stroke="#000" stroke-width="1.6" fill="none"/>
<path d="M300.0,879.9 Q301.0,883.5 304.0,884.9 Q301.0,886.3 300.0,889.9" stroke="#000" stroke-width="1.3" fill="none"/>
<text x="304.8" y="889.9" font-size="14" font-weight="bold" fill="#000" text-anchor="start">GNG5</text>
<path d="M535.2,329.0 H546.8" stroke="#000" stroke-width="1.6" fill="none"/>
<path d="M543.8,324.0 Q544.8,327.6 547.8,329.0 Q544.8,330.4 543.8,334.0" stroke="#000" stroke-width="1.3" fill="none"/>
<text x="548.4" y="334.5" font-size="14" font-weight="bold" fill="#000" text-anchor="start">FN1</text>
<path d="M535.2,361.9 H546.8" stroke="#000" stroke-width="1.6" fill="none"/>
<path d="M543.8,356.9 Q544.8,360.5 547.8,361.9 Q544.8,363.3 543.8,366.9" stroke="#000" stroke-width="1.3" fill="none"/>
<text x="548.4" y="367.6" font-size="14" font-weight="bold" fill="#000" text-anchor="start">COL5A1</text>
<path d="M535.2,403.4 H546.8" stroke="#000" stroke-width="1.6" fill="none"/>
<path d="M543.8,398.4 Q544.8,402.0 547.8,403.4 Q544.8,404.8 543.8,408.4" stroke="#000" stroke-width="1.3" fill="none"/>
<text x="548.4" y="408.5" font-size="14" font-weight="bold" fill="#000" text-anchor="start">TGFBI</text>
<path d="M535.2,444.5 H546.8" stroke="#000" stroke-width="1.6" fill="none"/>
<path d="M543.8,439.5 Q544.8,443.1 547.8,444.5 Q544.8,445.9 543.8,449.5" stroke="#000" stroke-width="1.3" fill="none"/>
<text x="548.4" y="449.3" font-size="14" font-weight="bold" fill="#000" text-anchor="start">COL6A3</text>
<path d="M535.2,476.3 H546.8" stroke="#000" stroke-width="1.6" fill="none"/>
<path d="M543.8,471.3 Q544.8,474.9 547.8,476.3 Q544.8,477.7 543.8,481.3" stroke="#000" stroke-width="1.3" fill="none"/>
<text x="548.4" y="481.0" font-size="14" font-weight="bold" fill="#000" text-anchor="start">COL6A2</text>
<path d="M535.2,490.7 H546.8" stroke="#000" stroke-width="1.6" fill="none"/>
<path d="M543.8,485.7 Q544.8,489.3 547.8,490.7 Q544.8,492.1 543.8,495.7" stroke="#000" stroke-width="1.3" fill="none"/>
<text x="548.4" y="496.0" font-size="14" font-weight="bold" fill="#000" text-anchor="start">HSP90B1</text>
<path d="M535.2,519.3 H546.8" stroke="#000" stroke-width="1.6" fill="none"/>
<path d="M543.8,514.3 Q544.8,517.9 547.8,519.3 Q544.8,520.7 543.8,524.3" stroke="#000" stroke-width="1.3" fill="none"/>
<text x="548.4" y="523.8" font-size="14" font-weight="bold" fill="#000" text-anchor="start">COL1A2</text>
<path d="M535.2,529.0 H546.8" stroke="#000" stroke-width="1.6" fill="none"/>
<path d="M543.8,524.0 Q544.8,527.6 547.8,529.0 Q544.8,530.4 543.8,534.0" stroke="#000" stroke-width="1.3" fill="none"/>
<text x="548.4" y="536.7" font-size="14" font-weight="bold" fill="#000" text-anchor="start">COL6A1</text>
<path d="M535.2,594.7 H546.8" stroke="#000" stroke-width="1.6" fill="none"/>
<path d="M543.8,589.7 Q544.8,593.3 547.8,594.7 Q544.8,596.1 543.8,599.7" stroke="#000" stroke-width="1.3" fill="none"/>
<text x="548.4" y="599.0" font-size="14" font-weight="bold" fill="#000" text-anchor="start">TNC</text>
<path d="M535.2,658.6 H546.8" stroke="#000" stroke-width="1.6" fill="none"/>
<path d="M543.8,653.6 Q544.8,657.2 547.8,658.6 Q544.8,660.0 543.8,663.6" stroke="#000" stroke-width="1.3" fill="none"/>
<text x="548.4" y="665.3" font-size="14" font-weight="bold" fill="#000" text-anchor="start">COL1A1</text>
<path d="M535.2,769.8 H546.8" stroke="#000" stroke-width="1.6" fill="none"/>
<path d="M543.8,764.8 Q544.8,768.4 547.8,769.8 Q544.8,771.2 543.8,774.8" stroke="#000" stroke-width="1.3" fill="none"/>
<text x="548.4" y="773.9" font-size="14" font-weight="bold" fill="#000" text-anchor="start">EGFR</text>
<path d="M535.2,779.7 H546.8" stroke="#000" stroke-width="1.6" fill="none"/>
<path d="M543.8,774.7 Q544.8,778.3 547.8,779.7 Q544.8,781.1 543.8,784.7" stroke="#000" stroke-width="1.3" fill="none"/>
<text x="548.4" y="786.4" font-size="14" font-weight="bold" fill="#000" text-anchor="start">GNG10</text>
<path d="M535.2,793.0 H546.8" stroke="#000" stroke-width="1.6" fill="none"/>
<path d="M543.8,788.0 Q544.8,791.6 547.8,793.0 Q544.8,794.4 543.8,798.0" stroke="#000" stroke-width="1.3" fill="none"/>
<text x="548.4" y="798.9" font-size="14" font-weight="bold" fill="#000" text-anchor="start">LAMC1</text>
<path d="M535.2,803.0 H546.8" stroke="#000" stroke-width="1.6" fill="none"/>
<path d="M543.8,798.0 Q544.8,801.6 547.8,803.0 Q544.8,804.4 543.8,808.0" stroke="#000" stroke-width="1.3" fill="none"/>
<text x="548.4" y="809.7" font-size="14" font-weight="bold" fill="#000" text-anchor="start">FGF1</text>
<path d="M535.2,826.0 H546.8" stroke="#000" stroke-width="1.6" fill="none"/>
<path d="M543.8,821.0 Q544.8,824.6 547.8,826.0 Q544.8,827.4 543.8,831.0" stroke="#000" stroke-width="1.3" fill="none"/>
<text x="548.4" y="831.0" font-size="14" font-weight="bold" fill="#000" text-anchor="start">GNG5</text>
<path d="M535.2,840.0 H546.8" stroke="#000" stroke-width="1.6" fill="none"/>
<path d="M543.8,835.0 Q544.8,838.6 547.8,840.0 Q544.8,841.4 543.8,845.0" stroke="#000" stroke-width="1.3" fill="none"/>
<text x="548.4" y="846.0" font-size="14" font-weight="bold" fill="#000" text-anchor="start">CDK6</text>
<path d="M535.2,913.7 H546.8" stroke="#000" stroke-width="1.6" fill="none"/>
<path d="M543.8,908.7 Q544.8,912.3 547.8,913.7 Q544.8,915.1 543.8,918.7" stroke="#000" stroke-width="1.3" fill="none"/>
<text x="548.4" y="918.7" font-size="14" font-weight="bold" fill="#000" text-anchor="start">ITGAV</text>
<text transform="translate(698.6,38.8) scale(0.95,1)" font-size="48" font-weight="bold">B</text>
<text x="1164.6" y="225.9" font-size="26" font-weight="bold" fill="#ff0000" text-anchor="end">ECM-receptor interaction</text>
<rect x="1272.00" y="215.60" width="203.90" height="12.60" fill="#000"/>
<rect x="1267.00" y="218.00" width="208.90" height="13.00" fill="#ff0000"/>
<text x="1481.3" y="232.2" font-size="22" font-weight="normal" fill="#383838" text-anchor="start" stroke="#383838" stroke-width="0.6">11</text>
<text x="1510.9" y="232.4" font-size="22" font-weight="bold" fill="#ff0000" text-anchor="start">11</text>
<text x="1164.6" y="252.6" font-size="26" font-weight="bold" fill="#ff0000" text-anchor="end">PI3K-Akt signaling pathway</text>
<rect x="1292.50" y="242.20" width="236.40" height="12.60" fill="#000"/>
<rect x="1310.30" y="244.60" width="186.70" height="13.00" fill="#ff0000"/>
<text x="1546.2" y="258.8" font-size="22" font-weight="normal" fill="#383838" text-anchor="start" stroke="#383838" stroke-width="0.6">13</text>
<text x="1571.2" y="259.0" font-size="22" font-weight="bold" fill="#ff0000" text-anchor="start">16</text>
<text x="1164.6" y="279.3" font-size="26" font-weight="bold" fill="#ff0000" text-anchor="end">Focal adhesion</text>
<rect x="1300.00" y="268.80" width="186.10" height="12.60" fill="#000"/>
<rect x="1305.10" y="271.20" width="170.80" height="13.00" fill="#ff0000"/>
<text x="1490.4" y="285.4" font-size="22" font-weight="normal" fill="#383838" text-anchor="start" stroke="#383838" stroke-width="0.6">11</text>
<text x="1516.5" y="285.6" font-size="22" font-weight="bold" fill="#ff0000" text-anchor="start">12</text>
<text x="1164.6" y="305.9" font-size="26" font-weight="bold" fill="#ff0000" text-anchor="end">Protein digestion and absorption</text>
<rect x="1308.00" y="295.40" width="136.00" height="12.60" fill="#000"/>
<rect x="1316.00" y="297.80" width="117.30" height="13.00" fill="#ff0000"/>
<text x="1455.0" y="312.0" font-size="22" font-weight="normal" fill="#383838" text-anchor="start" stroke="#383838" stroke-width="0.6">7</text>
<text x="1475.6" y="312.2" font-size="22" font-weight="bold" fill="#ff0000" text-anchor="start">8</text>
<text x="1164.6" y="332.6" font-size="26" font-weight="bold" fill="#ff0000" text-anchor="end">Amoebiasis</text>
<rect x="1323.50" y="322.00" width="109.80" height="12.60" fill="#000"/>
<rect x="1320.60" y="324.40" width="112.70" height="13.00" fill="#ff0000"/>
<text x="1438.7" y="338.6" font-size="22" font-weight="normal" fill="#383838" text-anchor="start" stroke="#383838" stroke-width="0.6">7</text>
<text x="1465.3" y="338.8" font-size="22" font-weight="bold" fill="#ff0000" text-anchor="start">7</text>
<text x="1164.6" y="359.3" font-size="26" font-weight="bold" fill="#00b050" text-anchor="end">ECM organization</text>
<rect x="1218.10" y="348.60" width="332.20" height="12.60" fill="#000"/>
<rect x="1224.40" y="351.00" width="315.50" height="13.00" fill="#00b050"/>
<text x="1556.4" y="365.2" font-size="22" font-weight="normal" fill="#383838" text-anchor="start" stroke="#383838" stroke-width="0.6">17</text>
<text x="1588.3" y="365.4" font-size="22" font-weight="bold" fill="#ff0000" text-anchor="start">18</text>
<text x="1164.6" y="386.0" font-size="26" font-weight="bold" fill="#00b050" text-anchor="end">collagen fibril organization</text>
<rect x="1289.80" y="375.20" width="143.50" height="12.60" fill="#000"/>
<rect x="1287.10" y="377.60" width="146.20" height="13.00" fill="#00b050"/>
<text x="1438.7" y="391.8" font-size="22" font-weight="normal" fill="#383838" text-anchor="start" stroke="#383838" stroke-width="0.6">7</text>
<text x="1466.4" y="392.0" font-size="22" font-weight="bold" fill="#ff0000" text-anchor="start">7</text>
<text x="1164.6" y="412.7" font-size="26" font-weight="bold" fill="#00b050" text-anchor="end">cell adhesion</text>
<rect x="1303.00" y="401.80" width="215.20" height="12.60" fill="#000"/>
<rect x="1298.90" y="404.20" width="219.30" height="13.00" fill="#00b050"/>
<text x="1523.9" y="418.4" font-size="22" font-weight="normal" fill="#383838" text-anchor="start" stroke="#383838" stroke-width="0.6">15</text>
<text x="1551.8" y="418.6" font-size="22" font-weight="bold" fill="#ff0000" text-anchor="start">15</text>
<text x="1164.6" y="439.3" font-size="26" font-weight="bold" fill="#00b050" text-anchor="end">collagen biosynthetic process</text>
<rect x="1303.90" y="428.40" width="97.10" height="12.60" fill="#000"/>
<rect x="1302.60" y="430.80" width="98.40" height="13.00" fill="#00b050"/>
<text x="1406.1" y="445.0" font-size="22" font-weight="normal" fill="#383838" text-anchor="start" stroke="#383838" stroke-width="0.6">4</text>
<text x="1430.7" y="445.2" font-size="22" font-weight="bold" fill="#ff0000" text-anchor="start">4</text>
<text x="1164.6" y="466.0" font-size="26" font-weight="bold" fill="#00b050" text-anchor="end">collagen catabolic process</text>
<rect x="1316.00" y="455.00" width="105.90" height="12.60" fill="#000"/>
<rect x="1314.20" y="457.40" width="107.70" height="13.00" fill="#00b050"/>
<text x="1427.3" y="471.6" font-size="22" font-weight="normal" fill="#383838" text-anchor="start" stroke="#383838" stroke-width="0.6">6</text>
<text x="1452.3" y="471.8" font-size="22" font-weight="bold" fill="#ff0000" text-anchor="start">6</text>
<text x="1164.6" y="492.7" font-size="26" font-weight="bold" fill="#7030a0" text-anchor="end">ER lumen</text>
<rect x="1174.10" y="481.60" width="407.90" height="12.60" fill="#000"/>
<rect x="1181.00" y="484.00" width="390.70" height="13.00" fill="#7030a0"/>
<text x="1589.8" y="498.2" font-size="22" font-weight="normal" fill="#383838" text-anchor="start" stroke="#383838" stroke-width="0.6">20</text>
<text x="1618.6" y="498.4" font-size="22" font-weight="bold" fill="#ff0000" text-anchor="start">21</text>
<text x="1164.6" y="519.4" font-size="26" font-weight="bold" fill="#7030a0" text-anchor="end">ECM</text>
<rect x="1224.90" y="508.20" width="346.80" height="12.60" fill="#000"/>
<rect x="1229.00" y="510.60" width="332.30" height="13.00" fill="#7030a0"/>
<text x="1575.9" y="524.8" font-size="22" font-weight="normal" fill="#383838" text-anchor="start" stroke="#383838" stroke-width="0.6">19</text>
<text x="1606.9" y="525.0" font-size="22" font-weight="bold" fill="#ff0000" text-anchor="start">20</text>
<text x="1164.6" y="546.1" font-size="26" font-weight="bold" fill="#7030a0" text-anchor="end">extracellular space</text>
<rect x="1232.90" y="534.80" width="519.90" height="12.60" fill="#000"/>
<rect x="1235.80" y="537.20" width="495.90" height="13.00" fill="#7030a0"/>
<text x="1756.0" y="551.4" font-size="22" font-weight="normal" fill="#383838" text-anchor="start" stroke="#383838" stroke-width="0.6">35</text>
<text x="1785.0" y="551.6" font-size="22" font-weight="bold" fill="#ff0000" text-anchor="start">37</text>
<text x="1164.6" y="572.7" font-size="26" font-weight="bold" fill="#7030a0" text-anchor="end">proteinaceous ECM</text>
<rect x="1281.40" y="561.40" width="226.60" height="12.60" fill="#000"/>
<rect x="1286.40" y="563.80" width="210.70" height="13.00" fill="#7030a0"/>
<text x="1524.5" y="578.0" font-size="22" font-weight="normal" fill="#383838" text-anchor="start" stroke="#383838" stroke-width="0.6">13</text>
<text x="1553.0" y="578.2" font-size="22" font-weight="bold" fill="#ff0000" text-anchor="start">14</text>
<text x="1164.6" y="599.4" font-size="26" font-weight="bold" fill="#7030a0" text-anchor="end">ER chaperone complex</text>
<rect x="1293.20" y="588.00" width="118.50" height="12.60" fill="#000"/>
<rect x="1291.60" y="590.40" width="120.10" height="13.00" fill="#7030a0"/>
<text x="1417.0" y="604.6" font-size="22" font-weight="normal" fill="#383838" text-anchor="start" stroke="#383838" stroke-width="0.6">5</text>
<text x="1457.3" y="604.8" font-size="22" font-weight="bold" fill="#ff0000" text-anchor="start">5</text>
<text x="1164.6" y="626.1" font-size="26" font-weight="bold" fill="#ffc000" text-anchor="end">integrin binding</text>
<rect x="1295.00" y="614.60" width="159.20" height="12.60" fill="#000"/>
<rect x="1304.20" y="617.00" width="139.80" height="13.00" fill="#ffc000"/>
<text x="1460.1" y="631.2" font-size="22" font-weight="normal" fill="#383838" text-anchor="start" stroke="#383838" stroke-width="0.6">8</text>
<text x="1482.4" y="631.4" font-size="22" font-weight="bold" fill="#ff0000" text-anchor="start">9</text>
<text x="1164.6" y="652.8" font-size="26" font-weight="bold" fill="#ffc000" text-anchor="end">PDGF binding</text>
<rect x="1313.70" y="641.20" width="87.30" height="12.60" fill="#000"/>
<rect x="1312.60" y="643.60" width="88.40" height="13.00" fill="#ffc000"/>
<text x="1406.1" y="657.8" font-size="22" font-weight="normal" fill="#383838" text-anchor="start" stroke="#383838" stroke-width="0.6">4</text>
<text x="1430.0" y="658.0" font-size="22" font-weight="bold" fill="#ff0000" text-anchor="start">4</text>
<text x="1164.6" y="679.5" font-size="26" font-weight="bold" fill="#ffc000" text-anchor="end">ECM structural constituent</text>
<rect x="1317.60" y="667.80" width="104.30" height="12.60" fill="#000"/>
<rect x="1316.00" y="670.20" width="105.90" height="13.00" fill="#ffc000"/>
<text x="1427.3" y="684.4" font-size="22" font-weight="normal" fill="#383838" text-anchor="start" stroke="#383838" stroke-width="0.6">6</text>
<text x="1455.7" y="684.6" font-size="22" font-weight="bold" fill="#ff0000" text-anchor="start">6</text>
<text x="1164.6" y="706.1" font-size="26" font-weight="bold" fill="#ffc000" text-anchor="end">oxidoreductase activity</text>
<rect x="1324.00" y="694.40" width="66.00" height="12.60" fill="#000"/>
<rect x="1355.40" y="696.80" width="2.60" height="13.00" fill="#ffc000"/>
<text x="1396.5" y="711.0" font-size="22" font-weight="normal" fill="#383838" text-anchor="start" stroke="#383838" stroke-width="0.6">0</text>
<text x="1422.7" y="711.2" font-size="22" font-weight="bold" fill="#ff0000" text-anchor="start">3</text>
<text x="1164.6" y="732.8" font-size="26" font-weight="bold" fill="#ffc000" text-anchor="end">copper ion binding</text>
<rect x="1325.60" y="721.00" width="86.10" height="12.60" fill="#000"/>
<rect x="1355.40" y="723.40" width="2.60" height="13.00" fill="#ffc000"/>
<text x="1425.9" y="737.6" font-size="22" font-weight="bold" fill="#000" text-anchor="start">0</text>
<text x="1468.3" y="737.8" font-size="22" font-weight="bold" fill="#ff0000" text-anchor="start">5</text>
<line x1="1358.20" y1="207.00" x2="1358.20" y2="746.00" stroke="#000" stroke-width="2.4"/>
<line x1="1143.80" y1="739.20" x2="1786.00" y2="739.20" stroke="#000" stroke-width="2.6"/>
<line x1="1144.70" y1="738.00" x2="1144.70" y2="746.00" stroke="#000" stroke-width="2.4"/>
<text x="1144.7" y="772.8" font-size="21" font-weight="bold" fill="#000" text-anchor="middle">-20</text>
<line x1="1251.35" y1="738.00" x2="1251.35" y2="746.00" stroke="#000" stroke-width="2.4"/>
<text x="1251.3" y="772.8" font-size="21" font-weight="bold" fill="#000" text-anchor="middle">-10</text>
<line x1="1358.00" y1="738.00" x2="1358.00" y2="746.00" stroke="#000" stroke-width="2.4"/>
<text x="1358.0" y="772.8" font-size="21" font-weight="bold" fill="#000" text-anchor="middle">0</text>
<line x1="1464.65" y1="738.00" x2="1464.65" y2="746.00" stroke="#000" stroke-width="2.4"/>
<text x="1464.7" y="772.8" font-size="21" font-weight="bold" fill="#000" text-anchor="middle">10</text>
<line x1="1571.30" y1="738.00" x2="1571.30" y2="746.00" stroke="#000" stroke-width="2.4"/>
<text x="1571.3" y="772.8" font-size="21" font-weight="bold" fill="#000" text-anchor="middle">20</text>
<line x1="1677.95" y1="738.00" x2="1677.95" y2="746.00" stroke="#000" stroke-width="2.4"/>
<text x="1678.0" y="772.8" font-size="21" font-weight="bold" fill="#000" text-anchor="middle">30</text>
<line x1="1784.60" y1="738.00" x2="1784.60" y2="746.00" stroke="#000" stroke-width="2.4"/>
<text x="1784.6" y="772.8" font-size="21" font-weight="bold" fill="#000" text-anchor="middle">40</text>
<text x="1246.0" y="799.6" font-size="26" font-weight="bold" fill="#000" text-anchor="middle">-log10(pValue)</text>
<text x="1499.5" y="799.6" font-size="26" font-weight="bold" fill="#000" text-anchor="middle">Protein count</text>
<path d="M1116.5,737.3 h4" stroke="#000" stroke-width="1.2"/>
<rect x="1637.00" y="212.80" width="16.20" height="10.60" fill="#ff0000"/>
<text x="1662.5" y="227.3" font-size="26" font-weight="bold" fill="#ff0000" text-anchor="start" textLength="223" lengthAdjust="spacingAndGlyphs">KEGG_PATHWAY</text>
<rect x="1637.00" y="240.90" width="16.20" height="10.60" fill="#00b050"/>
<text x="1662.5" y="253.1" font-size="26" font-weight="bold" fill="#00b050" text-anchor="start">Biological process</text>
<rect x="1637.00" y="269.70" width="16.20" height="10.60" fill="#7030a0"/>
<text x="1662.5" y="280.5" font-size="26" font-weight="bold" fill="#7030a0" text-anchor="start">Cellular component</text>
<rect x="1637.00" y="294.10" width="16.20" height="10.60" fill="#ffc000"/>
<text x="1662.5" y="307.0" font-size="26" font-weight="bold" fill="#7030a0" text-anchor="start">Molecular function</text>
<path d="M2.00,982.90 H569.70 L571.70,984.90 V1960.40 L569.70,1962.40 H2.00 L0.00,1960.40 V984.90 Z M6.80,989.70 V1955.60 H564.90 V989.70 Z" fill="#000" fill-rule="evenodd"/>
<text transform="translate(34.5,1062.5) scale(0.92,1)" font-size="48" font-weight="bold">C</text>
<rect x="40.00" y="1148.00" width="357.50" height="54.00" fill="#f5c2c2"/>
<rect x="397.50" y="1148.00" width="143.50" height="54.00" fill="#ace6ee"/>
<line x1="37.60" y1="1147.90" x2="543.30" y2="1147.90" stroke="#3c3c3c" stroke-width="4.4"/>
<line x1="37.60" y1="1202.60" x2="543.30" y2="1202.60" stroke="#3c3c3c" stroke-width="4.4"/>
<line x1="37.60" y1="1305.50" x2="543.30" y2="1305.50" stroke="#3c3c3c" stroke-width="5.0"/>
<line x1="36.60" y1="1746.20" x2="543.50" y2="1746.20" stroke="#3c3c3c" stroke-width="4.4"/>
<line x1="40.20" y1="1145.70" x2="40.20" y2="1748.00" stroke="#3c3c3c" stroke-width="4.4"/>
<line x1="397.80" y1="1145.70" x2="397.80" y2="1748.00" stroke="#3c3c3c" stroke-width="4.4"/>
<line x1="541.00" y1="1145.70" x2="541.00" y2="1748.00" stroke="#3c3c3c" stroke-width="4.4"/>
<line x1="155.50" y1="1202.60" x2="155.50" y2="1748.00" stroke="#3c3c3c" stroke-width="4.4"/>
<line x1="275.40" y1="1202.60" x2="275.40" y2="1748.00" stroke="#3c3c3c" stroke-width="4.4"/>
<text x="193.5" y="1178.9" font-size="20" font-weight="bold" fill="#e3122b" text-anchor="middle">Hypoxia</text>
<text x="461.6" y="1180.5" font-size="20" font-weight="bold" fill="#0e1f8c" text-anchor="middle">Normoxia</text>
<text x="96.3" y="1244.9" font-size="20" font-weight="bold" fill="#0800e0" text-anchor="middle">ECM-</text>
<text x="93.5" y="1268.8" font-size="20" font-weight="bold" fill="#0800e0" text-anchor="middle">receptor</text>
<text x="95.8" y="1292.9" font-size="20" font-weight="bold" fill="#0800e0" text-anchor="middle">interaction</text>
<text x="217.9" y="1260.8" font-size="20" font-weight="bold" fill="#0800e0" text-anchor="middle">Focal</text>
<text x="220.7" y="1284.7" font-size="20" font-weight="bold" fill="#0800e0" text-anchor="middle">adhesion</text>
<text x="330.4" y="1244.0" font-size="20" font-weight="bold" fill="#0800e0" text-anchor="middle">PI3K-Akt</text>
<text x="330.4" y="1267.6" font-size="20" font-weight="bold" fill="#0800e0" text-anchor="middle">signaling</text>
<text x="332.9" y="1291.5" font-size="20" font-weight="bold" fill="#0800e0" text-anchor="middle">pathway</text>
<text x="460.7" y="1247.0" font-size="20" font-weight="bold" fill="#0800e0" text-anchor="middle">PI3K-Akt</text>
<text x="460.2" y="1270.4" font-size="20" font-weight="bold" fill="#0800e0" text-anchor="middle">signaling</text>
<text x="463.0" y="1294.3" font-size="20" font-weight="bold" fill="#0800e0" text-anchor="middle">pathway</text>
<text x="49.8" y="1333.2" font-size="20" font-weight="bold" fill="#ec0000" text-anchor="start">COL1A1</text>
<text x="49.8" y="1357.5" font-size="20" font-weight="bold" fill="#ec0000" text-anchor="start">COL1A2</text>
<text x="49.8" y="1381.7" font-size="20" font-weight="bold" fill="#ec0000" text-anchor="start">COL5A1</text>
<text x="49.8" y="1406.0" font-size="20" font-weight="bold" fill="#ec0000" text-anchor="start">COL6A1</text>
<text x="49.8" y="1430.3" font-size="20" font-weight="bold" fill="#ec0000" text-anchor="start">COL6A2</text>
<text x="49.8" y="1454.5" font-size="20" font-weight="bold" fill="#ec0000" text-anchor="start">COL6A3</text>
<text x="49.8" y="1478.8" font-size="20" font-weight="bold" fill="#ec0000" text-anchor="start">FN1</text>
<text x="49.8" y="1503.1" font-size="20" font-weight="bold" fill="#000" text-anchor="start">HSPG2</text>
<text x="49.8" y="1527.4" font-size="20" font-weight="bold" fill="#ec0000" text-anchor="start">ITGAV</text>
<text x="49.8" y="1551.6" font-size="20" font-weight="bold" fill="#ec0000" text-anchor="start">LAMC1</text>
<text x="49.8" y="1575.9" font-size="20" font-weight="bold" fill="#ec0000" text-anchor="start">TNC</text>
<text x="170.0" y="1333.2" font-size="20" font-weight="bold" fill="#ec0000" text-anchor="start">COL1A1</text>
<text x="170.0" y="1357.5" font-size="20" font-weight="bold" fill="#ec0000" text-anchor="start">COL1A2</text>
<text x="170.0" y="1381.7" font-size="20" font-weight="bold" fill="#ec0000" text-anchor="start">COL5A1</text>
<text x="170.0" y="1406.0" font-size="20" font-weight="bold" fill="#ec0000" text-anchor="start">COL6A1</text>
<text x="170.0" y="1430.3" font-size="20" font-weight="bold" fill="#ec0000" text-anchor="start">COL6A2</text>
<text x="170.0" y="1454.5" font-size="20" font-weight="bold" fill="#ec0000" text-anchor="start">COL6A3</text>
<text x="170.0" y="1478.8" font-size="20" font-weight="bold" fill="#ec0000" text-anchor="start">EGFR</text>
<text x="170.0" y="1503.1" font-size="20" font-weight="bold" fill="#000" text-anchor="start">FLNC</text>
<text x="170.0" y="1527.4" font-size="20" font-weight="bold" fill="#ec0000" text-anchor="start">FN1</text>
<text x="170.0" y="1551.6" font-size="20" font-weight="bold" fill="#ec0000" text-anchor="start">ITGAV</text>
<text x="170.0" y="1575.9" font-size="20" font-weight="bold" fill="#ec0000" text-anchor="start">LAMC1</text>
<text x="170.0" y="1600.2" font-size="20" font-weight="bold" fill="#ec0000" text-anchor="start">TNC</text>
<text x="287.3" y="1334.6" font-size="20" font-weight="bold" fill="#000" text-anchor="start">CDK6</text>
<text x="287.3" y="1358.9" font-size="20" font-weight="bold" fill="#000" text-anchor="start">COL1A1</text>
<text x="287.3" y="1383.1" font-size="20" font-weight="bold" fill="#000" text-anchor="start">COL1A2</text>
<text x="287.3" y="1407.4" font-size="20" font-weight="bold" fill="#000" text-anchor="start">COL5A1</text>
<text x="287.3" y="1431.7" font-size="20" font-weight="bold" fill="#000" text-anchor="start">COL6A1</text>
<text x="287.3" y="1455.9" font-size="20" font-weight="bold" fill="#000" text-anchor="start">COL6A2</text>
<text x="287.3" y="1480.2" font-size="20" font-weight="bold" fill="#000" text-anchor="start">COL6A3</text>
<text x="287.3" y="1504.5" font-size="20" font-weight="bold" fill="#000" text-anchor="start">EGFR</text>
<text x="287.3" y="1528.8" font-size="20" font-weight="bold" fill="#000" text-anchor="start">FGF1</text>
<text x="287.3" y="1553.0" font-size="20" font-weight="bold" fill="#000" text-anchor="start">FN1</text>
<text x="287.3" y="1577.3" font-size="20" font-weight="bold" fill="#000" text-anchor="start">GNG10</text>
<text x="287.3" y="1601.6" font-size="20" font-weight="bold" fill="#000" text-anchor="start">GNG5</text>
<text x="287.3" y="1625.8" font-size="20" font-weight="bold" fill="#000" text-anchor="start">HSP90B1</text>
<text x="287.3" y="1650.1" font-size="20" font-weight="bold" fill="#000" text-anchor="start">ITGAV</text>
<text x="287.3" y="1674.4" font-size="20" font-weight="bold" fill="#000" text-anchor="start">LAMC1</text>
<text x="287.3" y="1698.6" font-size="20" font-weight="bold" fill="#000" text-anchor="start">TNC</text>
<text x="414.7" y="1333.2" font-size="20" font-weight="bold" fill="#f23636" text-anchor="start">COL1A1</text>
<text x="414.7" y="1357.5" font-size="20" font-weight="bold" fill="#f23636" text-anchor="start">COL1A2</text>
<text x="414.7" y="1381.7" font-size="20" font-weight="bold" fill="#f23636" text-anchor="start">COL5A1</text>
<text x="414.7" y="1406.0" font-size="20" font-weight="bold" fill="#f23636" text-anchor="start">COL6A1</text>
<text x="414.7" y="1430.3" font-size="20" font-weight="bold" fill="#f23636" text-anchor="start">COL6A2</text>
<text x="414.7" y="1454.5" font-size="20" font-weight="bold" fill="#f23636" text-anchor="start">COL6A3</text>
<text x="414.7" y="1478.8" font-size="20" font-weight="bold" fill="#f23636" text-anchor="start">EGFR</text>
<text x="414.7" y="1503.1" font-size="20" font-weight="bold" fill="#f23636" text-anchor="start">FN1</text>
<text x="414.7" y="1527.4" font-size="20" font-weight="bold" fill="#f23636" text-anchor="start">GNG5</text>
<text x="414.7" y="1551.6" font-size="20" font-weight="bold" fill="#f23636" text-anchor="start">HSP90B1</text>
<text x="414.7" y="1575.9" font-size="20" font-weight="bold" fill="#f23636" text-anchor="start">ITGAV</text>
<text x="414.7" y="1600.2" font-size="20" font-weight="bold" fill="#f23636" text-anchor="start">LAMC1</text>
<text x="414.7" y="1624.4" font-size="20" font-weight="bold" fill="#f23636" text-anchor="start">TNC</text>
<path d="M598.90,983.00 H1252.60 L1254.60,985.00 V1961.40 L1252.60,1963.40 H598.90 L596.90,1961.40 V985.00 Z M603.70,989.80 V1956.60 H1247.80 V989.80 Z" fill="#000" fill-rule="evenodd"/>
<path d="M1270.20,982.90 H1968.60 L1970.60,984.90 V1961.20 L1968.60,1963.20 H1270.20 L1268.20,1961.20 V984.90 Z M1275.00,989.70 V1956.40 H1963.80 V989.70 Z" fill="#000" fill-rule="evenodd"/>
<text x="623.2" y="1062.1" font-size="48" font-weight="bold" fill="#000" text-anchor="start">D</text>
<text x="935.5" y="1033.2" font-size="26" font-weight="bold" fill="#000" text-anchor="middle">Impact of hypoxia on proteins</text>
<text x="939.3" y="1059.3" font-size="26" font-weight="bold" fill="#000" text-anchor="middle">involved in EGFR/PI3K/AKT pathways</text>
<text x="931.0" y="1085.0" font-size="26" font-weight="bold" fill="#e8112d" text-anchor="middle">(shCtrl condition)</text>
<rect x="745.20" y="1119.30" width="16.10" height="19.10" fill="#000"/>
<text transform="translate(765.30,1135.60) scale(1.066,1)" font-size="24.5" font-weight="bold" fill="#000">shCtrl 20% O<tspan font-size="15.7" dy="7.6">2</tspan><tspan dy="-7.6"></tspan></text>
<rect x="957.4" y="1121.4" width="13.1" height="15.1" fill="#fff" stroke="#000" stroke-width="2"/>
<text transform="translate(975.00,1135.60) scale(1.072,1)" font-size="24.5" font-weight="bold" fill="#000">shCtrl 1% O<tspan font-size="15.7" dy="7.6">2</tspan><tspan dy="-7.6"></tspan></text>
<line x1="702.00" y1="1138.70" x2="702.00" y2="1363.90" stroke="#a0a0a0" stroke-width="1.3"/>
<line x1="698.00" y1="1363.90" x2="1203.50" y2="1363.90" stroke="#a0a0a0" stroke-width="1.3"/>
<line x1="698.00" y1="1363.90" x2="702.00" y2="1363.90" stroke="#a0a0a0" stroke-width="1.2"/>
<text x="692.7" y="1376.1" font-size="26" font-weight="bold" fill="#000" text-anchor="end">0</text>
<line x1="698.00" y1="1335.75" x2="702.00" y2="1335.75" stroke="#a0a0a0" stroke-width="1.2"/>
<line x1="698.00" y1="1307.60" x2="702.00" y2="1307.60" stroke="#a0a0a0" stroke-width="1.2"/>
<text x="692.7" y="1319.8" font-size="26" font-weight="bold" fill="#000" text-anchor="end">40</text>
<line x1="698.00" y1="1279.45" x2="702.00" y2="1279.45" stroke="#a0a0a0" stroke-width="1.2"/>
<line x1="698.00" y1="1251.30" x2="702.00" y2="1251.30" stroke="#a0a0a0" stroke-width="1.2"/>
<text x="692.7" y="1263.5" font-size="26" font-weight="bold" fill="#000" text-anchor="end">80</text>
<line x1="698.00" y1="1223.15" x2="702.00" y2="1223.15" stroke="#a0a0a0" stroke-width="1.2"/>
<line x1="698.00" y1="1195.00" x2="702.00" y2="1195.00" stroke="#a0a0a0" stroke-width="1.2"/>
<text x="692.7" y="1207.2" font-size="26" font-weight="bold" fill="#000" text-anchor="end">120</text>
<line x1="698.00" y1="1166.85" x2="702.00" y2="1166.85" stroke="#a0a0a0" stroke-width="1.2"/>
<line x1="698.00" y1="1138.70" x2="702.00" y2="1138.70" stroke="#a0a0a0" stroke-width="1.2"/>
<text x="692.7" y="1150.9" font-size="26" font-weight="bold" fill="#000" text-anchor="end">160</text>
<line x1="702.00" y1="1363.90" x2="702.00" y2="1367.90" stroke="#a0a0a0" stroke-width="1.1"/>
<line x1="731.50" y1="1363.90" x2="731.50" y2="1367.90" stroke="#a0a0a0" stroke-width="1.1"/>
<line x1="761.00" y1="1363.90" x2="761.00" y2="1367.90" stroke="#a0a0a0" stroke-width="1.1"/>
<line x1="790.50" y1="1363.90" x2="790.50" y2="1367.90" stroke="#a0a0a0" stroke-width="1.1"/>
<line x1="820.00" y1="1363.90" x2="820.00" y2="1367.90" stroke="#a0a0a0" stroke-width="1.1"/>
<line x1="849.50" y1="1363.90" x2="849.50" y2="1367.90" stroke="#a0a0a0" stroke-width="1.1"/>
<line x1="879.00" y1="1363.90" x2="879.00" y2="1367.90" stroke="#a0a0a0" stroke-width="1.1"/>
<line x1="908.50" y1="1363.90" x2="908.50" y2="1367.90" stroke="#a0a0a0" stroke-width="1.1"/>
<line x1="938.00" y1="1363.90" x2="938.00" y2="1367.90" stroke="#a0a0a0" stroke-width="1.1"/>
<line x1="967.50" y1="1363.90" x2="967.50" y2="1367.90" stroke="#a0a0a0" stroke-width="1.1"/>
<line x1="997.00" y1="1363.90" x2="997.00" y2="1367.90" stroke="#a0a0a0" stroke-width="1.1"/>
<line x1="1026.50" y1="1363.90" x2="1026.50" y2="1367.90" stroke="#a0a0a0" stroke-width="1.1"/>
<line x1="1056.00" y1="1363.90" x2="1056.00" y2="1367.90" stroke="#a0a0a0" stroke-width="1.1"/>
<line x1="1085.50" y1="1363.90" x2="1085.50" y2="1367.90" stroke="#a0a0a0" stroke-width="1.1"/>
<line x1="1115.00" y1="1363.90" x2="1115.00" y2="1367.90" stroke="#a0a0a0" stroke-width="1.1"/>
<line x1="1144.50" y1="1363.90" x2="1144.50" y2="1367.90" stroke="#a0a0a0" stroke-width="1.1"/>
<line x1="1174.00" y1="1363.90" x2="1174.00" y2="1367.90" stroke="#a0a0a0" stroke-width="1.1"/>
<line x1="1203.50" y1="1363.90" x2="1203.50" y2="1367.90" stroke="#a0a0a0" stroke-width="1.1"/>
<rect x="708.30" y="1205.56" width="9.40" height="158.34" fill="#000"/>
<rect x="718.30" y="1208.41" width="7.10" height="155.49" fill="#fff" stroke="#1a1a1a" stroke-width="1.2"/>
<line x1="713.00" y1="1205.56" x2="713.00" y2="1204.43" stroke="#000" stroke-width="1.3"/>
<rect x="711.00" y="1203.63" width="4.00" height="1.80" fill="#000"/>
<line x1="721.85" y1="1207.81" x2="721.85" y2="1205.70" stroke="#000" stroke-width="1.3"/>
<rect x="719.85" y="1204.90" width="4.00" height="1.80" fill="#000"/>
<text transform="translate(724.00,1372.20) scale(1.060,1) rotate(-90)" font-size="25.6" font-weight="bold" fill="#000" text-anchor="end">CDK6</text>
<rect x="737.80" y="1202.04" width="9.40" height="161.86" fill="#000"/>
<rect x="747.80" y="1203.76" width="7.10" height="160.14" fill="#fff" stroke="#1a1a1a" stroke-width="1.2"/>
<line x1="742.50" y1="1202.04" x2="742.50" y2="1198.52" stroke="#000" stroke-width="1.3"/>
<rect x="740.50" y="1197.72" width="4.00" height="1.80" fill="#000"/>
<line x1="751.35" y1="1203.16" x2="751.35" y2="1202.04" stroke="#000" stroke-width="1.3"/>
<rect x="749.35" y="1201.24" width="4.00" height="1.80" fill="#000"/>
<text transform="translate(753.78,1372.20) scale(1.060,1) rotate(-90)" font-size="25.6" font-weight="bold" fill="#000" text-anchor="end">COL1A1</text>
<rect x="767.30" y="1205.84" width="9.40" height="158.06" fill="#000"/>
<rect x="777.30" y="1188.56" width="7.10" height="175.34" fill="#fff" stroke="#1a1a1a" stroke-width="1.2"/>
<line x1="772.00" y1="1205.84" x2="772.00" y2="1202.32" stroke="#000" stroke-width="1.3"/>
<rect x="770.00" y="1201.52" width="4.00" height="1.80" fill="#000"/>
<line x1="780.85" y1="1187.96" x2="780.85" y2="1186.84" stroke="#000" stroke-width="1.3"/>
<rect x="778.85" y="1186.04" width="4.00" height="1.80" fill="#000"/>
<text transform="translate(783.56,1372.20) scale(1.060,1) rotate(-90)" font-size="25.6" font-weight="bold" fill="#000" text-anchor="end">COL1A2</text>
<rect x="796.80" y="1199.79" width="9.40" height="164.11" fill="#000"/>
<rect x="806.80" y="1174.77" width="7.10" height="189.13" fill="#fff" stroke="#1a1a1a" stroke-width="1.2"/>
<line x1="801.50" y1="1199.79" x2="801.50" y2="1198.66" stroke="#000" stroke-width="1.3"/>
<rect x="799.50" y="1197.86" width="4.00" height="1.80" fill="#000"/>
<line x1="810.35" y1="1174.17" x2="810.35" y2="1172.06" stroke="#000" stroke-width="1.3"/>
<rect x="808.35" y="1171.26" width="4.00" height="1.80" fill="#000"/>
<text transform="translate(813.34,1372.20) scale(1.060,1) rotate(-90)" font-size="25.6" font-weight="bold" fill="#000" text-anchor="end">COL5A1</text>
<rect x="826.30" y="1195.42" width="9.40" height="168.48" fill="#000"/>
<rect x="836.30" y="1191.66" width="7.10" height="172.24" fill="#fff" stroke="#1a1a1a" stroke-width="1.2"/>
<line x1="831.00" y1="1195.42" x2="831.00" y2="1193.31" stroke="#000" stroke-width="1.3"/>
<rect x="829.00" y="1192.51" width="4.00" height="1.80" fill="#000"/>
<line x1="839.85" y1="1191.06" x2="839.85" y2="1189.37" stroke="#000" stroke-width="1.3"/>
<rect x="837.85" y="1188.57" width="4.00" height="1.80" fill="#000"/>
<text transform="translate(843.12,1372.20) scale(1.060,1) rotate(-90)" font-size="25.6" font-weight="bold" fill="#000" text-anchor="end">COL6A1</text>
<rect x="855.80" y="1196.41" width="9.40" height="167.49" fill="#000"/>
<rect x="865.80" y="1187.58" width="7.10" height="176.32" fill="#fff" stroke="#1a1a1a" stroke-width="1.2"/>
<line x1="860.50" y1="1196.41" x2="860.50" y2="1195.56" stroke="#000" stroke-width="1.3"/>
<rect x="858.50" y="1194.76" width="4.00" height="1.80" fill="#000"/>
<line x1="869.35" y1="1186.98" x2="869.35" y2="1185.85" stroke="#000" stroke-width="1.3"/>
<rect x="867.35" y="1185.05" width="4.00" height="1.80" fill="#000"/>
<text transform="translate(872.90,1372.20) scale(1.060,1) rotate(-90)" font-size="25.6" font-weight="bold" fill="#000" text-anchor="end">COL6A2</text>
<rect x="885.30" y="1197.11" width="9.40" height="166.79" fill="#000"/>
<rect x="895.30" y="1186.59" width="7.10" height="177.31" fill="#fff" stroke="#1a1a1a" stroke-width="1.2"/>
<line x1="890.00" y1="1197.11" x2="890.00" y2="1196.27" stroke="#000" stroke-width="1.3"/>
<rect x="888.00" y="1195.47" width="4.00" height="1.80" fill="#000"/>
<line x1="898.85" y1="1185.99" x2="898.85" y2="1184.87" stroke="#000" stroke-width="1.3"/>
<rect x="896.85" y="1184.07" width="4.00" height="1.80" fill="#000"/>
<text transform="translate(902.68,1372.20) scale(1.060,1) rotate(-90)" font-size="25.6" font-weight="bold" fill="#000" text-anchor="end">COL6A3</text>
<rect x="914.80" y="1209.50" width="9.40" height="154.40" fill="#000"/>
<rect x="924.80" y="1199.96" width="7.10" height="163.94" fill="#fff" stroke="#1a1a1a" stroke-width="1.2"/>
<line x1="919.50" y1="1209.50" x2="919.50" y2="1206.68" stroke="#000" stroke-width="1.3"/>
<rect x="917.50" y="1205.88" width="4.00" height="1.80" fill="#000"/>
<line x1="928.35" y1="1199.36" x2="928.35" y2="1197.96" stroke="#000" stroke-width="1.3"/>
<rect x="926.35" y="1197.16" width="4.00" height="1.80" fill="#000"/>
<text transform="translate(932.46,1372.20) scale(1.060,1) rotate(-90)" font-size="25.6" font-weight="bold" fill="#000" text-anchor="end">EGFR</text>
<rect x="944.30" y="1223.01" width="9.40" height="140.89" fill="#000"/>
<rect x="954.30" y="1195.04" width="7.10" height="168.86" fill="#fff" stroke="#1a1a1a" stroke-width="1.2"/>
<line x1="949.00" y1="1223.01" x2="949.00" y2="1218.79" stroke="#000" stroke-width="1.3"/>
<rect x="947.00" y="1217.99" width="4.00" height="1.80" fill="#000"/>
<line x1="957.85" y1="1194.44" x2="957.85" y2="1188.81" stroke="#000" stroke-width="1.3"/>
<rect x="955.85" y="1188.01" width="4.00" height="1.80" fill="#000"/>
<text transform="translate(962.24,1372.20) scale(1.060,1) rotate(-90)" font-size="25.6" font-weight="bold" fill="#000" text-anchor="end">FGF1</text>
<rect x="973.80" y="1189.65" width="9.40" height="174.25" fill="#000"/>
<rect x="983.80" y="1165.62" width="7.10" height="198.28" fill="#fff" stroke="#1a1a1a" stroke-width="1.2"/>
<line x1="978.50" y1="1189.65" x2="978.50" y2="1188.24" stroke="#000" stroke-width="1.3"/>
<rect x="976.50" y="1187.44" width="4.00" height="1.80" fill="#000"/>
<line x1="987.35" y1="1165.02" x2="987.35" y2="1162.21" stroke="#000" stroke-width="1.3"/>
<rect x="985.35" y="1161.41" width="4.00" height="1.80" fill="#000"/>
<text transform="translate(992.02,1372.20) scale(1.060,1) rotate(-90)" font-size="25.6" font-weight="bold" fill="#000" text-anchor="end">FN1</text>
<rect x="1003.30" y="1212.88" width="9.40" height="151.02" fill="#000"/>
<rect x="1013.30" y="1202.07" width="7.10" height="161.83" fill="#fff" stroke="#1a1a1a" stroke-width="1.2"/>
<line x1="1008.00" y1="1212.88" x2="1008.00" y2="1212.03" stroke="#000" stroke-width="1.3"/>
<rect x="1006.00" y="1211.23" width="4.00" height="1.80" fill="#000"/>
<line x1="1016.85" y1="1201.47" x2="1016.85" y2="1198.66" stroke="#000" stroke-width="1.3"/>
<rect x="1014.85" y="1197.86" width="4.00" height="1.80" fill="#000"/>
<text transform="translate(1021.80,1372.20) scale(1.060,1) rotate(-90)" font-size="25.6" font-weight="bold" fill="#000" text-anchor="end">GNG10</text>
<rect x="1032.80" y="1210.48" width="9.40" height="153.42" fill="#000"/>
<rect x="1042.80" y="1201.23" width="7.10" height="162.67" fill="#fff" stroke="#1a1a1a" stroke-width="1.2"/>
<line x1="1037.50" y1="1210.48" x2="1037.50" y2="1204.85" stroke="#000" stroke-width="1.3"/>
<rect x="1035.50" y="1204.05" width="4.00" height="1.80" fill="#000"/>
<line x1="1046.35" y1="1200.63" x2="1046.35" y2="1195.00" stroke="#000" stroke-width="1.3"/>
<rect x="1044.35" y="1194.20" width="4.00" height="1.80" fill="#000"/>
<text transform="translate(1051.58,1372.20) scale(1.060,1) rotate(-90)" font-size="25.6" font-weight="bold" fill="#000" text-anchor="end">GNG5</text>
<rect x="1062.30" y="1201.47" width="9.40" height="162.43" fill="#000"/>
<rect x="1072.30" y="1191.94" width="7.10" height="171.96" fill="#fff" stroke="#1a1a1a" stroke-width="1.2"/>
<line x1="1067.00" y1="1201.47" x2="1067.00" y2="1199.79" stroke="#000" stroke-width="1.3"/>
<rect x="1065.00" y="1198.99" width="4.00" height="1.80" fill="#000"/>
<line x1="1075.85" y1="1191.34" x2="1075.85" y2="1188.53" stroke="#000" stroke-width="1.3"/>
<rect x="1073.85" y="1187.73" width="4.00" height="1.80" fill="#000"/>
<text transform="translate(1081.36,1372.20) scale(1.060,1) rotate(-90)" font-size="25.6" font-weight="bold" fill="#000" text-anchor="end">HSP90B1</text>
<rect x="1091.80" y="1205.56" width="9.40" height="158.34" fill="#000"/>
<rect x="1101.80" y="1207.14" width="7.10" height="156.76" fill="#fff" stroke="#1a1a1a" stroke-width="1.2"/>
<line x1="1096.50" y1="1205.56" x2="1096.50" y2="1204.71" stroke="#000" stroke-width="1.3"/>
<rect x="1094.50" y="1203.91" width="4.00" height="1.80" fill="#000"/>
<line x1="1105.35" y1="1206.54" x2="1105.35" y2="1205.42" stroke="#000" stroke-width="1.3"/>
<rect x="1103.35" y="1204.62" width="4.00" height="1.80" fill="#000"/>
<text transform="translate(1111.14,1372.20) scale(1.060,1) rotate(-90)" font-size="25.6" font-weight="bold" fill="#000" text-anchor="end">ITGAV</text>
<rect x="1121.30" y="1209.92" width="9.40" height="153.98" fill="#000"/>
<rect x="1131.30" y="1199.96" width="7.10" height="163.94" fill="#fff" stroke="#1a1a1a" stroke-width="1.2"/>
<line x1="1126.00" y1="1209.92" x2="1126.00" y2="1208.79" stroke="#000" stroke-width="1.3"/>
<rect x="1124.00" y="1207.99" width="4.00" height="1.80" fill="#000"/>
<line x1="1134.85" y1="1199.36" x2="1134.85" y2="1197.25" stroke="#000" stroke-width="1.3"/>
<rect x="1132.85" y="1196.45" width="4.00" height="1.80" fill="#000"/>
<text transform="translate(1140.92,1372.20) scale(1.060,1) rotate(-90)" font-size="25.6" font-weight="bold" fill="#000" text-anchor="end">LAMC1</text>
<rect x="1150.80" y="1205.56" width="9.40" height="158.34" fill="#000"/>
<rect x="1160.80" y="1195.32" width="7.10" height="168.58" fill="#fff" stroke="#1a1a1a" stroke-width="1.2"/>
<line x1="1155.50" y1="1205.56" x2="1155.50" y2="1203.45" stroke="#000" stroke-width="1.3"/>
<rect x="1153.50" y="1202.65" width="4.00" height="1.80" fill="#000"/>
<line x1="1164.35" y1="1194.72" x2="1164.35" y2="1192.61" stroke="#000" stroke-width="1.3"/>
<rect x="1162.35" y="1191.81" width="4.00" height="1.80" fill="#000"/>
<text transform="translate(1170.70,1372.20) scale(1.060,1) rotate(-90)" font-size="25.6" font-weight="bold" fill="#000" text-anchor="end">TNC</text>
<rect x="1180.30" y="1207.25" width="9.40" height="156.65" fill="#000"/>
<rect x="1190.30" y="1182.51" width="7.10" height="181.39" fill="#fff" stroke="#1a1a1a" stroke-width="1.2"/>
<line x1="1185.00" y1="1207.25" x2="1185.00" y2="1204.43" stroke="#000" stroke-width="1.3"/>
<rect x="1183.00" y="1203.63" width="4.00" height="1.80" fill="#000"/>
<line x1="1193.85" y1="1181.91" x2="1193.85" y2="1178.39" stroke="#000" stroke-width="1.3"/>
<rect x="1191.85" y="1177.59" width="4.00" height="1.80" fill="#000"/>
<text transform="translate(1200.48,1372.20) scale(1.060,1) rotate(-90)" font-size="25.6" font-weight="bold" fill="#000" text-anchor="end">HSPG2</text>
<text x="778.5" y="1182.2" font-size="46.5" font-weight="bold" text-anchor="middle">*</text>
<text x="810.3" y="1182.2" font-size="46.5" font-weight="bold" text-anchor="middle">*</text>
<text x="869.2" y="1182.2" font-size="46.5" font-weight="bold" text-anchor="middle">*</text>
<text x="900.5" y="1182.2" font-size="46.5" font-weight="bold" text-anchor="middle">*</text>
<text x="924.7" y="1204.3" font-size="46.5" font-weight="bold" text-anchor="middle">*</text>
<text x="956.7" y="1204.3" font-size="46.5" font-weight="bold" text-anchor="middle">*</text>
<text x="987.0" y="1176.9" font-size="46.5" font-weight="bold" text-anchor="middle">*</text>
<text x="1042.5" y="1203.1" font-size="46.5" font-weight="bold" text-anchor="middle">*</text>
<text x="1074.4" y="1203.1" font-size="46.5" font-weight="bold" text-anchor="middle">*</text>
<text x="1128.3" y="1191.5" font-size="46.5" font-weight="bold" text-anchor="middle">*</text>
<text x="1160.2" y="1191.5" font-size="46.5" font-weight="bold" text-anchor="middle">*</text>
<text x="1192.2" y="1191.5" font-size="46.5" font-weight="bold" text-anchor="middle">*</text>
<text transform="translate(645.40,1250.50) scale(0.970,1) rotate(-90)" font-size="26" font-weight="bold" fill="#000" text-anchor="middle">Protein levels</text>
<text x="951.6" y="1547.0" font-size="26" font-weight="bold" fill="#e8112d" text-anchor="middle">(shCEBPD condition)</text>
<rect x="718.40" y="1566.50" width="16.00" height="19.00" fill="#000"/>
<text transform="translate(739.80,1582.60) scale(1.045,1)" font-size="24.5" font-weight="bold" fill="#000">shCEBPD  20% O<tspan font-size="15.7" dy="7.6">2</tspan><tspan dy="-7.6"></tspan></text>
<rect x="984.2" y="1568.9" width="14.2" height="16.6" fill="#fff" stroke="#000" stroke-width="2.2"/>
<text transform="translate(1004.60,1582.60) scale(1.045,1)" font-size="24.5" font-weight="bold" fill="#000">shCEBPD  1% O<tspan font-size="15.7" dy="7.6">2</tspan><tspan dy="-7.6"></tspan></text>
<line x1="702.60" y1="1587.12" x2="702.60" y2="1813.20" stroke="#a0a0a0" stroke-width="1.3"/>
<line x1="698.60" y1="1813.20" x2="1204.30" y2="1813.20" stroke="#a0a0a0" stroke-width="1.3"/>
<line x1="698.60" y1="1813.20" x2="702.60" y2="1813.20" stroke="#a0a0a0" stroke-width="1.2"/>
<text x="692.7" y="1825.4" font-size="26" font-weight="bold" fill="#000" text-anchor="end">0</text>
<line x1="698.60" y1="1775.52" x2="702.60" y2="1775.52" stroke="#a0a0a0" stroke-width="1.2"/>
<text x="692.7" y="1787.7" font-size="26" font-weight="bold" fill="#000" text-anchor="end">20</text>
<line x1="698.60" y1="1737.84" x2="702.60" y2="1737.84" stroke="#a0a0a0" stroke-width="1.2"/>
<text x="692.7" y="1750.0" font-size="26" font-weight="bold" fill="#000" text-anchor="end">40</text>
<line x1="698.60" y1="1700.16" x2="702.60" y2="1700.16" stroke="#a0a0a0" stroke-width="1.2"/>
<text x="692.7" y="1712.4" font-size="26" font-weight="bold" fill="#000" text-anchor="end">60</text>
<line x1="698.60" y1="1662.48" x2="702.60" y2="1662.48" stroke="#a0a0a0" stroke-width="1.2"/>
<text x="692.7" y="1674.7" font-size="26" font-weight="bold" fill="#000" text-anchor="end">80</text>
<line x1="698.60" y1="1624.80" x2="702.60" y2="1624.80" stroke="#a0a0a0" stroke-width="1.2"/>
<text x="692.7" y="1637.0" font-size="26" font-weight="bold" fill="#000" text-anchor="end">100</text>
<line x1="698.60" y1="1587.12" x2="702.60" y2="1587.12" stroke="#a0a0a0" stroke-width="1.2"/>
<text x="692.7" y="1599.3" font-size="26" font-weight="bold" fill="#000" text-anchor="end">120</text>
<line x1="702.60" y1="1813.20" x2="702.60" y2="1817.20" stroke="#a0a0a0" stroke-width="1.1"/>
<line x1="732.11" y1="1813.20" x2="732.11" y2="1817.20" stroke="#a0a0a0" stroke-width="1.1"/>
<line x1="761.62" y1="1813.20" x2="761.62" y2="1817.20" stroke="#a0a0a0" stroke-width="1.1"/>
<line x1="791.14" y1="1813.20" x2="791.14" y2="1817.20" stroke="#a0a0a0" stroke-width="1.1"/>
<line x1="820.65" y1="1813.20" x2="820.65" y2="1817.20" stroke="#a0a0a0" stroke-width="1.1"/>
<line x1="850.16" y1="1813.20" x2="850.16" y2="1817.20" stroke="#a0a0a0" stroke-width="1.1"/>
<line x1="879.67" y1="1813.20" x2="879.67" y2="1817.20" stroke="#a0a0a0" stroke-width="1.1"/>
<line x1="909.18" y1="1813.20" x2="909.18" y2="1817.20" stroke="#a0a0a0" stroke-width="1.1"/>
<line x1="938.69" y1="1813.20" x2="938.69" y2="1817.20" stroke="#a0a0a0" stroke-width="1.1"/>
<line x1="968.21" y1="1813.20" x2="968.21" y2="1817.20" stroke="#a0a0a0" stroke-width="1.1"/>
<line x1="997.72" y1="1813.20" x2="997.72" y2="1817.20" stroke="#a0a0a0" stroke-width="1.1"/>
<line x1="1027.23" y1="1813.20" x2="1027.23" y2="1817.20" stroke="#a0a0a0" stroke-width="1.1"/>
<line x1="1056.74" y1="1813.20" x2="1056.74" y2="1817.20" stroke="#a0a0a0" stroke-width="1.1"/>
<line x1="1086.25" y1="1813.20" x2="1086.25" y2="1817.20" stroke="#a0a0a0" stroke-width="1.1"/>
<line x1="1115.76" y1="1813.20" x2="1115.76" y2="1817.20" stroke="#a0a0a0" stroke-width="1.1"/>
<line x1="1145.28" y1="1813.20" x2="1145.28" y2="1817.20" stroke="#a0a0a0" stroke-width="1.1"/>
<line x1="1174.79" y1="1813.20" x2="1174.79" y2="1817.20" stroke="#a0a0a0" stroke-width="1.1"/>
<line x1="1204.30" y1="1813.20" x2="1204.30" y2="1817.20" stroke="#a0a0a0" stroke-width="1.1"/>
<rect x="708.70" y="1635.35" width="9.00" height="177.85" fill="#000"/>
<rect x="718.30" y="1642.73" width="7.10" height="170.47" fill="#fff" stroke="#1a1a1a" stroke-width="1.2"/>
<line x1="713.20" y1="1635.35" x2="713.20" y2="1633.84" stroke="#000" stroke-width="1.3"/>
<rect x="711.20" y="1633.04" width="4.00" height="1.80" fill="#000"/>
<line x1="721.85" y1="1642.13" x2="721.85" y2="1637.42" stroke="#000" stroke-width="1.3"/>
<rect x="719.85" y="1636.62" width="4.00" height="1.80" fill="#000"/>
<text transform="translate(724.90,1820.00) scale(1.060,1) rotate(-90)" font-size="25.6" font-weight="bold" fill="#000" text-anchor="end">CDK6</text>
<rect x="738.21" y="1641.19" width="9.00" height="172.01" fill="#000"/>
<rect x="747.81" y="1645.18" width="7.10" height="168.02" fill="#fff" stroke="#1a1a1a" stroke-width="1.2"/>
<line x1="742.71" y1="1641.19" x2="742.71" y2="1635.54" stroke="#000" stroke-width="1.3"/>
<rect x="740.71" y="1634.74" width="4.00" height="1.80" fill="#000"/>
<line x1="751.36" y1="1644.58" x2="751.36" y2="1638.93" stroke="#000" stroke-width="1.3"/>
<rect x="749.36" y="1638.13" width="4.00" height="1.80" fill="#000"/>
<text transform="translate(754.60,1820.00) scale(1.060,1) rotate(-90)" font-size="25.6" font-weight="bold" fill="#000" text-anchor="end">COL1A1</text>
<rect x="767.72" y="1656.26" width="9.00" height="156.94" fill="#000"/>
<rect x="777.32" y="1640.10" width="7.10" height="173.10" fill="#fff" stroke="#1a1a1a" stroke-width="1.2"/>
<line x1="772.22" y1="1656.26" x2="772.22" y2="1654.38" stroke="#000" stroke-width="1.3"/>
<rect x="770.22" y="1653.58" width="4.00" height="1.80" fill="#000"/>
<line x1="780.87" y1="1639.50" x2="780.87" y2="1633.84" stroke="#000" stroke-width="1.3"/>
<rect x="778.87" y="1633.04" width="4.00" height="1.80" fill="#000"/>
<text transform="translate(784.30,1820.00) scale(1.060,1) rotate(-90)" font-size="25.6" font-weight="bold" fill="#000" text-anchor="end">COL1A2</text>
<rect x="797.24" y="1668.13" width="9.00" height="145.07" fill="#000"/>
<rect x="806.84" y="1645.18" width="7.10" height="168.02" fill="#fff" stroke="#1a1a1a" stroke-width="1.2"/>
<line x1="801.74" y1="1668.13" x2="801.74" y2="1666.25" stroke="#000" stroke-width="1.3"/>
<rect x="799.74" y="1665.45" width="4.00" height="1.80" fill="#000"/>
<line x1="810.39" y1="1644.58" x2="810.39" y2="1643.45" stroke="#000" stroke-width="1.3"/>
<rect x="808.39" y="1642.65" width="4.00" height="1.80" fill="#000"/>
<text transform="translate(814.00,1820.00) scale(1.060,1) rotate(-90)" font-size="25.6" font-weight="bold" fill="#000" text-anchor="end">COL5A1</text>
<rect x="826.75" y="1659.65" width="9.00" height="153.55" fill="#000"/>
<rect x="836.35" y="1642.36" width="7.10" height="170.84" fill="#fff" stroke="#1a1a1a" stroke-width="1.2"/>
<line x1="831.25" y1="1659.65" x2="831.25" y2="1658.52" stroke="#000" stroke-width="1.3"/>
<rect x="829.25" y="1657.72" width="4.00" height="1.80" fill="#000"/>
<line x1="839.90" y1="1641.76" x2="839.90" y2="1640.63" stroke="#000" stroke-width="1.3"/>
<rect x="837.90" y="1639.83" width="4.00" height="1.80" fill="#000"/>
<text transform="translate(843.70,1820.00) scale(1.060,1) rotate(-90)" font-size="25.6" font-weight="bold" fill="#000" text-anchor="end">COL6A1</text>
<rect x="856.26" y="1663.80" width="9.00" height="149.40" fill="#000"/>
<rect x="865.86" y="1641.79" width="7.10" height="171.41" fill="#fff" stroke="#1a1a1a" stroke-width="1.2"/>
<line x1="860.76" y1="1663.80" x2="860.76" y2="1662.67" stroke="#000" stroke-width="1.3"/>
<rect x="858.76" y="1661.87" width="4.00" height="1.80" fill="#000"/>
<line x1="869.41" y1="1641.19" x2="869.41" y2="1640.06" stroke="#000" stroke-width="1.3"/>
<rect x="867.41" y="1639.26" width="4.00" height="1.80" fill="#000"/>
<text transform="translate(873.40,1820.00) scale(1.060,1) rotate(-90)" font-size="25.6" font-weight="bold" fill="#000" text-anchor="end">COL6A2</text>
<rect x="885.77" y="1662.29" width="9.00" height="150.91" fill="#000"/>
<rect x="895.37" y="1642.73" width="7.10" height="170.47" fill="#fff" stroke="#1a1a1a" stroke-width="1.2"/>
<line x1="890.27" y1="1662.29" x2="890.27" y2="1661.16" stroke="#000" stroke-width="1.3"/>
<rect x="888.27" y="1660.36" width="4.00" height="1.80" fill="#000"/>
<line x1="898.92" y1="1642.13" x2="898.92" y2="1641.00" stroke="#000" stroke-width="1.3"/>
<rect x="896.92" y="1640.20" width="4.00" height="1.80" fill="#000"/>
<text transform="translate(903.10,1820.00) scale(1.060,1) rotate(-90)" font-size="25.6" font-weight="bold" fill="#000" text-anchor="end">COL6A3</text>
<rect x="915.28" y="1646.28" width="9.00" height="166.92" fill="#000"/>
<rect x="924.88" y="1636.70" width="7.10" height="176.50" fill="#fff" stroke="#1a1a1a" stroke-width="1.2"/>
<line x1="919.78" y1="1646.28" x2="919.78" y2="1640.63" stroke="#000" stroke-width="1.3"/>
<rect x="917.78" y="1639.83" width="4.00" height="1.80" fill="#000"/>
<line x1="928.43" y1="1636.10" x2="928.43" y2="1634.22" stroke="#000" stroke-width="1.3"/>
<rect x="926.43" y="1633.42" width="4.00" height="1.80" fill="#000"/>
<text transform="translate(932.80,1820.00) scale(1.060,1) rotate(-90)" font-size="25.6" font-weight="bold" fill="#000" text-anchor="end">EGFR</text>
<rect x="944.79" y="1646.84" width="9.00" height="166.36" fill="#000"/>
<rect x="954.39" y="1629.17" width="7.10" height="184.03" fill="#fff" stroke="#1a1a1a" stroke-width="1.2"/>
<line x1="949.29" y1="1646.84" x2="949.29" y2="1644.96" stroke="#000" stroke-width="1.3"/>
<rect x="947.29" y="1644.16" width="4.00" height="1.80" fill="#000"/>
<line x1="957.94" y1="1628.57" x2="957.94" y2="1621.97" stroke="#000" stroke-width="1.3"/>
<rect x="955.94" y="1621.17" width="4.00" height="1.80" fill="#000"/>
<text transform="translate(962.50,1820.00) scale(1.060,1) rotate(-90)" font-size="25.6" font-weight="bold" fill="#000" text-anchor="end">FGF1</text>
<rect x="974.31" y="1673.22" width="9.00" height="139.98" fill="#000"/>
<rect x="983.91" y="1657.62" width="7.10" height="155.58" fill="#fff" stroke="#1a1a1a" stroke-width="1.2"/>
<line x1="978.81" y1="1673.22" x2="978.81" y2="1671.33" stroke="#000" stroke-width="1.3"/>
<rect x="976.81" y="1670.53" width="4.00" height="1.80" fill="#000"/>
<line x1="987.46" y1="1657.02" x2="987.46" y2="1655.89" stroke="#000" stroke-width="1.3"/>
<rect x="985.46" y="1655.09" width="4.00" height="1.80" fill="#000"/>
<text transform="translate(992.20,1820.00) scale(1.060,1) rotate(-90)" font-size="25.6" font-weight="bold" fill="#000" text-anchor="end">FN1</text>
<rect x="1003.82" y="1640.25" width="9.00" height="172.95" fill="#000"/>
<rect x="1013.42" y="1638.02" width="7.10" height="175.18" fill="#fff" stroke="#1a1a1a" stroke-width="1.2"/>
<line x1="1008.32" y1="1640.25" x2="1008.32" y2="1639.12" stroke="#000" stroke-width="1.3"/>
<rect x="1006.32" y="1638.32" width="4.00" height="1.80" fill="#000"/>
<line x1="1016.97" y1="1637.42" x2="1016.97" y2="1635.54" stroke="#000" stroke-width="1.3"/>
<rect x="1014.97" y="1634.74" width="4.00" height="1.80" fill="#000"/>
<text transform="translate(1021.90,1820.00) scale(1.060,1) rotate(-90)" font-size="25.6" font-weight="bold" fill="#000" text-anchor="end">GNG10</text>
<rect x="1033.33" y="1646.28" width="9.00" height="166.92" fill="#000"/>
<rect x="1042.93" y="1635.20" width="7.10" height="178.00" fill="#fff" stroke="#1a1a1a" stroke-width="1.2"/>
<line x1="1037.83" y1="1646.28" x2="1037.83" y2="1642.51" stroke="#000" stroke-width="1.3"/>
<rect x="1035.83" y="1641.71" width="4.00" height="1.80" fill="#000"/>
<line x1="1046.48" y1="1634.60" x2="1046.48" y2="1631.77" stroke="#000" stroke-width="1.3"/>
<rect x="1044.48" y="1630.97" width="4.00" height="1.80" fill="#000"/>
<text transform="translate(1051.60,1820.00) scale(1.060,1) rotate(-90)" font-size="25.6" font-weight="bold" fill="#000" text-anchor="end">GNG5</text>
<rect x="1062.84" y="1651.18" width="9.00" height="162.02" fill="#000"/>
<rect x="1072.44" y="1645.18" width="7.10" height="168.02" fill="#fff" stroke="#1a1a1a" stroke-width="1.2"/>
<line x1="1067.34" y1="1651.18" x2="1067.34" y2="1650.05" stroke="#000" stroke-width="1.3"/>
<rect x="1065.34" y="1649.25" width="4.00" height="1.80" fill="#000"/>
<line x1="1075.99" y1="1644.58" x2="1075.99" y2="1643.45" stroke="#000" stroke-width="1.3"/>
<rect x="1073.99" y="1642.65" width="4.00" height="1.80" fill="#000"/>
<text transform="translate(1081.30,1820.00) scale(1.060,1) rotate(-90)" font-size="25.6" font-weight="bold" fill="#000" text-anchor="end">HSP90B1</text>
<rect x="1092.35" y="1640.44" width="9.00" height="172.76" fill="#000"/>
<rect x="1101.95" y="1639.34" width="7.10" height="173.86" fill="#fff" stroke="#1a1a1a" stroke-width="1.2"/>
<line x1="1096.85" y1="1640.44" x2="1096.85" y2="1639.31" stroke="#000" stroke-width="1.3"/>
<rect x="1094.85" y="1638.51" width="4.00" height="1.80" fill="#000"/>
<line x1="1105.50" y1="1638.74" x2="1105.50" y2="1636.86" stroke="#000" stroke-width="1.3"/>
<rect x="1103.50" y="1636.06" width="4.00" height="1.80" fill="#000"/>
<text transform="translate(1111.00,1820.00) scale(1.060,1) rotate(-90)" font-size="25.6" font-weight="bold" fill="#000" text-anchor="end">ITGAV</text>
<rect x="1121.86" y="1647.22" width="9.00" height="165.98" fill="#000"/>
<rect x="1131.46" y="1635.01" width="7.10" height="178.19" fill="#fff" stroke="#1a1a1a" stroke-width="1.2"/>
<line x1="1126.36" y1="1647.22" x2="1126.36" y2="1645.34" stroke="#000" stroke-width="1.3"/>
<rect x="1124.36" y="1644.54" width="4.00" height="1.80" fill="#000"/>
<line x1="1135.01" y1="1634.41" x2="1135.01" y2="1632.52" stroke="#000" stroke-width="1.3"/>
<rect x="1133.01" y="1631.72" width="4.00" height="1.80" fill="#000"/>
<text transform="translate(1140.70,1820.00) scale(1.060,1) rotate(-90)" font-size="25.6" font-weight="bold" fill="#000" text-anchor="end">LAMC1</text>
<rect x="1151.38" y="1648.92" width="9.00" height="164.28" fill="#000"/>
<rect x="1160.98" y="1641.79" width="7.10" height="171.41" fill="#fff" stroke="#1a1a1a" stroke-width="1.2"/>
<line x1="1155.88" y1="1648.92" x2="1155.88" y2="1647.78" stroke="#000" stroke-width="1.3"/>
<rect x="1153.88" y="1646.98" width="4.00" height="1.80" fill="#000"/>
<line x1="1164.53" y1="1641.19" x2="1164.53" y2="1640.06" stroke="#000" stroke-width="1.3"/>
<rect x="1162.53" y="1639.26" width="4.00" height="1.80" fill="#000"/>
<text transform="translate(1170.40,1820.00) scale(1.060,1) rotate(-90)" font-size="25.6" font-weight="bold" fill="#000" text-anchor="end">TNC</text>
<rect x="1180.89" y="1660.41" width="9.00" height="152.79" fill="#000"/>
<rect x="1190.49" y="1640.10" width="7.10" height="173.10" fill="#fff" stroke="#1a1a1a" stroke-width="1.2"/>
<line x1="1185.39" y1="1660.41" x2="1185.39" y2="1658.52" stroke="#000" stroke-width="1.3"/>
<rect x="1183.39" y="1657.72" width="4.00" height="1.80" fill="#000"/>
<line x1="1194.04" y1="1639.50" x2="1194.04" y2="1638.36" stroke="#000" stroke-width="1.3"/>
<rect x="1192.04" y="1637.56" width="4.00" height="1.80" fill="#000"/>
<text transform="translate(1200.10,1820.00) scale(1.060,1) rotate(-90)" font-size="25.6" font-weight="bold" fill="#000" text-anchor="end">HSPG2</text>
<text x="785.0" y="1643.3" font-size="46.5" font-weight="bold" text-anchor="middle">*</text>
<text x="813.1" y="1643.3" font-size="46.5" font-weight="bold" text-anchor="middle">*</text>
<text x="841.6" y="1643.3" font-size="46.5" font-weight="bold" text-anchor="middle">*</text>
<text x="869.2" y="1643.3" font-size="46.5" font-weight="bold" text-anchor="middle">*</text>
<text x="897.8" y="1643.3" font-size="46.5" font-weight="bold" text-anchor="middle">*</text>
<text x="958.3" y="1633.2" font-size="46.5" font-weight="bold" text-anchor="middle">*</text>
<text x="986.3" y="1661.8" font-size="46.5" font-weight="bold" text-anchor="middle">*</text>
<text x="1047.5" y="1639.2" font-size="46.5" font-weight="bold" text-anchor="middle">*</text>
<text x="1075.4" y="1639.2" font-size="46.5" font-weight="bold" text-anchor="middle">*</text>
<text x="1133.3" y="1629.8" font-size="46.5" font-weight="bold" text-anchor="middle">*</text>
<text x="1160.2" y="1629.8" font-size="46.5" font-weight="bold" text-anchor="middle">*</text>
<text x="1188.8" y="1629.8" font-size="46.5" font-weight="bold" text-anchor="middle">*</text>
<text transform="translate(645.40,1696.60) scale(0.970,1) rotate(-90)" font-size="26" font-weight="bold" fill="#000" text-anchor="middle">Protein levels</text>
<text transform="translate(1327.6,1064.2) scale(0.94,1)" font-size="48" font-weight="bold">E</text>
<text x="1635.0" y="1149.5" font-size="26" font-weight="bold" fill="#000" text-anchor="middle">Fold change of proteins induced by hypoxia</text>
<text x="1635.0" y="1182.7" font-size="26" font-weight="bold" fill="#000" text-anchor="middle">(proteins in EGFR/PI3K/AKT pathway</text>
<text x="1634.9" y="1214.7" font-size="26" font-weight="bold" fill="#000" text-anchor="middle">regulated by CEBPD)</text>
<rect x="1372.30" y="1246.30" width="16.50" height="19.20" fill="#000"/>
<text x="1397.0" y="1264.4" font-size="26" font-weight="bold" fill="#000" text-anchor="start">Fold change induced by hypoxia (shCtrl)</text>
<rect x="1373.3" y="1273.1" width="14.5" height="14.6" fill="#fff" stroke="#000" stroke-width="2"/>
<text x="1397.0" y="1288.3" font-size="26" font-weight="bold" fill="#000" text-anchor="start">Fold change induced by hypoxia (shCEBPD)</text>
<line x1="1400.50" y1="1345.22" x2="1400.50" y2="1575.80" stroke="#a0a0a0" stroke-width="1.3"/>
<line x1="1396.50" y1="1575.80" x2="1907.50" y2="1575.80" stroke="#a0a0a0" stroke-width="1.3"/>
<line x1="1396.50" y1="1575.80" x2="1400.50" y2="1575.80" stroke="#a0a0a0" stroke-width="1.2"/>
<text x="1395.7" y="1584.4" font-size="26" font-weight="bold" fill="#000" text-anchor="end">0.0</text>
<line x1="1396.50" y1="1542.86" x2="1400.50" y2="1542.86" stroke="#a0a0a0" stroke-width="1.2"/>
<text x="1395.7" y="1551.5" font-size="26" font-weight="bold" fill="#000" text-anchor="end">0.2</text>
<line x1="1396.50" y1="1509.92" x2="1400.50" y2="1509.92" stroke="#a0a0a0" stroke-width="1.2"/>
<text x="1395.7" y="1518.5" font-size="26" font-weight="bold" fill="#000" text-anchor="end">0.4</text>
<line x1="1396.50" y1="1476.98" x2="1400.50" y2="1476.98" stroke="#a0a0a0" stroke-width="1.2"/>
<text x="1395.7" y="1485.6" font-size="26" font-weight="bold" fill="#000" text-anchor="end">0.6</text>
<line x1="1396.50" y1="1444.04" x2="1400.50" y2="1444.04" stroke="#a0a0a0" stroke-width="1.2"/>
<text x="1395.7" y="1452.6" font-size="26" font-weight="bold" fill="#000" text-anchor="end">0.8</text>
<line x1="1396.50" y1="1411.10" x2="1400.50" y2="1411.10" stroke="#a0a0a0" stroke-width="1.2"/>
<text x="1395.7" y="1419.7" font-size="26" font-weight="bold" fill="#000" text-anchor="end">1.0</text>
<line x1="1396.50" y1="1378.16" x2="1400.50" y2="1378.16" stroke="#a0a0a0" stroke-width="1.2"/>
<text x="1395.7" y="1386.8" font-size="26" font-weight="bold" fill="#000" text-anchor="end">1.2</text>
<line x1="1396.50" y1="1345.22" x2="1400.50" y2="1345.22" stroke="#a0a0a0" stroke-width="1.2"/>
<text x="1395.7" y="1353.8" font-size="26" font-weight="bold" fill="#000" text-anchor="end">1.4</text>
<line x1="1400.50" y1="1575.80" x2="1400.50" y2="1579.80" stroke="#a0a0a0" stroke-width="1.1"/>
<line x1="1430.32" y1="1575.80" x2="1430.32" y2="1579.80" stroke="#a0a0a0" stroke-width="1.1"/>
<line x1="1460.15" y1="1575.80" x2="1460.15" y2="1579.80" stroke="#a0a0a0" stroke-width="1.1"/>
<line x1="1489.97" y1="1575.80" x2="1489.97" y2="1579.80" stroke="#a0a0a0" stroke-width="1.1"/>
<line x1="1519.79" y1="1575.80" x2="1519.79" y2="1579.80" stroke="#a0a0a0" stroke-width="1.1"/>
<line x1="1549.62" y1="1575.80" x2="1549.62" y2="1579.80" stroke="#a0a0a0" stroke-width="1.1"/>
<line x1="1579.44" y1="1575.80" x2="1579.44" y2="1579.80" stroke="#a0a0a0" stroke-width="1.1"/>
<line x1="1609.26" y1="1575.80" x2="1609.26" y2="1579.80" stroke="#a0a0a0" stroke-width="1.1"/>
<line x1="1639.09" y1="1575.80" x2="1639.09" y2="1579.80" stroke="#a0a0a0" stroke-width="1.1"/>
<line x1="1668.91" y1="1575.80" x2="1668.91" y2="1579.80" stroke="#a0a0a0" stroke-width="1.1"/>
<line x1="1698.74" y1="1575.80" x2="1698.74" y2="1579.80" stroke="#a0a0a0" stroke-width="1.1"/>
<line x1="1728.56" y1="1575.80" x2="1728.56" y2="1579.80" stroke="#a0a0a0" stroke-width="1.1"/>
<line x1="1758.38" y1="1575.80" x2="1758.38" y2="1579.80" stroke="#a0a0a0" stroke-width="1.1"/>
<line x1="1788.21" y1="1575.80" x2="1788.21" y2="1579.80" stroke="#a0a0a0" stroke-width="1.1"/>
<line x1="1818.03" y1="1575.80" x2="1818.03" y2="1579.80" stroke="#a0a0a0" stroke-width="1.1"/>
<line x1="1847.85" y1="1575.80" x2="1847.85" y2="1579.80" stroke="#a0a0a0" stroke-width="1.1"/>
<line x1="1877.68" y1="1575.80" x2="1877.68" y2="1579.80" stroke="#a0a0a0" stroke-width="1.1"/>
<line x1="1907.50" y1="1575.80" x2="1907.50" y2="1579.80" stroke="#a0a0a0" stroke-width="1.1"/>
<rect x="1406.40" y="1412.91" width="9.60" height="162.89" fill="#000"/>
<rect x="1416.60" y="1416.64" width="7.30" height="159.16" fill="#fff" stroke="#1a1a1a" stroke-width="1.2"/>
<line x1="1411.20" y1="1412.91" x2="1411.20" y2="1410.44" stroke="#000" stroke-width="1.3"/>
<rect x="1409.20" y="1409.64" width="4.00" height="1.80" fill="#000"/>
<line x1="1420.25" y1="1416.04" x2="1420.25" y2="1412.75" stroke="#000" stroke-width="1.3"/>
<rect x="1418.25" y="1411.95" width="4.00" height="1.80" fill="#000"/>
<text transform="translate(1425.30,1589.00) scale(1.060,1) rotate(-90)" font-size="25.6" font-weight="bold" fill="#000" text-anchor="end">CDK6</text>
<rect x="1436.22" y="1411.10" width="9.60" height="164.70" fill="#000"/>
<rect x="1446.42" y="1413.51" width="7.30" height="162.29" fill="#fff" stroke="#1a1a1a" stroke-width="1.2"/>
<line x1="1441.02" y1="1411.10" x2="1441.02" y2="1410.11" stroke="#000" stroke-width="1.3"/>
<rect x="1439.02" y="1409.31" width="4.00" height="1.80" fill="#000"/>
<line x1="1450.07" y1="1412.91" x2="1450.07" y2="1407.15" stroke="#000" stroke-width="1.3"/>
<rect x="1448.07" y="1406.35" width="4.00" height="1.80" fill="#000"/>
<text transform="translate(1455.05,1589.00) scale(1.060,1) rotate(-90)" font-size="25.6" font-weight="bold" fill="#000" text-anchor="end">COL1A1</text>
<rect x="1466.05" y="1391.67" width="9.60" height="184.13" fill="#000"/>
<rect x="1476.25" y="1392.92" width="7.30" height="182.88" fill="#fff" stroke="#1a1a1a" stroke-width="1.2"/>
<line x1="1470.85" y1="1391.67" x2="1470.85" y2="1390.68" stroke="#000" stroke-width="1.3"/>
<rect x="1468.85" y="1389.88" width="4.00" height="1.80" fill="#000"/>
<line x1="1479.90" y1="1392.32" x2="1479.90" y2="1387.38" stroke="#000" stroke-width="1.3"/>
<rect x="1477.90" y="1386.58" width="4.00" height="1.80" fill="#000"/>
<text transform="translate(1484.80,1589.00) scale(1.060,1) rotate(-90)" font-size="25.6" font-weight="bold" fill="#000" text-anchor="end">COL1A2</text>
<rect x="1495.87" y="1382.94" width="9.60" height="192.86" fill="#000"/>
<rect x="1506.07" y="1383.54" width="7.30" height="192.26" fill="#fff" stroke="#1a1a1a" stroke-width="1.2"/>
<line x1="1500.67" y1="1382.94" x2="1500.67" y2="1381.62" stroke="#000" stroke-width="1.3"/>
<rect x="1498.67" y="1380.82" width="4.00" height="1.80" fill="#000"/>
<line x1="1509.72" y1="1382.94" x2="1509.72" y2="1381.62" stroke="#000" stroke-width="1.3"/>
<rect x="1507.72" y="1380.82" width="4.00" height="1.80" fill="#000"/>
<text transform="translate(1514.55,1589.00) scale(1.060,1) rotate(-90)" font-size="25.6" font-weight="bold" fill="#000" text-anchor="end">COL5A1</text>
<rect x="1525.69" y="1405.50" width="9.60" height="170.30" fill="#000"/>
<rect x="1535.89" y="1390.29" width="7.30" height="185.51" fill="#fff" stroke="#1a1a1a" stroke-width="1.2"/>
<line x1="1530.49" y1="1405.50" x2="1530.49" y2="1404.18" stroke="#000" stroke-width="1.3"/>
<rect x="1528.49" y="1403.38" width="4.00" height="1.80" fill="#000"/>
<line x1="1539.54" y1="1389.69" x2="1539.54" y2="1388.70" stroke="#000" stroke-width="1.3"/>
<rect x="1537.54" y="1387.90" width="4.00" height="1.80" fill="#000"/>
<text transform="translate(1544.30,1589.00) scale(1.060,1) rotate(-90)" font-size="25.6" font-weight="bold" fill="#000" text-anchor="end">COL6A1</text>
<rect x="1555.52" y="1400.07" width="9.60" height="175.73" fill="#000"/>
<rect x="1565.72" y="1386.83" width="7.30" height="188.97" fill="#fff" stroke="#1a1a1a" stroke-width="1.2"/>
<line x1="1560.32" y1="1400.07" x2="1560.32" y2="1399.08" stroke="#000" stroke-width="1.3"/>
<rect x="1558.32" y="1398.28" width="4.00" height="1.80" fill="#000"/>
<line x1="1569.37" y1="1386.23" x2="1569.37" y2="1384.91" stroke="#000" stroke-width="1.3"/>
<rect x="1567.37" y="1384.11" width="4.00" height="1.80" fill="#000"/>
<text transform="translate(1574.05,1589.00) scale(1.060,1) rotate(-90)" font-size="25.6" font-weight="bold" fill="#000" text-anchor="end">COL6A2</text>
<rect x="1585.34" y="1398.25" width="9.60" height="177.55" fill="#000"/>
<rect x="1595.54" y="1388.64" width="7.30" height="187.16" fill="#fff" stroke="#1a1a1a" stroke-width="1.2"/>
<line x1="1590.14" y1="1398.25" x2="1590.14" y2="1397.27" stroke="#000" stroke-width="1.3"/>
<rect x="1588.14" y="1396.47" width="4.00" height="1.80" fill="#000"/>
<line x1="1599.19" y1="1388.04" x2="1599.19" y2="1387.05" stroke="#000" stroke-width="1.3"/>
<rect x="1597.19" y="1386.25" width="4.00" height="1.80" fill="#000"/>
<text transform="translate(1603.80,1589.00) scale(1.060,1) rotate(-90)" font-size="25.6" font-weight="bold" fill="#000" text-anchor="end">COL6A3</text>
<rect x="1615.16" y="1399.24" width="9.60" height="176.56" fill="#000"/>
<rect x="1625.36" y="1401.32" width="7.30" height="174.48" fill="#fff" stroke="#1a1a1a" stroke-width="1.2"/>
<line x1="1619.96" y1="1399.24" x2="1619.96" y2="1397.92" stroke="#000" stroke-width="1.3"/>
<rect x="1617.96" y="1397.12" width="4.00" height="1.80" fill="#000"/>
<line x1="1629.01" y1="1400.72" x2="1629.01" y2="1399.41" stroke="#000" stroke-width="1.3"/>
<rect x="1627.01" y="1398.61" width="4.00" height="1.80" fill="#000"/>
<text transform="translate(1633.55,1589.00) scale(1.060,1) rotate(-90)" font-size="25.6" font-weight="bold" fill="#000" text-anchor="end">EGFR</text>
<rect x="1644.99" y="1377.34" width="9.60" height="198.46" fill="#000"/>
<rect x="1655.19" y="1392.27" width="7.30" height="183.53" fill="#fff" stroke="#1a1a1a" stroke-width="1.2"/>
<line x1="1649.79" y1="1377.34" x2="1649.79" y2="1370.75" stroke="#000" stroke-width="1.3"/>
<rect x="1647.79" y="1369.95" width="4.00" height="1.80" fill="#000"/>
<line x1="1658.84" y1="1391.67" x2="1658.84" y2="1385.08" stroke="#000" stroke-width="1.3"/>
<rect x="1656.84" y="1384.28" width="4.00" height="1.80" fill="#000"/>
<text transform="translate(1663.30,1589.00) scale(1.060,1) rotate(-90)" font-size="25.6" font-weight="bold" fill="#000" text-anchor="end">FGF1</text>
<rect x="1674.81" y="1385.57" width="9.60" height="190.23" fill="#000"/>
<rect x="1685.01" y="1392.27" width="7.30" height="183.53" fill="#fff" stroke="#1a1a1a" stroke-width="1.2"/>
<line x1="1679.61" y1="1385.57" x2="1679.61" y2="1383.10" stroke="#000" stroke-width="1.3"/>
<rect x="1677.61" y="1382.30" width="4.00" height="1.80" fill="#000"/>
<line x1="1688.66" y1="1391.67" x2="1688.66" y2="1390.35" stroke="#000" stroke-width="1.3"/>
<rect x="1686.66" y="1389.55" width="4.00" height="1.80" fill="#000"/>
<text transform="translate(1693.05,1589.00) scale(1.060,1) rotate(-90)" font-size="25.6" font-weight="bold" fill="#000" text-anchor="end">FN1</text>
<rect x="1704.64" y="1397.43" width="9.60" height="178.37" fill="#000"/>
<rect x="1714.84" y="1407.75" width="7.30" height="168.05" fill="#fff" stroke="#1a1a1a" stroke-width="1.2"/>
<line x1="1709.44" y1="1397.43" x2="1709.44" y2="1394.96" stroke="#000" stroke-width="1.3"/>
<rect x="1707.44" y="1394.16" width="4.00" height="1.80" fill="#000"/>
<line x1="1718.49" y1="1407.15" x2="1718.49" y2="1405.50" stroke="#000" stroke-width="1.3"/>
<rect x="1716.49" y="1404.70" width="4.00" height="1.80" fill="#000"/>
<text transform="translate(1722.80,1589.00) scale(1.060,1) rotate(-90)" font-size="25.6" font-weight="bold" fill="#000" text-anchor="end">GNG10</text>
<rect x="1734.46" y="1398.25" width="9.60" height="177.55" fill="#000"/>
<rect x="1744.66" y="1399.51" width="7.30" height="176.29" fill="#fff" stroke="#1a1a1a" stroke-width="1.2"/>
<line x1="1739.26" y1="1398.25" x2="1739.26" y2="1391.67" stroke="#000" stroke-width="1.3"/>
<rect x="1737.26" y="1390.87" width="4.00" height="1.80" fill="#000"/>
<line x1="1748.31" y1="1398.91" x2="1748.31" y2="1396.44" stroke="#000" stroke-width="1.3"/>
<rect x="1746.31" y="1395.64" width="4.00" height="1.80" fill="#000"/>
<text transform="translate(1752.55,1589.00) scale(1.060,1) rotate(-90)" font-size="25.6" font-weight="bold" fill="#000" text-anchor="end">GNG5</text>
<rect x="1764.28" y="1399.24" width="9.60" height="176.56" fill="#000"/>
<rect x="1774.48" y="1403.14" width="7.30" height="172.66" fill="#fff" stroke="#1a1a1a" stroke-width="1.2"/>
<line x1="1769.08" y1="1399.24" x2="1769.08" y2="1396.77" stroke="#000" stroke-width="1.3"/>
<rect x="1767.08" y="1395.97" width="4.00" height="1.80" fill="#000"/>
<line x1="1778.13" y1="1402.54" x2="1778.13" y2="1401.55" stroke="#000" stroke-width="1.3"/>
<rect x="1776.13" y="1400.75" width="4.00" height="1.80" fill="#000"/>
<text transform="translate(1782.30,1589.00) scale(1.060,1) rotate(-90)" font-size="25.6" font-weight="bold" fill="#000" text-anchor="end">HSP90B1</text>
<rect x="1794.11" y="1410.28" width="9.60" height="165.52" fill="#000"/>
<rect x="1804.31" y="1409.06" width="7.30" height="166.74" fill="#fff" stroke="#1a1a1a" stroke-width="1.2"/>
<line x1="1798.91" y1="1410.28" x2="1798.91" y2="1409.29" stroke="#000" stroke-width="1.3"/>
<rect x="1796.91" y="1408.49" width="4.00" height="1.80" fill="#000"/>
<line x1="1807.96" y1="1408.46" x2="1807.96" y2="1406.82" stroke="#000" stroke-width="1.3"/>
<rect x="1805.96" y="1406.02" width="4.00" height="1.80" fill="#000"/>
<text transform="translate(1812.05,1589.00) scale(1.060,1) rotate(-90)" font-size="25.6" font-weight="bold" fill="#000" text-anchor="end">ITGAV</text>
<rect x="1823.93" y="1397.43" width="9.60" height="178.37" fill="#000"/>
<rect x="1834.13" y="1397.70" width="7.30" height="178.10" fill="#fff" stroke="#1a1a1a" stroke-width="1.2"/>
<line x1="1828.73" y1="1397.43" x2="1828.73" y2="1395.78" stroke="#000" stroke-width="1.3"/>
<rect x="1826.73" y="1394.98" width="4.00" height="1.80" fill="#000"/>
<line x1="1837.78" y1="1397.10" x2="1837.78" y2="1395.45" stroke="#000" stroke-width="1.3"/>
<rect x="1835.78" y="1394.65" width="4.00" height="1.80" fill="#000"/>
<text transform="translate(1841.80,1589.00) scale(1.060,1) rotate(-90)" font-size="25.6" font-weight="bold" fill="#000" text-anchor="end">LAMC1</text>
<rect x="1853.75" y="1398.25" width="9.60" height="177.55" fill="#000"/>
<rect x="1863.95" y="1403.14" width="7.30" height="172.66" fill="#fff" stroke="#1a1a1a" stroke-width="1.2"/>
<line x1="1858.55" y1="1398.25" x2="1858.55" y2="1396.61" stroke="#000" stroke-width="1.3"/>
<rect x="1856.55" y="1395.81" width="4.00" height="1.80" fill="#000"/>
<line x1="1867.60" y1="1402.54" x2="1867.60" y2="1401.55" stroke="#000" stroke-width="1.3"/>
<rect x="1865.60" y="1400.75" width="4.00" height="1.80" fill="#000"/>
<text transform="translate(1871.55,1589.00) scale(1.060,1) rotate(-90)" font-size="25.6" font-weight="bold" fill="#000" text-anchor="end">TNC</text>
<rect x="1883.58" y="1382.94" width="9.60" height="192.86" fill="#000"/>
<rect x="1893.78" y="1387.98" width="7.30" height="187.82" fill="#fff" stroke="#1a1a1a" stroke-width="1.2"/>
<line x1="1888.38" y1="1382.94" x2="1888.38" y2="1379.64" stroke="#000" stroke-width="1.3"/>
<rect x="1886.38" y="1378.84" width="4.00" height="1.80" fill="#000"/>
<line x1="1897.43" y1="1387.38" x2="1897.43" y2="1386.39" stroke="#000" stroke-width="1.3"/>
<rect x="1895.43" y="1385.60" width="4.00" height="1.80" fill="#000"/>
<text transform="translate(1901.30,1589.00) scale(1.060,1) rotate(-90)" font-size="25.6" font-weight="bold" fill="#000" text-anchor="end">HSPG2</text>
<text x="1536.7" y="1393.7" font-size="46.5" font-weight="bold" text-anchor="middle">*</text>
<text x="1568.0" y="1393.7" font-size="46.5" font-weight="bold" text-anchor="middle">*</text>
<text x="1598.3" y="1397.3" font-size="46.5" font-weight="bold" text-anchor="middle">*</text>
<text x="1689.1" y="1393.7" font-size="46.5" font-weight="bold" text-anchor="middle">*</text>
<text x="1720.0" y="1400.6" font-size="46.5" font-weight="bold" text-anchor="middle">*</text>
<text x="1866.9" y="1404.1" font-size="46.5" font-weight="bold" text-anchor="middle">*</text>
<text transform="translate(1317.00,1491.80) scale(1.050,1) rotate(-90)" font-size="26" font-weight="bold" fill="#000" text-anchor="middle">Fold change</text>
<text transform="translate(1351.6,1486.2) scale(1.05,1) rotate(-90)" font-size="25.6" font-weight="bold" text-anchor="middle">(Exp in 1% O<tspan font-size="16" dy="7">2</tspan><tspan dy="-7">/ Exp in 20% O</tspan><tspan font-size="16" dy="7">2</tspan><tspan dy="-7">)</tspan></text>
</svg>
</body></html>
